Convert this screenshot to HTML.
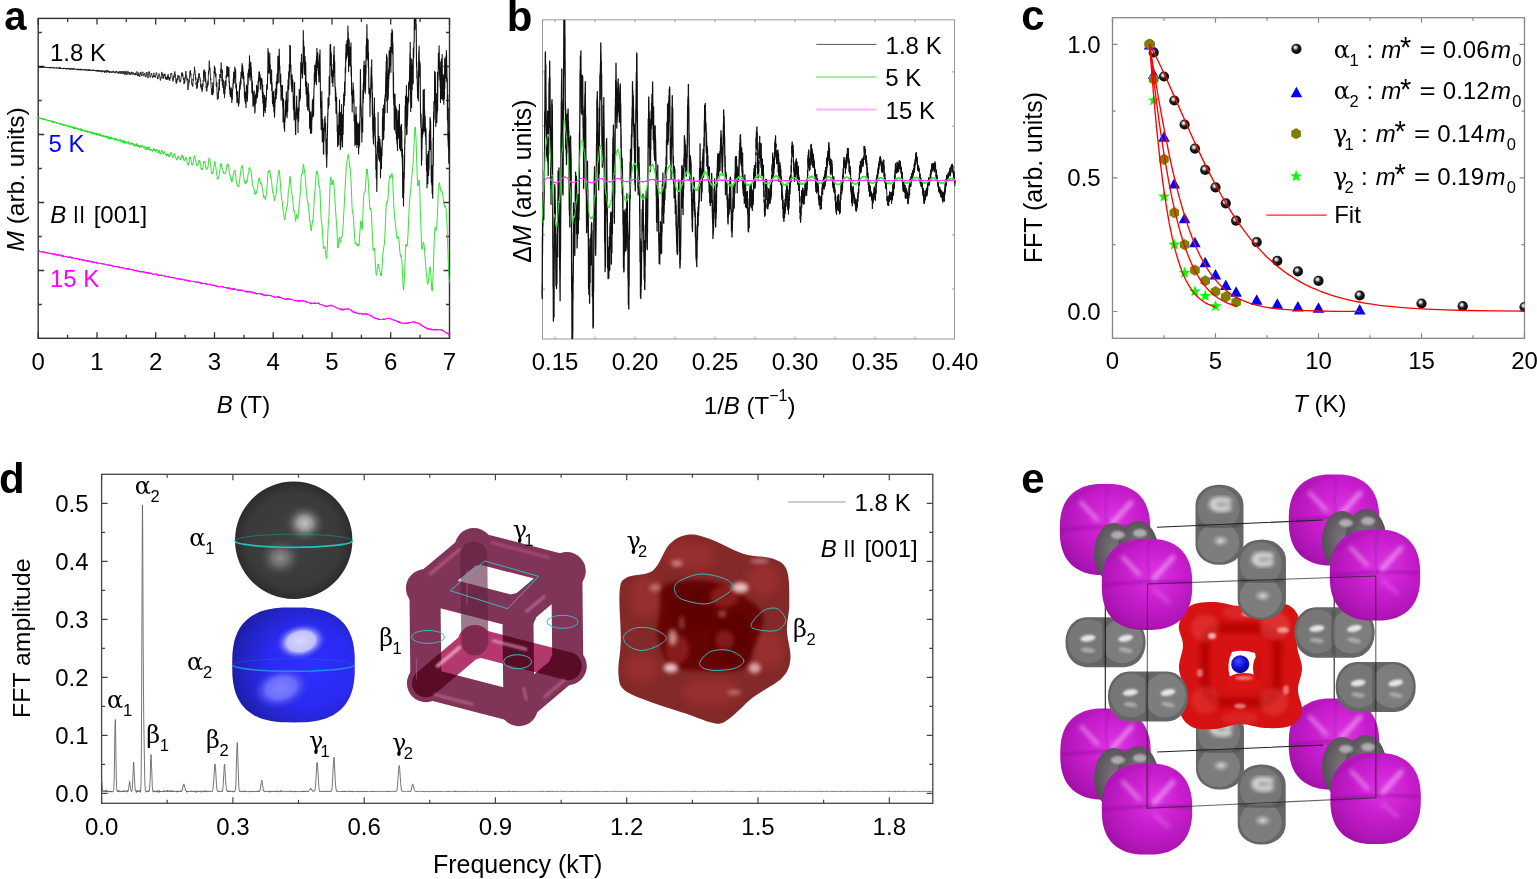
<!DOCTYPE html>
<html><head><meta charset="utf-8"><title>Quantum oscillations</title>
<style>html,body{margin:0;padding:0;background:#fff;} svg{display:block;} text{font-family:'Liberation Sans',Arial,Helvetica,sans-serif;}</style></head>
<body><svg width="1537" height="879" viewBox="0 0 1537 879" style="font-family:'Liberation Sans',Arial,Helvetica,sans-serif">
<rect width="1537" height="879" fill="#fff"/>
<rect x="38.2" y="18.4" width="411.3" height="319.9" fill="none" stroke="#333" stroke-width="1.4"/>
<path d="M38.2,338.3v-6M38.2,18.4v6M67.6,338.3v-3.5M67.6,18.4v3.5M97.0,338.3v-6M97.0,18.4v6M126.3,338.3v-3.5M126.3,18.4v3.5M155.7,338.3v-6M155.7,18.4v6M185.1,338.3v-3.5M185.1,18.4v3.5M214.5,338.3v-6M214.5,18.4v6M243.9,338.3v-3.5M243.9,18.4v3.5M273.2,338.3v-6M273.2,18.4v6M302.6,338.3v-3.5M302.6,18.4v3.5M332.0,338.3v-6M332.0,18.4v6M361.4,338.3v-3.5M361.4,18.4v3.5M390.7,338.3v-6M390.7,18.4v6M420.1,338.3v-3.5M420.1,18.4v3.5M449.5,338.3v-6M449.5,18.4v6M38.2,32.5h3.5M449.5,32.5h-3.5M38.2,66.5h6M449.5,66.5h-6M38.2,100.5h3.5M449.5,100.5h-3.5M38.2,134.5h6M449.5,134.5h-6M38.2,168.5h3.5M449.5,168.5h-3.5M38.2,202.5h6M449.5,202.5h-6M38.2,236.5h3.5M449.5,236.5h-3.5M38.2,270.5h6M449.5,270.5h-6M38.2,304.5h3.5M449.5,304.5h-3.5" stroke="#333" stroke-width="1.3" fill="none"/>
<text x="38.2" y="370.2" text-anchor="middle" fill="#000" style="font-size:24px" >0</text>
<text x="97.0" y="370.2" text-anchor="middle" fill="#000" style="font-size:24px" >1</text>
<text x="155.7" y="370.2" text-anchor="middle" fill="#000" style="font-size:24px" >2</text>
<text x="214.5" y="370.2" text-anchor="middle" fill="#000" style="font-size:24px" >3</text>
<text x="273.2" y="370.2" text-anchor="middle" fill="#000" style="font-size:24px" >4</text>
<text x="332.0" y="370.2" text-anchor="middle" fill="#000" style="font-size:24px" >5</text>
<text x="390.7" y="370.2" text-anchor="middle" fill="#000" style="font-size:24px" >6</text>
<text x="449.5" y="370.2" text-anchor="middle" fill="#000" style="font-size:24px" >7</text>
<text x="243.5" y="413" text-anchor="middle" style="font-size:24px"><tspan style="font-style:italic">B</tspan> (T)</text>
<text transform="translate(24.4,179.4) rotate(-90)" text-anchor="middle" style="font-size:24.5px"><tspan style="font-style:italic">M</tspan> (arb. units)</text>
<text x="49.9" y="60.8" text-anchor="start" fill="#000" style="font-size:24px" >1.8 K</text>
<text x="48.6" y="152.2" text-anchor="start" fill="#0000ff" style="font-size:24px" >5 K</text>
<text x="50.3" y="222.6" style="font-size:24px;font-style:italic">B</text><text transform="translate(72.8,218.9) scale(1,0.734)" style="font-size:24px">||</text><text x="93.7" y="222.6" style="font-size:24px">[001]</text>
<text x="49.9" y="286.6" text-anchor="start" fill="#ff00ff" style="font-size:24px" >15 K</text>
<path d="M38.2,67.0l.2-.7.2,.5.3,.4.1-.7.2,.8.2-.3.1,.1.2-.7.1,1.3.1-.8.1-.1.1,.5.4-.8.2,1 .3-.9.2,1.1.1-1.1.2,.5.1-.4.4,.5.1-.5.2,1.1.3-1.2.2,.9.1-.3.6,.1.1-.2.2,.3.3-.6.3,.5.3-.4.2,.2.1-.4.3,.7.2-.4.1,.1.3,.8.3-.8.1,0 .1,.6.1-.7.2,.5.2-.3.4,.8.1-.4.1,.3.1-.6.2,.1.1-.3.2,.5.1-.3.2,.3.1-.3.2,.5.1-.3.3,.1.2-.6.4,1.2.1-.6.3,.6.2-.8.1,.4.1-.1.2,.2.1-.6.1,.8.2-1.1.2,.6.1-.1.2,.5.3-.5.1,.5.2-.7.3,.9.1-.2.1,.2.1-.8.3,.1.2,.6.1-.4.3,.3.2-.4.4,.8.1-.6.1-.1.4,.3.1-.4.4,.5.2-.3.3,.6.2-.8.1,.3.2-.3.3,.9.3-1 .1,.4.1-.1.5,.2.3-.1.5,.5.2-.6.1,1 .2-1.3.3,1 .2-.8.1,.6.1-.4.3,.4.1-1.2.1,1.2.4-.2.1,.1.1-.4.3,.9.1-.5.1,.1.1-.2.2,.6.1-.1.1,.1.1-.4.1,.4.3-.5.1,.5.2,0 .2-.4.1,.9.1-.6.1,.4.3-.9.1,.5.1-.3.1,.4.2-.9.3,1.1.3-.6.1,.4.2-.2.1,.4.2-.8.1,.3.1-.2.1,.4.1-.2.2,.6.2-.8.4,.2.1,1.1.1-1 .1,.1.2-.2.2,.9.4-1.1.2,.8.1-.9.1,.8.2-.8.2,.8.3-.6.1,.7.1-.7.1,.7.1-.7.3,1.2.2-1.2.3-.1.2,.9.2-.3.2,.6.1-.6.1,.8.4-1.3.2,.6.1-.2.4,.7.1-.9.3,.7.2-.7.1,.4.1-.3.2,.8.3-.7.3,.7.1-.7.1,.9.1-1 .2,.4.1-.4.6,.8.1-.6.4-.3.1,.5.1,.1.1-.2.3,.5.1,0 .1-.5.1,.4.2,0 .1,.2.1-.3.1,.2.1-.3.2,.4.2-.4.1,.4.3-.2.1,.9.1-1.2.2,.8.2-.8.1,.8.2-.5.2,.2.1-.9.1,1.5.1-1 .3,.9.2-.6.4,0 .3,.9.1-1.1.2,.7.1-.6.1,.1.1,.7.2-1.3.4,1.1.3-.4.1,.7.1-.7.1,0 .2,.2.1-.1.1-.6.2,1.3.2-.4.1,.2.1-.8.3,.7.2-.6.1,.6.3-.2.3,.2.1-.4.2,.5.1-.6.1,.3.2-.3.4,.9.1-1.3.5,1.3.1-.7.2,.3.1-.2.1,.2.2-.4.2,.5.1-.3.1,.3.2-.6.2,.7.1-.3.1,.5.4-.7.2,.8.3-.7.3,.7.1-.7.3,.7.2-1.3.1,.9.3,.3.1-.4.1,.8.4-1.4.2,.7.2,.1.1-.2.2,.2.1,.5.2-.7.2,1 .2-.2.3-.9.1,.6.4-.7.1,1 .1-.6.1,.2.3-.1.1,.7.4-1.1.2,.8.2-.9.4,1.2.2-.7.3,.5.1-.5.3,.2.2-.3.1,.4.1-.4.4,1.1.2-1.2.2,.7.1-.7.1,1.1.4-1.1.2,1.1.1-.3.2,.3.1-1.3.3,1.5.3-.1.1-.9.4,.9.2-1.1.2,1 .2-.4.1,.5.2-.8.2,.4.1-.1.1,.8.2-.8.3,0 .1,.4.2-.4.2,.6.1-1 .3,1.3.2-.9.1,.4.1-.2.1,.1.1-.3.2,1.5.2-1.5.1,.3.3-.5.2,.9.5-.8.2,.8.3-.1.2,.2.1-.8.4,1.8.3-1.9.6,.9.3-1.3.4,2.6.5-2.2.3,1.3.3-.2.2-1.8.1,1.3.2,.2.1-.1.2,.7.4-1.5.1,.2.4,1.9.3-1.4.3-.1.1,1.2.1-.4.1,.7.3-1.4.3,.2.4,.9.1-.6.4-.3.5,1.4.3-1.6.2,.2.2-.1.4,1.2.4-1.8.2,.8.3,.6.1-.1.2,.3.3-.7.4,1.3.1-.8.1,1 .3-1.3.3-.5.3,1.1.1-.1.1,.1.5-1.6.4,.9.1,1.1.1-.7.3,.1.3-.5.3,.3.1,1.2.3,.6.5-2.6.2,.5.1-.1.1,1.6.8-2.2.5,2.3.1-.4.2,0 .1,.6.2-2 .2,.4.1-.3.5,2.2.6-1.8.1-1.2.3,1 .3,2.2.4-.7.2-1.8.2-.5.2,1.2.1-.5.3,3 .5-2.6.1,.9.2-1.6.1,1.4.4,1.2.1,0 .1,1.1.6-4.4.7,3.6.3-.9.1,.1.1-1.2.1,.7.3-1.5.7,3.3.2-.1.5-2.7.1,.4.2-.1.1,1.2.1-.3.2,1.2.3-.5.1,.5.1-1.1.2,.2.1-.3.2-1.5.1,.7.2-.2.1,.2.1,1.4.1-.4.1,.7.2-.6.1,.6.1-.2.1,.1.1-.5.2,0 .1-1.4.2,1.2.3,.6.1-.2.1,.9.1-.1.2,.3.1-.4.1,.5.2-1.2.4-.1.2,.4.2-1.3.3,2.4.2-.7.2,.4.1-.6.1,.5.2-1.5.4-1.9.2,1.5.1-.2.2,1.1.1,1.8.2-.5.2,1.1.3-1.5.1,.9.1-1.6.4-1.5.1,1.6.1-.3.1,.2.4,2.4.1-.3.1,.6.3-.3.1-1.9.1,.3.4-2 .1,.6.2-1.6.3,2.8.1-.2.5,1.7.5-3.5.3,.2.3-1 .6,4 .1,.3.1-.5.3,.5.3-2 .4-.5.1-.7.1,1.5.1-.2.2,.2.3,2.7.3-1 .2,.8.5-3.1.1,.2.1-1.9.2,.2.1-.3.2,1.8.3,.1.5,4.2.2-2.4.2-.4.2-1 .1,.2.3-3.2.2,1.5.1-.8.2,2 .1-.6.3,3.6.2,.3.2-.3.1,.4.7-2.4.2-1.8.2,.7.1-.3.2,.8.3,1.6.2,.7.1-.3.2,1.4.1-.7.1,.7.2-1.9.2,1 .1-.5.1-1.9.4-1.7.4,1.6.2,1.6.1-.7.1,1.3.1-.7.3,1.3.1-.5.4,.7.6-4.6.1,.1.2-.4.9,3.9.1,1.8.1-.3.1,1.2.2-.9.1-.1.1,.5.2-1 .2-1.8.3-.6.1-1.5.2,.3.1-.3 1.3,6.8.1-1 .2,.3.2-2.4.1,.8.1-1.9.2,.3.1-2 .5-2.7.3,3.1.2-1.3.3,2.6.1-.4.2,2.9.2-2.2.2,1.4.2-.9.1,1.1.2-4.1.3,2.1.3-2.2.3,.8.1-1.1.5,3.4.1-.5.1,2.2.1-1.9.2,2.1.2-1.5.1,.1.1,2.4.3-1.5.1,1.3.1-.2.2-1.6.1,1.5.1-2.9.1,2.3.4-3.1.2-1.1.1,.6.2-.9.1,4.1.1-2.1.5,2.9.2-1.2.3,2.3.1-2.9.1,0 .1,3 .3-3 .1,.8.2-1.4.2,0 .3-3 .1,.3.2-.9.1,.2.1-.5.2,.5.2-.4.1,2.1.5,2.8.1,.4.1-.1.1,1.2.2-1.4.2,3.4.5-2.7.1-2.7.2,2.1.2-2.6.1,1.4.2-3.5.3,1.4.2-3.4.3,3.8.1,.5.1-1.2.2,3.9.2,.8.1-.4.2,3.1.1-.8.2,2.4.3-4.1.2,3.1.4-4.6.3,1.8.3-4.5.3,.6.2-.5.1,.2.2,.8.1,0 .1,2 .3-2.5.1,4.2.2-.7.3,1.9.1-1.1.1,.1.2,1.8.2-1 .1,1 .1,0 1-7.8.2,.2.1-1.4.2,2.3.1-3.1.2,1.1.1,3.1.2-1.1.2-1.1.1,.1.4,4.6.1-.7.1,1.6.3-.7.2,4.9.3-1.5.1,.4.1-3.5.2,3.2.3-5.3.1,1.5.1,0 .6-7.8.3,1.1.2,4.9.3-1.4.4,4.7.2-2.3.2,5.2.1-.1.3,2.5.1,4.3.1-2.9.1-.5.1,.7.3-3.5.2,1.5.2-5.8.1,3.3.1-.3.5-8 .2,0 .3-3.3.1,2.6.1-1.2.1,1.1.1-3.5.2,5.2.1-1.8.2,4.7.3,.3.1,.7.4,5.2.1-.3.1,.1.1-1.5.1,1.8.2,.6.1-.7.2,2.1.3-2.6.1-5.2.1,1.9.4-5.7.1-.9.1,.4.1-.3.4-2.5.2-4.9.2,5.1.1-1.6.1,2.7.1-.6.1,.2.2,2.5.1-.9.1,5.4.1-3.2.2,2.7.1-.9.2,6.8.4-2.9.3,6.7.3-6.4.3,5.2.3-8.4.1,3.2.1-1.7.3,1.8.1-5.5.1,2.7.4-6.6.1,.5.1-.1.3,2.9.1-2.2.2,3.4.1,.3.2-.9.1,2.9.1-.3.1,.9.1-.5.2,.6.1-1 .1,6.9.3-2.6.2,4.3.1-3.1.1,3.5.3,1 .1-2 .1,.4.1,3.7.4-4.1.1,2.2.3-6.3.1,3.2.2-6.1.3,.8.3-9.5.2,6.6.1-8.6.1,6.2.2-6.4.4,4.9.1-2.4.3,9.3.1-9.8.4,10.5.1-3.6.5,9.7.1-2.1.1,4.6.1,0 .1-2.2.2,2.8.2-2.8.1-5.5.3,4.2.1-3.7.1,3.3.3-5.3.1,3.5.1-4.4.1,.9.3-10.4.1,3.8.1-4.3.1,2 .5-12 .2,9 .2-3 .1,3.7.1-1.8.1,2.3.3,1.2.3,8.1.2-1.8.1,5.1.1-.7.1,4.4.3,.8.1,6.2.2,.6.3-5.6.2,3.7.1-4.9.1,6.1.2-8.3.2,9.4.1-12.7.3,10.3.3-7.5.2,.3.4-14.2.2,1.4.1-7.1.1,5.1.1-2.8.1,5.6.3-5.9.1,6.6.1-2.5.3,5.3.1-1.4.2-.1.2-1.8.3,12.3.1-1.4.2,2.4.2-5.2.2,10.7.4,7 .3-3.3.1,.3.1-4.1.4,6.4.1-7.6.1,3 .4-6.8.1,3.4.2-11.8.1,10.5.3-9.5.1,2 .3-7.8.1,3.7.1-3.8.1,3.2.3-.8.3-7.9.1,4.3.2-10.3.3,8.7.1,.8.2-.8.1,1.9.1,7.8.3-11.3.1,15.3.1-8.4.2,5.2.2-2.4.1,8.4.2-7.7.1,5.4.3,1.2.1,3 .1-4.1.1,7.8.2-5.4.1,6 .1-6.3.2,10.3.2-7.4.1,3.1.1-3.1.1-9.1.2,7.6.2-8.4.1,4.8.1-5.1.3,5.8.3-10.8" fill="none" stroke="#1a1a1a" stroke-width="0.85" stroke-linejoin="round" />
<path d="M226.2,75.5l.2,2.2.2-2.4.1,1 .1-9.8.3,8.9.4-8.8.2,3.8.1-1.8.3,7.8.1-6.1.1,5 .2-7.2.3,3.7.1-4.6.2,15.3.2-1.1.2,8 .1-3.6.2,1.1.1,7.2.1-5.8.4,8.2.1-3.8.2-1.1.1,4.3.2-6.6.1,6.3.2-7.8.1,9.1.2,1.6.1-3.3.1,7.3.4-10.8.1,7.9.1-8.3.4-2.8.1,.6.1-5.3.1,3 .2-6.7.1-2.4.1,2.7.2-8.4.3,9.8.1-1.4.1,2.6.3-8.7.1,3.6.2-10.9.2,5.1.1-3.8.1,5.2.2,2.3.2-6 .2,16.2.1,1.7.3-2.1.1,3.2.1-4.8.1,10.3.2-2.4.3,10.8.1-6.5.3-1.7.1,7 .1-9.9.1,6.2.3,2.7.2-1.6.3,7.2.1-4 .2,2 .3-1.7.2-12.6.1,7.5.2-11.7.2,4.2.1-7.5.1,6.6.2-.4.2-7.9.1-.6.1,.4.2-3.4.1,7.2.1-11.9.1,5.7.3-6.1.2,4.2.5-12.5.1,4.6.1-.7.2,1 .1-3.2.1,12.6.1-10.4.3,11.4.2-7.2.1,3.2.1-1.7.2,5 .1-2.2.2,10.6.2-3.6.3,14.5.3-5.6.1,8.7.1-8.1.1-.5.1,.4.2,10.7.2-10.8.1,7 .1-2.2.2,10.4.1-13.9.1,2.5.1-8.8.2,8.9.1-11.2.1,4 .1-2 .3,11.4.1-10.2.1,13 .4-9 .2-18.9.2,11.5.2-12.9.1-.4.1,.4.1-2.4.2,7.9.1-5 .1,4.1.1-1 .1-11.6.2,5.8.1-13.8.2,14.3.3-7.3.2,17.3.2-11.9.2,6.7.1-2.1.1-10.7.2,6.4.2-1.4.1,5.6.1-.6.1,5.2.2-1.1.2,16.1.1-9.4.1-2.1.2,2.6.1-1.5.2,13.1.1-5.4.3,16.8.1-14 .1,7.9.1-2.8.2,4 .2-1.5.3-7.1.1,12.1.1-14 .1,10.6.1,1.2.2-5.7.2,15.7.1-14 .1,13.1.4-16.1.1,7.1.1-8.1.2,7.8.1-8.7.1,9.3.1-.9.2-10.7.1,6.9.1-1.2.1-12.2.3,11.2.1-8.6.1,10.1.1-10.9.3,9.7.3-7.5.1,1.9.2-9.9.1,10.3.1-9.1.4-5.5.1,5.1.1-9.9.4,5.8.2-6 .1,8.2.3-4.9.1,1.1.1-1.4.3,14.3.1-11.5.1,5 .1-3.3.2,5.5.1-6.2.1,1.2.1-.4.1,.2.2-.9.2,1.9.1-2.3.1,10.1.2-8.6.1,12.4.1-3 .2,8.1.2-12.2.2,17.8.1-1.6.2,.9.1-9.8.3,23.7.4-18.8.1,9.2.1-10.8.2,0 .1,5 .1-5.4.2,15 .2-12.9.3,14.9.1-14.3.2,6.5.2-7 .1,9.3.2-9 .1,3.2.3-7.6.2-8.6.1,4.3.1,.2.1-.8.1-3.5.2,4.2.6-22.7.1-18.1.4,11.7.1-8.5.2,20.4.3,1.3.1-6.1.1,5.2.1-14.6.1,13.6.2-10.9.1,7.3.1-14.9.1,14 .1,.7.2-3.1.1,1.2.1,14.5.1-2.7.2,6.1.1-7.2.3,3.2.2-1.1.1,2.9.2-11.6.1,20.5.2-8.1.1,3.8.1-2.2.4,19.6.1-6.7.1,5.2.1,1.5.2-3.6.2,6.3.1-13.8.3,4.1.1-5.2.2,18.7.1,2 .2-10.7.3,15.9.3-10.7.1,1.8.1-11.2.1,5.6.2-1.7.1-11.9.1,9.9.4-6.3.1,6.1.1-3.1.1,2.7.1-16.7.3,12.9.5-20.8.2,10.4.1-4.6.2,4.2.3-27.5.3,26.1.2-16 .1,6.1.4-17.2.1,0 .1,3.2.1-9.4.4,20.1.1,.5.1-3.6.2,16.6.2-9.1.4,13.2.1-12.6.4,26 .3-14.3.1,8 .2-5.8.1,9.7.3-10.8.2,12.1.2-13.8.1,18.3.2,3.8.1-6.2.2,20.7.1-17.7.3,10.1.1-15.3.2,21.2.2-2.6.1,9.6.1,.9.1-4.1.3,7.3.1-12.4.1,3.5.3-2.6.2-10.6.1,5.7.1-13.8.2,15.3.1-6 .1,4.4.4-23 .1,11.6.1-4.3.4,10.9.1-6 .1,13.7.1-10.7.3,4.5.1,.3.1-1.1.1-24.6.2,15.7.1-22.1.3,10.4.3-18.2.1,17.2.2-12.5.2,1.8.1-13.9.1,12.1.1-12.2.2,7.2.1-26.3.2,22.5.4-21.8.1,18.1.1,3.5.1,.1.2-2.6.1,14.4.1-5 .2,10.4.2-1.8.1,1.2.1,5 .1-14.1.1,16.5.2-16.8.3,12.2.4-7.2.1,5 .1-2.1.4,26.8.1-12.5.3,10.2.1-10.4.2,23.1.1-20.9.2,8.4.2-25.1.1,22.5.6,11.5.2,17.9.1-15.3.1,15.5.2-19.8.2-1.9.1,6.9.5-23.6.1,17.6.1-8.8.4,9.9.1-5.1.1,8.5.1-1.8.2,2.1.1-9.8.1,23.7.1-24.1.1,8.7.2-1.5.2,6 .4-21.2.1,10.8.1-21.8.1,7 .3,3.1.1-.5.1,2 .3-9 .2,6.7.5-36.3.3,10.8.2-3.9.1,1.1.1-16 .1,11.7.2-3.3.1,7.9.2-7.4.1,14.5.2-1.8.1,2.1.1-14.3.1,9.6.4-10.4.2-32.3.1,23.5.2-13.2.2,18.1.1-2.6.3,6.7.1-16.3.1,27.6.1-16.1.3,6.9.2-8.9.1,6.7.3,.9.1,22 .2-23.9.4,32.1.1-7.6.1,5.8.2-.5.1-10 .4,24.6.2-10.9.2,9.7.2-17.4.1,22.1.2-3.5.3-22.9.2,19.2.2-10.9.2,16.2.1-13.6.2,17 .2-1.1.1,1.7.1-3.1.1,19.3.1-15.4.2,10.9.1,2.8.1-6.8.4,13.5.3-21.4.4,20.8.2-7.3.2,7.8.2-15.2.1-.2.1,2.1.4-20.1.1,7.2.1,3.3.2-2.1.2,8.6.5-19.9.1,18.8.1-14.4.3-13.3.1,.1.1-2.6.1-12.4.3,11 .1-18.6.2,14 .2-9.4.1,11.7.1-15.1.2,11.9.4-14.9.3-2.9.2,24.1.1-28.3.1,14.3.3-22.6.2,11.5.1-1.1.2,.6.3,8 .1-14.3.4,18 .3,4.4.2-4.2.2,10.9.2-.3.1-21.2.1,12.2.2-18 .4,13.6.1-18.5.5,51.8.1,6.5.1-6.9.5,28.4.2-8.4.1,7.7.3-37.4.5,50.2.1-18.4.2,.3.1-4.1.3,18.3.3-4.6.1,20.4.1-4.9.2,5.6.1-26.3.2,1.3.1,11.7.2-12.7.1,.1.1-4.4.1,1 .1-6.7.2,7.3.1-9.1.5,15.1.1-8.6.5,30.9.1-15.2.1,18.5.1-10.7.3,20.8.2-11.8.3-1.8.1-19.9.1,1.9.4-22.4.1,2.5.2-18.1.4,10.6.2-10.7.3,7.9.2-29 .1,18.1.3-16 .1,16.3.4-50.2.2,9.2.3-9.4.1,7.2.1-.9.1,14.6.4-12 .2,22.5.1-5 .2,3.8.1-4.7.2,12.6.5-11.2.3,15.1.1-13.8.1,9.6.1-18 .3,12.1.1-19.3.1-2.1.1,6 .3-14.4.1,25.9.1-17.5.1,6.1.1,2.1.2-1.7.1,16.5.3,11 .2-2.1.1,14.1.2-11.7.2,7 .1-3.2.1,20 .4-12.5.1,6.4.1-9.7.1,11.2.3,8.4.1-.7.1,15 .1-7 .4,22.2.2-4.7.2-.4.1,2.9.1-6.9.1,3 .1-14.9.3,19.3.1-31.9.2,14.8.2-9.5.1,5.8.1-24 .2,34.8.2-16.1.1,10.3.1-16.8.3,37.3.1-19.3.1,3.6.1-.1.1,13.5.3-34.6.1,28.8.1-26.5.1,14.2.2-24.5.2,23.4.1-9.5.3,17.4.1-10.1.2,21.3.2-32.3.1,17.8.1,.2.1-11.3.1,13 .6-40.1.2,10.8.2-12.9.1,13.3.1-12.9.2,8.3.1-19.2.4,13.7.3-27.8.3,5 .1-18.3.1-1.2.1,8.9.1-17.6.2,10.9.2-3.8.1,7.3.3-3.2.1-14.6.1,.6.1,15.1.1-16.5.2,13.1.2-10.4.1,3.4.2-20.3.2,28.7.1-22.3.1,16.1.2-1.1.1,24.2.1-33.3.4,6.2.1-4.1.1,16.5.1-7.5.1,15.3.3-16.8.2,18.3.2-16.6.2,7.7.1-10.6.3,19.1.1-1 .1-22.1.1,32.9.1-9.8.2,2.4.2,26.5.4-4.1.2,21.4.1-19 .2-2 .2,12.2.4-20.3.1,17.2.1-13.3.2,12.3.2-9.3.2,12.4.1-3.2.1,21.9.2-7.9.2,6.5.1-3 .3,29.1.3-29.8.3,25.6.1-16.1.2,18.9.2-37.3.1,20.3.1-3.7.1,1.3.1-10.7.2,14.5.1-7.3.2,26.2.2-25.3.6,22.2.1-20.1.2,11.2.1,1.5.2-5.5.1,5.5.1-1.1.1,18 .3-30.4.1,24.2.4-19 .1-.3.1,16.7.1-24 .1,10.1.3-25.6.1,2.8.2-38.8.4,33.5.1-.6.1,5.9.2-1.1.1,9 .2,1.4.4,24.3.1-14.1.1,4.5.3-10.8.1,9.5.1-13.1.1,13.9.2-41.5.3,12.3.1-19.6.2,15.5.2-32.9.2,8.9.2-13.6.1,20 .1-10.7.3,15.1.1-9.4.1,15 .1-25.2.1,24.2.2-24.8.1,28.1.1-17.3.1,13.6.1-1.7.3-28.2.1,14.4.1-28.2.1,14.7.4-22.9.1,20.6.2-33.8.4,32.4.3-17.7.2,20.8.3-20.2.1,21.5.1,6 .1-15.4.5,41.7.1,.3.4-5.9.1,1 .3,5.4.2,22.2.1-15.8.1,2 .3-12.1.1,6.6.4-22.7.1,5.6.1-13 .3,15.4.2-22.9.1,29 .1-12.8.3,9.1.1,29 .1-21.5.3,34.2.1,4.4.1-4.4.2,11.2.2-14 .1,18.9.1,1.1.1-20 .3-9.7.1,18.5.1-24.1.1,3.7.2-14.6.1,29.6.1-14.2.2,22.9.3-18.7.2,29.1.1-10.1.3,10.5.1,22.4.2-10.9.3,19.9.2-23.5.3,36.7.5-45.2.2,6.7.1-10.9.1,8.8.2-9.9.1,4.7.1-33.1.2,35.5.2,2.3.1-4.3.1,13 .1-8 .2,.7.1-15.5.3,24.7.3-10.7.1,1.8.1-12.7.1,19 .2-15.7.2,13.3.1,21.9.4-30.4.1,12.7.1-4.6.2,11.1.2,1.8.1-18.6.3,6.4.1-1.6.2-15.1.1,7.3.2-30.1.1,10.9.1-1.7.1-17.3.3,10.7.1-7.4.4,27.8.1-34.6.1,32.4.1-25.1.3,18.2.4-32 .2,11.9.1-9.1.1,11.6.1-17.9.3,2.3.5-25.7.2,6.5.1-16.5.1,24.3.3-31.8.1,46.8.2-30.6.2,27.6.1-40.8.1,55.4.1-38.6.4,20.1.1-6.6.1,12.2.1-19.9.2,17.2.2-27.4.1,17.4.3-20 .1,11.7.1-28 .3,23.2.1-17.1.1,7.3.2-8.8.2,8.8.1-16.7.1,18.2.1-16.1.1,11.1.2-9 .1,15 .1-.4.1,6 .4-38.8.4,18.1.1-8.7.1,3 .1-16.5.3,23.2.2-21.2.2,22.9.2-11 .5,53.9.1-24.3.1,27.3.1-1.7.1,6.7.2-11.7.3,35.3.1-15.3.2,16.6.1-18.2.1-.6.1,4.1.1-21.1.2,16.6.1-1.2.2,9.4.3-12.7.1,27.2.1-23.7.1,6.3.2-3.1.2,26 .1,.7.1-30.7.3,35 .1-18.9.4,25.5.2-30.6.3,2.3.2-11.5.1,27.7.1-20.4.3,10.7.2-10.4.3,18.2.2-32.3.2,43.8.2-19.1.1-1 .1,3.1.1,18.1.2-22.3.2,23.9.4-21.8.2,6 .1-10.8.1,8.8.2-8.3.2,29.2.1-23.1.1,26.3.2-8.4.3,15.8.1-15.1.2,48.1.2-42.5.1,29.3.2,3.8.2-15 .1,32.9.1-14.1.2,1 .3-20.6.1,6.2.2-12.3.1,.9.3-28.1.2,4.2.1-37.2.2,21.7.2-31.7.1,16.8.1-15.3.1,4.5.1-3 .2,.8.1,9.7.2-23.9.1,49.1.3-24.3.2,23.6.1-37 .2,28.2.1-27.1.2,20.7.4-19.7.1,4.8.3-4.1.1-16.8.2,18.4.3-20.2.1,7.6.1-4.6.1,5.1.4-24.4.1,11.8.1-23.2.2,24.6.1-35.9.5,69.3.3-52.7.1,37 .2-36.9.1,23.7.1-11.7.1,36.6.1-30.4.2,4.3.1-11.4.2,19.6.2-24.8.2,2.5.2-7.8.3,24.3.1-2.3.1-33.4.4,9.6.2-14.7.3-1.7.1-21.9.4,10.3.1-10.3 1.1,0 .1,10.4.2-5.4.3,40.3.1,2 .1-4.6.2,16.1.2-7.4.5,27.1.2-13.6.1,8.4.1-6.5.3,14.5.5-49.3.1,13.6.2-19 .3,20.8.2-6 .1,16.1.3-14 .1,22.4.1-21.6.1,33 .4,25.7.1-6.3.1,11.5.2-13.3.4,50.9.2-13.4.1,8.6.1-21.1.1,10.3.2-21.1.1,8.7.1-4.4.1,4.2.4-18.3.1,15.4.2-44.1.2,28.6.3,12.9.1-30.5.2,13.3.1-1.8.2-23.3.2,41.5.1-20.3.5,22.1.1-16.2.2,19.6.1-8.9.4,17.5.1-15.7.4,36.5.1-4.5.1,10.1.2-12.1.1,.1.1,28.8.2-28.5.3,20.3.1-25 .2,29.2.5-32.4.3,24.1.3-21.8.1,15.7.3-35.2.1,6.8.1-10.2.3,18.8.2-32.2.3,20 .1-17.7.1,20.1.1-18.6.3,30.6.1-10.7.3,41.4.2-16.2.3,18.7.2-19.4.2,27.7.2-27 .3,32 .5-60.6.1,27.7.3-53.5.2,9.8.1-20.1.2,17.8.3-18.6.1,1.9.1-29.6.1-1.8.3,28.1.1-10.4.1,8.4.1-24.8.5,54.1.1-12.5.2,6.3.1-15.4.2,16.6.2-4 .1-24.1.1,29.2.2-12.4.2,2.7.1-6.7.2-34.1.1,38.4.2-25.7.4-11.7.2-20 .1,15.4.2-9.9.2-1.9.1,3 .1-14.1.5,29.2.2,4.8.1-12.4.3,19.6.2-14.6.1,30.1.2-40.6.1,21.4.1,2.3.1-13.6.3,21.2.1-34 .1,39.7.3-24.2.1,23.4.3-43.4.2,40.6.2-18.7.2,23.6.2-19.3.1,5.4.2-11.5.4,11.4.1,18.2.3-16 .1,6.6.1-6.1.1,10 .3-40.5.1,30.1.1-12.4.1,6.1.1-20.8.4,11.6.1-7.1.1,12.2.2-21.7.1,16.1.1-15.9.1,5.3.2-11.2.1,15.1.1-11.2.1,27 .1-16.4.2,14.3.1-1.6.1,5.9.1-5.7.1,41.2.2-24.4.1,28 .1-27.7.1,43.8.1-6.9.2,12.9.1-36.9.1,40.1.1-14.6.3,29.7.2-27.4.1,11.4.2-13.8.1,17.6.1-4.8" fill="none" stroke="#111" stroke-width="1.1" stroke-linejoin="round" />
<path d="M38.2,117.9l.1,.1.3-.4.1,.8.2-1 .4,.8.2-.3.3,.7.2-.7.1,.8.2-.8.2,.8.1-.3.4-.2.2,.9.1-.9.2,.4.2-.1.1-.4.2,1.1.1-.9.1,.8.2-.8.2,1.2.1-.7.1,.3.2-.1.2,.5.3-.7.3,1 .1-1.4.4,1.4.2-.5.1,.6.1-1 .4,1.1.2,0 .2-.4.2,.3.2-.1.2-.5.2,1 .2-.9.2,.9.1-.2.1,.1.1-.2.3,.5.2-.6.4,.1.2,.6.1-.5.2,.9.1-.4.1,.7.1-.5.3,.3.1-.6.1,.5.3-.1.1,.2.1-.8.4,1.2.1-.3.3,.1.3-.7.1,.7.2,.1.2-1.1.5,1.4.2-.3.4,.5.1-.5.1,.1.1,1 .3-1.2.1,.8.1-.4.1,.7.1-.8.3,.9.2-1.4.3,1.5.3-1.1.3,1.4.5-.9.1,1 .3-.8.4,.9.4-1.2.1,1.2.1-.6.1,.9.2-.3.2,0 .1,.5.3-.7.1,.6.1-.5.2,.3.2-.5.2,.6.4,0 .1,.3.2-.9.4,1.4.2-.7.3,.5.2-.4.1,.4.2-.5.2,1.2.1-1 .4,1.3.2-1.3.4,1.3.2-.7.2,.7.2-.6.4,.6.2-.9.1,1.2.3-1.4.1,.9.1-.7.1,1.8.2-1.6.2,1.6.2-1.2.3,.2.2,.8.4-.7.1,.3.2-.2.2,.5.2-1 .1,1.3.2-.3.2,.7.1-.6.4,.3.5-.5.1,.4.2-.3.1,.8.2-.4.1,.4.1-.8.3,1 .1-1.1.1,1.2.2-.6.3,1.1.2-1 .1,.7.2-.6.2,.7.1-.6.1,.8.2-.2.2,.7.3-1.1.2,.4.1-.7.3,.1.1,.5.1-.1.1,.5.1-.6.3,.7.1-.3.1,1 .1-1.5.3,1.3.2-.9.1,.4.3-.2.1,1.4.1-1.2.2,.2.1-.7.2,1.5.3-1.3.1,.3.1-.4.1,1.6.1-.5.2,.5.1-1.2.1,1.1.1-.9.4,1.3.2-1.3.2,1.5.1-.9.1,.8.1-1.3.1,.8.2-.4.2,.7.1-.2.1,.2.2-.5.2,.7.1-.7.1,.9.2-1 .1,1.1.1-1.1.5,1.2.1-.5.1,1.1.3-1.2.1,.8.1-.6.1,.9.4-1.1.1,.9.1-.3.2,.1.1,.5.1-.5.1,.9.2-1 .2,.3.1-1.4.3,2.1.1-1.2.1,1.7.1-.9.3,.5.1-1.5.2,1.7.1-.6.3,.1.1,.3.3-.4.1,.5.1-.5.4,.4.1,.7.2-.9.1,.2.3-.7.2,1.6.1-.8.2,.8.3-.6.2,.3.1-.2.2,.4.1,.5.2-.6.1,.2.1-.4.1,.6.1-.8.4,1 .1-1.4.3,1.8.1-1.1.3,.6.3-.8.1,1.6.1-1 .4,.5.2-.3.3,.7.2-.7.4,1.1.1-.9.2,.8.2,0 .1-1.2.1,1.3.3-1.2.1,1 .1-.6.2,.8.3-.3.1,1 .2-1 .2,0 .2,.5.2-.7.5,1.9.2-1.6.1,0 .1,1.5.4-2 .3,1.3.1-.9.2,.2.1,1.2.3-1.1.4,1.6.1-1.2.2,.8.2-.5.1,.7.1-.7.2,.3.1-.7.2,1.7.4-1.6.2,2.1.3-2.5.2,1.5.3,0 .1-.6.1,1 .4,.4.2-1.6.4,1.7.2-1.1.2,1.1.2-.7.1,.8.1-.7.3,0 .3,1.6.1-1.3.2,.4.2-1.2.1,1.2.1-.7.2,.6.1-.7.5,1.6.1-.5.1,.5.2-.7.3,1.3.2-1.2.3-.3.1,.6.1-.4.3,1 .1-1.3.2,.6.1,1.3.2-.7.1,.4.1-.4.1,.3.1-.7.5,1.3.2-1.1.2-.4.1,1 .3,.2.2-.7.2,.1.2,1 .3,.8.3-2.3.5,2.2.3-2.2.5,1.8.4-.9.3,.8.3,1.8.1-1.2.1,.5.1-2 .5,2.3.5-2.1.2,.6.3,1.9.5-2.4.6,2.3.2-.8.5,.2.1,.5.1-.5.2,.4.2-1.1.1,.6.1-.9.5,1.6.1-.2.2,.3.2-.7.6,2 .4-1.7.1,.3.1-1.4.4,2.3.1-.8.1,.7.1-.8.2,.3.1-.8.1,.2.1-.3.5,2.3.1,0 .2-.8.1,.7.1-1.3.7,1.8.6-1.4.3,0 .2,.8.1-.3.2,.5.3-2 .1,1.5.2-.5.2,1.2.1-.5.4,1.1.1-.9.3-.3.1,.1.7,2.3.1-1.6.5-1.1.4,1.8.1,.3.1-.2.1,.5.5-2.3.7,3.4.3-.6.1-1.3.1-.1.1,.5.2-.8.6,2.2.3-.6.3-1.2.3-.1.2,.2.2,1.4.5-1 .1,.5.1-.6.3,.2.1-.9.2,2.4.2-.4.1,.7.1-.4.2,.5.8-1.4.1,.9.1-.1.2,.8.2-.3.1,.7.7-2.2.1,.7.2-.5.3,1.2.1-.2.2,.2.1-.4.2,.6.4-1.2.8,3.3.3-1.3.2,1 .1-1.1.2,.5.1-1.6.2,1.2.1-.6.2,.8.1-.3.2,.9.2-.6.1,.8.1-1.1.4,.5.1-1.5.1-.2.1,.8.1-1.1.5,1.8.1-.3.3,1.9.1-1.4.3,1.1.4-1.6.2,0 .2,.9.1-.3.1,.8.2-.5.1,1.5.1-.3.2,.7.2-.9.2,.2.3-1.4.1,.6.1-1.1.2,.9.2-.3.1,.1.2,1 .1-.5.2,.2.1,.9.3-.9.2,.1.1-1.1.2,.1.1-.4.2,1 .3,.9.3,.1.1,.5.1-.4.1,.8.2-.3.1,.5.3-1.8.3,.1.1-.4.5,2.5.1-.2.5,1.5.1-1.3.1,.8.3-1.4.1,.3.2-1.7.3,.5.1,0 .1,.8.1-.9.3,1.6.1,.4.3-.4.1,1.1.1-.4.1,.2.4-2.6.1,.4.4-.8.1,1.1.1-.5.4,2 .1-.3.1,.1.1,1.1.3-.6.1,.9.1-.3.1,.2.3-1 .2-.2.1,.2.3,0 .1-.4.6,2.2.1,.1.2-.4.2,.5.4-1.4.1,.5.1-1 .1-.1.1,.3.2-.9.2,.9.1-1.1.1,1.4.3,.2.1-.1.2,.8.2-.4.1,.4.2-1 .3,1.8.3-1.9.2-.2.1,.2.2-.4.3,1.2.1-1 .5,2.6.2-.1.5,1.1.1-.9.4,.4.3-2.3.3,.6.1-.1.1-.9.3,2.3.1,0 .2,1.5.3-1 .3,1.3.3-.9.1,.7.1-.2.1-1.8.2,.2.3-1.7.1,.6.3-.7.2,1.2.2-.3.2,1.6.2-.5.3,1.4.1-.8.1,.1.3,1.2.1-1.5.2-.1.1,.7.3-1.5.2-.1.2,.3.1-.2.6,1.7.1-.2.2,1.3.2-.8.1,1.4.1-.5.2-.1.2,1.5.1-1.2.2-.3.2,1.4.4-2.1.2,.6.1-.9.2,.9.5-.3.1,.7.1-.1.3,2.1.2-1.1.3,.9.2-1.1.1,.7.2,.2.1-.1.1-1.4.1,.4.4-1.8.1,.4.1-1.1.4-.7.1,.7.1-.1.1,.4.2-.1.3,2.2.8,1.5.1,.9.1-1.2.1,.8.3-.3.6-2.8.2-.2.1,.5.3-1.1.5,2.1.1-.1.1,.4.1,1.5.1-.3.4,1.4.4,.7.1,1 .1-.8.3,.7.1-.8.1,.6.2-1.8.2,.5.3-1.6.1,.5.2-1 .1,0 .1-.2.1,.3.1-.4.2,.5.2,0 .6,2 .3-.4.4,1.4.3-.8.2,1 .4-2.4.1,.4.4-1.3.2-.2.1-.6.2,.1.1-.9.1,.9.1-.3.3,1.1.1-.9.1,1.8.1-1.1.1,1.5.3-.6.1,2.1.1,.1.1-.7.5,2.1.3-.9.1,.7.4-1.5.1,.6.6-2.3.2,.1.4-.6.7,3.4.1-.1.4,3.4.1-.2.1,.8.2-.5.1,1.1.3-.6.2,1 .1-1.4.1,.3.6-2.2.6-5.1.3,.7.1-.8.1,1.1.5,1.2 1,5.1.2,.8.1-.4.3,.7.1-.2.6-2.2 1-6.5.1,.2.1-.5.1,.3.3-.9.9,5.5.2-.6.1,1.5.8,3.7.1-.2.3,.6.3-.2.2-.7.2-.2.1,.2.1-1.1.2,.2.1-1.1.5-1.6.1-1.3.1,.7.3-.4.2,.3.2,1.5.2-1.4.6,4.6.3,1 .5,2.9.1-1 .2,1.1.2-.8.1,1 .1-.3.2,.4.1-.4.2-.1.1-1.2.3-.3.7-5.6.1,.6.2-.9.1,.6.3-1.6.6,1.3.5,2 .2,1.8.3,1.6.1-.2.3,1.1.1,.2.1-.1.1,.9.2,.2.3-.9.1,.1.2-.4.1,.1.2-1.3.2,.4.9-8.9.5-1.1.4,.4.1,1.5.2,.5 1.7,13.9.1-.5.2,.3.2-.1.2,.3.3-1.2.1,.2.1-.4.2,.2 1.2-9.3.1,.2.3-2.4.2,1.5.1,.3.1-.3.6,3.9.1-.1.9,8.1.5,1.9.2,2.3.1-.9.2-.1.2,.9.2-.9.2,.7.4-1.3.2-1.2.2-1.2.1,0 .1-2.3.2,.3 1.3-9.1.1,.9.1-1 .2,.2.1-.2.1,.1.7,4.1.9,2.8.1,1.7.1-.8.4,1.6.1-.3.1,.1.3,.8.3-.5.3,.7.5-.6.1-.7.1,.4.1-.1.4-1.3.1,.1.1-1.7.6-2.7.1-1.6.2,.4.2-1.8.1,.6.4-1.1.2,1.3.2-.5.2,1.7.1-.5.1,.7.2-.5.4,4.9.7,3.8.1,.3.1-.3.7,4 .1-.7.3,.9.1,1.3.1-.6.1,.1.2,1.9.1-.9.4,1.1.3-2.8.4-1.7.1,.3.1-1.3.1,.2.4-3.4.1,.7.5-2.7.1-.2.2,.2.1-.4.1,.6.4-1 .4,2 .9,8.3.5,2.7.1,.5.1-.4.3,1.5.2-.5.1,.2.5,2.1.1-.2.1,.5.2-.5.1,.3.2-1.1.1,.2 1.6-12.8.7-5 .7-2.5.1-.1.1,.6.1-.4.3,.9 2,16 .1-.7.2,.6.4,.9.2-.3.1,.1.1-.9.2,1.2.2-.2.5-1.6.1-1.5.2,1.2.1,.2.2-.3.4-1.8.3-3 .3-2.6.5-1.9.2-1.5.2-.5.2-1.9.2,.9.2-1.8.1,1.3.1-.3.2,.9.1-.1.1,1.3.5-.4.2,.1 1.2,10.8.2-.2.1,1.7.2,.8.1,2.5.2-.2.1,1.4.5,.4.1,.6.1-.1.4,1.4.1-.4.8,5.2.2-.8.1,1.3.1-1.3.2,.4.2-.6.1,.2.1-.8.1,1 .2-1.1.1,0 .1,.3.2-1.9.5-.7.4-1.4.3-4 1.1-6.7.3,1.4.1-1.1.4,1 .3,2.8.1-.4.2,.8.1-.2.4,1.6.1-.2.1,.2.2-.5.3,1.4.1-.7 1,6.8.3,1.4.6,5.2.2-.6.2,.7.2-1.1.2,0 .1,.8.2,.1.1-.4.2,1.5.2,.9.2-.5.2,.8.8-6 .9-9.5.6-9.9.2-2.2.4-1.1.3,1.5.5-.9.1-1.1.3-.3.2,1.1.9,6.6.1-1.2.5,4.8.1-.2.1,.1 1.1,11.3.1,0 .2-.7.1,1.4.6,1.5.6,6 .5-1.3.3-2.6.2,.1.1-.3.2-1.2.1,.3.3-1.2 1.7-16.5.6-4.5.2-1.2.1,.5.2-1.8.2-.9.4,1.4.1-.1 1.7,23.6.6,4.8.3,1 .8,8.3.1-.1.5,4.5.3,1.4.6,4.8.3-.5.2,.4 1.1-7.4.3-3.1.1,.1.5-2.5.1,.1.1-.4.1,.4.3-1.4.9-15.1.8-4.5.7-9 .2-.5 1.5,15.4.5,3 .2,.5.6,5.7.7,9 .3,1.2.1-.4.2,0 .3,.5.1-.4.9,10 .1,.4.1-.6.1,.1.7-6.7.3,.1.4,1.7.3,3 .1-.6.2,.2.2-2.6.2-.4.6-6.5.2,.1.1-2.9.7-6.8 1.5-23 .3-2.3.2,.1.1-.3.2,.5.3-.7.6-6.6.4-2.8.3,.7.4,4.3.1-.4.7,5.1.6,5.8.6,8.8 1.2,11.2.5,3.2.1-.4.1,1 .2-.2.1,.6.3,2.7 1.1,14.4.2,1 .1-.4.6,4.6.1-.5.1,2.6.1,.9.2-.1.1,.4.1,1.4 1.2-10.3.1,.7.2-.2.4-3 1.3-23.1.9-9.4.6-9.6.9-5.2.2,.7.1-.5.8,4.3.8,10.6.1-.2.3,.9.2-.6.5,3.5 1.1,27.1.5,6.1.1-.1.2,1.2.2,1.4.1-.1 1.2,21 .5,2.7.3-1.3.5-1 .3,1.4.1-.2.1,.4 1.1,10.1.2,.6.4-.7.2-2.6 1.1-28.2.9-11.2 1.2-33.9.4-4.7.2-.7.1,.5.5,5.4.1,0 .3,2 .1-.9.1,.4.1-.3.1-1.3.2,1 .2-2.5.3-.1.1-1.1.2,1.3.3-.1.1,.2.1,2.2.1-.1.7,7.7.8,15 1.4,20 1.1,21.3.3,.6.1,0 .8-9.4.3-1 .1,1 .1-1.3.1,1.9.3,.5.3,3.1.5-1.3.6-4.6.1,.6.2-1.2.1,.2.1-.7.1,.7.6-2 .6-8.6 3.2-59.5.2-2.4.4-1 .2-2.3.4-1.1.4-3.7.2-.9.1,.3.1-1 .2,1.6.2,0 1,11.2.1-.9.7,4.6.5,8.5 1,26.7.5,7 .7,2 .3,2.9 1.3,22 .4,3.9.5-.9.3,1.1.1-.8.1,.7.2-.9.7,2.5.1-.7.1,.5.1-.8.1,1.2.2-.8.1,.7.1-.7.1,.8.1-.6.3,.7.6-1.6.1,.6 1.5-23.5.2-.6.4,.8.6,6.9.1,.1.1-.3.1,1.3.2-.8 1.4-33.1.5-3.5.1-.3.1,.3.2-.3.1,.3.2-.1.1-.7.2,0 1.5-22.3.2,1.1.2-1.3.1,.5.7,6.4 1.4,23.9.6,7.9.1-.3.1,2 .1-.9.2,1.2.1-.5.2,.1.1-.5.4,1.9.1-.1 1.8,39.4.2,1.1.1-.3.2,.3.2-1.1.1-.1.1,.2.4-2.2.3,2.7 1.1,20 .2,3 .4,2 .3-.5.8-8.6.2-1.2.2-.3.1,.1.1-1 .5,2.7.2,0 .2,1.4.1-.4.1,0 .2,2.2.9,2.6.1,1.3.1-.6.4,2.4.1-.7.1,1 .2-1.1.2,.1 1.6-22.9.5-4.1.6-2.5.6-7.6 1.4-32.6.1,.2.4-3.5.1,.2.4,0 .1-.4.2,.7.4-2.5 1.1-18.2.6-5.2.4,0 .1-1 .1,1.6.2-.6.3,1.4.5-1.8.1,0 .2-1.9.2,.8.2-1.5.5,2 .3,4.6 1.1,26.1.8,11.2.9,6.8 1.1,11 .6,3 .1-.7.2,.9.1-.8.1,.2.3-1.5.2,.3.1,1 .1-.5.4,1.4 1.2,14.4.7,3.7.2-.8.1,.4.1-.6.2,.2.8,8.1.9,20.8.6,5.4.8-11.9 1.1-29.4.4-4.3.2-.3.1,.8.1-.7.1,.7.1-.2.4,1.7.4-1.1.1-1 .7-11.5 1.2-28.3 3.5-38.4.5-6.5 1.6-31.7.1,.2.1-1.1.2,.2.1-.2.6,10.6 1.4,44.1.4,4.2.1-1.3.1,.6.2-.1.2-.9.6-4.3.4,2 .2,3.9 1.5,47.6.6,14.4.3,1.6.4-.5 1-7 .1,.7.2-.3.6,4.5 1.7,22.9 1.1,10.5.5,3.2.1-.1.1,.9.5-1.8 1.1-11.7.6-4 .3,1.4.1-.1.3,4.4 1.1,17.6.3,.9.2,.1.6-11.1 1.6-47.2.6-5.4.2,.9.2-.8.2,2.1.4,1 .1,.1.4-1 .7-12.1 1.1-26.1.5-6.7.6-2.1.2,2.5.1-.4.1,.5.8,5.3.1-.3.4,1.5.1-.1.2,.4.3-.1.1-.6.2-.1.5,1.6 1.2,10.5.1-.3.5,3.5.3-.2.1-.8.1,1.6.1-1.1.1,.6.3-.7.2,.4.5,2.3.9,14.8 1.3,40.9.6,11.8.6,6.4" fill="none" stroke="#22dd22" stroke-width="0.9" stroke-linejoin="round" />
<path d="M38.2,251.0l.2,.6.2-.4.2,.7.1-.6.1,.1.3-.6.1,.6.1-.7.2,.9.1-.5.1,.8.1-.5.3,.2.1-.3.1,.9.1-.7.1,.4.3-.4.3,.6.2-.6.1,.5.1-.4.1,.7.2-.9.1,.8.1-.7.1,.6.1-.4.2,.3.1-.3.1,.3.1-.4.3,.2.1-.3.1,.9.1-.7.3,1 .3-1 .2,.8.2-.2.1,.8.1-.9.2,.6.2-.9.2,1.2.2-.6.2-.2.2,.8.2-.4.1,.3.1-.9.1,.9.3-.2.1,.4.2-.3.3,.1.1-.5.2,.9.3-.7.1,.6.4-.4.3,.6.1-.4.2,.5.1-1 .2,.8.2-.4.1,.4.2,0 .3,.4.2-.7.1,.6.3,0 .2-.8.1,1.1.1-.5.3,.3.1-.2.1,.6.2-.7.2,.7.1-.9.1,.3.2-.1.1,.9.5-.9.1,1.2.1-.6.1,0 .1-.3.3,.8.1-.3.1,.3.3-.4.1,.3.1-.3.1,.7.2-1.4.4,1.7.4-1.5.2,1.1.2-.6.2,.5.1-.4.4,.9.2-.8.3,1 .1-.7.1,1.2.1-1.6.2,.8.2-.7.1,1.1.3-1.2.1,.9.5-.5.2,.7.4-.5.1,.4.1-.6.1,1 .3-.9.3,1 .4-.3.2,.6.4-.7.1,.8.2-.3.1,.5.2-1.9.1,1.3.5,.8.4-1.1.1,1.1.2-1 .2,1.2.1-.9.1,.8.3-1 .3,.8.3-.5.1,.4.3-.3.2,.9.1-.6.1,.3.2-.5.2,.3.1-.4.1,.9.1-.2.2,.2.1-.3.3,.4.2-.3.1,.2.1-.4.1,.4.1-.6.3,1.2.1-.6.1,.5.3-1 .5,1.4.1-.6.1,0 .1,.5.1-.6.3-.1.1-.4.2,.8.3-.4.1,.7.1-.9.4,.8.1-1.5.1,1.1.3-.3.2,.6.1-.2.2,.6.1-.5.1,.8.2-.7.2,.8.1-1.2.1,1 .1-.7.1,.5.2-.1.1,.3.1-1.1.1,.5.1-.2.4,.7.4,0 .2,.6.3-.7.1,.5.1-.3.4,.5.3-.1.1-.5.3,1.1.1-.9.3,.4.1-1 .2,.7.3,.2.1-.2.1,.6.2,0 .2-.8.2,.9.1-.6.1,.5.2-.5.1,.7.1-.6.1,.5.4,0 .2,.6.2-1.1.2,1.3.2,.4.3-1.5.1,1.2.1-.5.1,.5.2-1 .2,.4.3-.5.2,.9.4,.5.1-1.3.1,.8.2-.2.2-.5.1,.8.1-.6.4,1.3.1-.9.1,.5.4-.3.1-.3.1,.7.1-.3.3,.2.1-.3.1,.3.1-.4.3,.9.2-.8.1,.6.7-.2.1,.8.1-1.2.2,1 .2-.8.1,.3.1-.3.1,1 .1-1.1.3,1.5.1-1 .5,1 .1-.9.2,.4.2-.7.2,.9.1,.1.3-.6.2,.8.1-.8.3,.5.1-.8.1,1.1.1-.4.2,.8.3-.9.1,.9.2-.8.2,.4.1-.9.3,1.1.1-.4.1,.9.1-1.1.3,.6.1-.2.1,0 .1-.5.4,1.5.1-.6.1,.4.3-.6.2,.6.2-.8.1,.5.2-.3.1,.7.3-1.3.2,1.4.1-.4.3,.6.5-.6.1,.9.2-1 .2,.4.1-.5.2,1.1.1-.7.2,.5.3-.9.1,.7.2-.3.2,.1.1,1.3.3-1.2.2,.6.3-.6.3,.6.4-.6.2,.8.1,.1.2-.6.1,.2.2-.1.1,.1.3,.7.4-.6.2,.5.1-.6.1,.6.2-.3.3,.7.1-.3.2,.1.1-.6.1,.7.2-.5.2,.3.2-.3.1,.9.1-.4.2,.3.1-.8.1,.5.3-.7.1,.7.2-.1.1,.3.2-.6.2,.1.6,1.2.1-.8.1-.1.3,.6.4-.3.1-.6.1,1 .2-.4.4,.6.4-.7.1,.9.3-.7.2,.2.2,0 .1,.8.2-.4.1,.6.2-.5.1,.3.3-.7.1,.5.6-.2.2,.6.3-.5.1,.4.1-.7.2,.6.1-.5.1,1 .2-.6.3,.1.1-.8.1,.8.3,.4.1-.7.3,1.1.2-.7.1,.3.2-.3.2,.7.2-.6.6,.8.1-.7.3,.8.1-.4.2,1.1.1-1.6.3,1.1.2-.5.3,.4.5-.3.2,.5.1-.2.1,.6.2-1.2.1,1.1.1-.6.1-.1.3,.2.1-.3.1,.8.2-.4.3,.2.1-.7.1,.8.5-.1.1,.2.5-.6.1,.8.2-.8.1,.8.1-.3.4,1 .1-1.4.1,.8.3-.6.1,.5.1-.6.4,.7.1-.2.1,.6.1-.5.3,.3.1-.1.1,.7.2-.9.2,.9.2-1 .4,.9.2-.8.1,1 .2-.3.1,.3.2-.4.3,.2.1-1 .1,.9.1,0 .1-.3.3,.6.1-.4.1,.7.3-.8.3,.3.2,.7.1-.4.2-.2.4,.7.3-.9.3,.7.4,.2.1,.7.3-1 .2,.2.2-.5.1,.8.1-.7.3,.8.1-.7.1,1 .4-.6.2,.8.4-1.5.4,1.5.1-.4.1,.5.1-.4.3,.2.1-.2.2,.2.1-.7.4,.9.5-.6.2,.9.2-1.1.2,.3.1-.1.1,1 .2-.4.1,.2.1-.6.1,.9.3-.8.2,.7.1-.8.1,1.1.2-.7.1,.3.1-.3.3,.6.1-.2.1,.6.1-.6.1,.3.2-.4.2,.6.2-.7.2,1.1.2-.9.1,.7.3-.6.1,.6.2-.8.4,1.4.1-.4.1,.1.2-1.1.2,1 .1-1.1.3,.8.1-.3.1,.2.2,.9.3-.5.2,.3.2-.6.1,.7.1-.7.4,.7.1-.4.2,.8.1-.6.2,.1.1-.2.5,1.3.3-1.5.3,.4.2-.1.1,.9.3-.9.8,1.2.1-.7.2,.2.1-.1.1-.7.2,.9.2-.4.1,.8.1-.8.3,.5.2-.5.2,1 .2-1.1.1,.7.1-.5.1,.7.1-.4.2,.4.1-.4.2,.5.1-.7.3,1.4.1-.6.3,.5.3-.4.3,.7.2-1.1.1,.7.1-.7.3,.4.1-.2.4,.7.2-.7.1,.8.2-.6.1,1.2.2-.4.1-1 .2,.7.1-.5.1,.9.2-.9.3,1.2.1-.9.2-.2.3,1.2.2-.8.2,.6.1-.4.1,.4.2-.5.2,.5.1-1.3.1,1 .1-.1.1,.4.2-.3.3,.7.1-.5.2,.2.1,.9.5-1 .1,.7.1-.6.3,.3.2-.6.1,.2.1-.2.2,.6.1-.1.1,.3.1-.2.3,.1.1-.3.3,.3.2-.3.1,.4.1-.3.3,.1.3,.7.1-1.2.2,.6.3,.2.1-1.1.2,1.5.1-.3.1,0 .2,.6.3-.1.1,.1.1-.4.2,.7.2-.9.4,1.5.1-1.3.2,.4.1-.7.4,.9.1-.4.3,.4.1-.5.2,1.1.2-.7.2,.6.6-.5.1,.4.1-1 .2,1 .1-.1.2-1.1.4,1.3.1-.8.3,.9.2-.7.1,.3.1-.5.4,.9.2-.4.4,.4.2-.4.3,.9.1-1.1.6,1.4.1-.5.2,.5.3-.8.1,.5.2-.1.3,.7.1-.8.3,.6.1-.3.3,.4.2-.7.2,.9.3-1.1.1,.9.1-.7.1,.6.2-.3.2,.9.2-1.2.2,.8.1-.2.1,.3.4-.1.1-.6.1,.8.5,.6.1-.8.1,.8.2-1.1.3,.8.4-.8.1,.7.2-.2.5,.8.5-1.2.3,.8.1-.5.2,.9.1-1 .2,1.2.3-.9.1,.7.2-.5.2,.6.1-.5.3,.6.2-.1.1-.6.5,.8.1-.3.3,.8.5-.7.1,1 .2-.7.2,.5.1-.4.2,.5.1-.8.2,.8.1-.8.2,.7.4-.1.1-.3.1,.7.1-1 .2,.1.1-.1.2,1.4.4-.8.1,.3.3-.2.1,.6.1-1.1.1,1 .3-.7.1,.7.2-.8.1,.7.2-.5.1,.3.2-.2.2,.3.2-.4.1,.2.1-.1.2,.6.2-.8.5,.8.2-.6.1,.5.2-.4.1,.6.1-.4.1,.8.1-.4.2,.5.1-.6.1,.1.1,.6.3-.1.1,.3.2-.2.3-.8.1,.7.2-.3.2,.2.1,0 .1-.4.4,.5.1-.7.1,.8.1-.2.2,.5.2-.3.1,.2.1-.2.4,1.1.1-1.1.1,.6.2-.6.2,.8.1-.4.4,.6.2-.8.2,.6.1-.9.1,.8.1-.3.3,.7.1-1.4.2,.3.1,1 .3-.7.2,.1.1,.5.2-.2.1,.4.2-.4.2,.4.2,0 .2-.3.3,.2.1,.7.2-.7.2,.6.1-.1.1,.2.1-.9.3,.8.2-.7.9,.4.1-.3.1,.1.2-.2.3,.8.1-.2.2,.5.2-.6.2,.6.3-.6.1,.4.1-.4.2,.6.3-.2.2,.6.1-.2.2,.3.3-.8.5,.4.1-.9.1,.5.2-.4.1,.7.2-.2.4,.7.1-.7.1,.3.2-.2.2,1 .2-1 .2,.9.3-.2.1,.6.2-1.2.3,1.4.3-1.2.3,1.1.2-.3.1,.6.1-1.2.2,1.5.3-.9.2,.3.3-.8.2,1.3.1-.6.2,.4.2-.6.2,.4.2-.3.1,.2.1-.4.1,.3.1-.2.2,.2.1-.3.3,.6.2-.2.1,.7.1-1.5.1,1.2.2-.2.2,.3.1-.3.4,.8.1-.1.1,.1.1-1 .2,1.1.3-.9.1,1.1.4-.7.3,.7.2-.9.1,.3.1-.3.2,.2.2-.3.1,.3.1-.1.2,.4.2-.5.2,.5.2-.5.3,.6.3-1 .2,1.6.1-.2.4,.3.1-.6.3-.1.2,.8.1-.5.1,.6.2-.1.1,.4.1-.9.2,.7.5-.5.2,.3.1-.1.1,.6.1-.4.1,.5.2-1.3.2,.4.2-.5.3,1.3.1-.5.1,.7.1-.5.2,.2.2-.6.1,.5.3-.3.2,.3.1,.8.3-1 .2,1 .3-.5.1,.5.1-.6.1,.6.3-.1.1-.8.1,.9.1,.1.2-.4.1,.4.1-.2.1,.9.1-.9.3,.6.1-.9.1,.6.4,.4.1-.3.1,.3.3-.9.2,.9.4-.7.2,.2.4-.7.1,.8.1-.5.3,.7.1-.8.6,1 .1-1 .3,.7.2-.3.1,.6.1-.3.2,.4.1-.3.1,.3.1-.9.1,1 .2-.2.2,.3.1-.4.1,.4.2,.1.1-.1.1,.3.1-.7.1,.3.2-.1.1,.8.1-.5.1,.3.3-.7.2,.6.4-.7.1,1.3.1-.8.3,.4.1-.3.2,.8.4-1.4.4,1.4.1-.6.2-.1.4,.9.1-.8.2,1.1.2-1.3.3,.4.1,.5.2-.7.1,.8.1-1 .3,1.4.2-1.2.1,.8.1-.4.4,1.4.1-1.3.4,.9.2-.7.4,.9.2-.7.4,.8.1-1 .1,.8.3-.8.2,1.1.4-1.2.2,.7.3-.5.1,.7.1-.7.3,.3.1,1 .2-1.2.1,.6.2-.9.2,1.2.1-.5.1,.2.2-.2.1,.4.1-.4.4,1 .2-.4.1,.3.8-.3.3,1 .1-.4.3,.5.1-1.2.1,1.3.1-.8.2,0 .1,.3.1-1 .1,.9.1,.3.2-.9.2,1.1.5-.6.1,.7.3-1.4.1,1.1.3-.8.2,.7.2,.1.1-.7.1,0 .2,1.1.2-.3.1,.1.4-1.1.2,.7.2-.4.2,1 .2-.7.2,.9.1-.8.2,.6.1-.2.2,.2.2-.3.1,.6.2-.6.2,.2.1,1 .3-.9.1,.5.3,.4.2-.4.2,.2.1-.4.1,.6.2-.8.1,1.2.1-1.6.1,1.4.3-.8.1,.3.1-.2.3,.9.2-1 .2,1 .5-1 .3,.2.1,.9.1-1.5.1,.8.2-.3.1,.4.2-.1.1-.5.3,.3.1-.4.1,.8.1-.3.2,.4.1-.6.1,.5.2-.6.2,1.4.1-1.5.3,1.6.2-.5.1,.7.4-1.3.1,.8.3-.7.4,1.4.4-.4.1,.4.2-.6.4,.7.2-.9.3,.7.1-.6.4,1.2.2-1.2.1,1 .1-1.2.2,1.1.1,.1.1-.6.1,.6.1-.2.3,.7.2-.5.3,.8.1-.9.4,.4.1,.6.1-1.3.1,.7.3-.7.3,.5.3-.3.2,.5.1-.3.3-.1.1,.2.1-.4.1,.5.2-.3.3,.7.4-.7.1,.5.2,.2.2-.6.2,.7.1-.4.2,.8.1-.5.3,.6.3-1 .1,1.1.4-1.2.2,1.3.2-1 .2,.7.2-.5.3,1.4.1-1 .2,.9.1-.7.4,.6.1-.1.1,.2.2-.3.1,.1.1-.7.2,1.2.3-1 .1,.4.1-.2.1,.4.2-.3.1,.6.1-.6.1,.8.2-1 .2,1.3.1-1 .1,.3.3-.3.2,.5.5-1.1.1,1 .3-.4.2,.6.3-.8.1,.5.1-.3.1,.5.1-.5.3,.5.3-.7.2,1.1.2-1.1.4,.9.2-.2.4,0 .1,.6.4,.2.3-1.2.3,.9.1-.4.1,.8.2-.5.5,.9.2-.4.1,.2.1-.4.1,.3.1-.2.2,.8.1-.9.2,1 .4-.9.2,.9.1-.4.5,.8.2-.4.1,.7.1-.7.4,0 .1-.7.1,.6.4-.5.3,.7.5-.3.1-.5.2,.5.1-.7.2,.8.1-.5.2,1.4.1-1.5.3,1.1.2-1.5.1,1 .2-.4.3,.8.1-.5.1,.6.1-.6.1,.3.2-.4.1,.9.1-.8.1,.4.2-.6.1,1 .1-.8.4,1 .2-.4.2,.8.3-.9.1,.5.1-.2.5,.7.1-.6.4,1.1.1-.6.3,.3.1-.5.1,.8.4-.7.1,.6.2-.2.3,.9.2-.9.3,.7.4-.4.2-.8.1,1.1.1-.3.1,.3.3,0 .3-.4.3,.5.1-1.1.1,1.1.3-1.2.1,1.1.2-.8.3,1.1.1-1.1.2,.6.1-.6.2,.7.1-.7.1,.6.1-.4.1,.6.2-.2.2,.1.1-.3.2,.1.2-.5.2,1.2.4-1 .2,.1.2,.4.1-.2.1,.7.1-.9.6,.9.1-.4.2,.7.1-.8.1,.2.1-.4.2,.7.4,.2.2,.4.3-.1.3,.3.2-.6.1,.4.3-.3.5,1.1.2-.8.1,.6.1-.9.3,.7.1-.4.1,.8.4-.4.2,.3.1-.9.2,.6.2-.1.5,.9.1-1.1.3,1.1.1-.3.1,.3.1-1.3.1,.6.3-.4.3,.8.4-.3.1,.3.2-.7.3,1 .1-.9.2-.1.2,.8.2-.9.2,1.1.1-.9.1,.8.2-1.3.2,.6.1-.1.1,.2.3-.9.3,.9.3-.9.1,.7.1-.3.2,.9.2-.9.2,.8.4,0 .1,.3.1-.9.1,.3.2-.2.1,.5.3-.4.5,1 .4-.1.1,.3.1-1 .3,1.4.1-.3.1,.1.2-.8.2,.8.1-.5.1,.3.3-.4.6,1.1.1-.5.2,.3.3,0 .1,.4.2-.7.1,.5.2-.5.2,1 .3-.6.1,.5.1-.4.2-.1.4,1.1.4-1 .1,1 .2-.1.1-.6.2,1.2.2-1.6.3,1.3.2-.8.4,.6.1-.5.1,.3.1-.3.3,.4.1-.7.1,.7.1-.3.1,.3.2-.1.2,.1.4-.9.2,.6.1-.5.2,.3.1-.5.1,1.1.1-1 .1,.7.2-.6.1,.5.1-.5.2,1 .4-.7.1,.8.5-.9.3,.7.1-.7.1,.3.1-.4.1,.5.2-.4.1,.6.1-.4.2,0 .2,.5.1-.2.1,.3.4-1.3.1,1.1.1-.2.1,.3.2-.3.3,.4.1-.7.3,1.6.1-.7.2,1 .2-.4.2,0 .1-.2.1,.7.2-.8.6,.7.1-.5.1,.2.1-.4.2,.8.1-.5.1,.7.1-.1.1,.4.2-.5.1,.2.2-.4.1,.6.3-.3.2,.6.2-.3.3,0 .1,.6.3-.6.1,.6.1-.3.1,.4.3-.8.2,1 .4-.6.1,.8.3-.4.1,.5.1-.9.1,1.1.1-.4.2,.2.2-.8.4,.1.1,.9.1-.8.1,.7.1-.5.3,0 .1-.4.1,.4.2-.9.1,.4.1-.2.2,0 .2,.3.1-.7.1,1 .1-.5.3,.1.1-.2.1,.4.1-.6.3,.2.1-.2.2,.9.4-1.6.1,1 .4-.8.1,.7.1-.2.4,.7.2-.8.5,.8.5-.3.1,.9.3-.9.1,.8.3-.5.3,.6.2-.4.1,.3.2-.4.2,1.1.5-.3.1,.2.1-.5.2,.4.1-.1.1,.8.2-.4.5,.7.1-.7.3,1.2.3-.6.3,.8.1-.7.1,.4.2-.4.1,.3.1-.2.2,.1.2,.6.1-.5.2,.8.5-.5.1,.7.1-.6.3,.6.1-.6.3,.8.2-.7.1,.5.1-.5.3,.6.1-.9.4,1.6.1-1.1.1,.5.1-.4.1,.8.2-1 .2-.3.1,1.7.2-1.2.2,1.2.4-1.5.1,.7.1-.3.2-.1.2,.2.2-.5.1,.8.1-.8.2,.6.2-.7.1,.4.4-.3.2,.5.2-.5.3,.2.1-.3.3,.7.1-.6.2-.2.2,.6.2-.4.1,.3.3-.5.1,.2.1-.5.1,.6.4-.7.1,.9.1,0 .2-.4.1,.6.3-.2.2,.7.1-.5.1,.2.2-.1.2,.2.1-.4.2,.6.3-.3.1,.2.1-.1.1,.5.3-.6.1,.8.1-.5.4,1.2.1-.6.4,1.1.1-1 .1,.5.6,.2.3,1.2.1-1.1.2,.4.1-.5.3,1.7.1-1.5.2,1.2.3-.6.1,.7.3-1.1.4,1.3.2-.4.3,.7.1-1.1.3,1.1.3-.8.2,.8.2-.5.3,.8.2-.3.2,.5.3-.7.2,.4.1-.7.2,1 .1-.3.1,.5.1-.7.3,.9.2-1.2.3,.6.1-.2.1,.9.8-.9.2-.5.1,1.1.2-.4.1,.5.3-.4.1,.5.2-.8.3,1.3.1-.9.1,.4.2-.4.1,.2.2-.5.5,1.2.4-.9.3,.6.3,0 .1-.8.1,.9.1-.9.2,.5.1-.5.1,.1.2-.3.3,.8.1-.2.1,.1.1-.5.2,.3.2-.1.1,.3.1-.6.2,1.1.1-.7.1-.1.3,.5.1-.5.2,1 .3-1 .1,.7.1-.7.1,0 .4,.9.1-.1.1,.2.1-.4.2,.7.3-.5.2,1 .3-.5.3,0 .1-.6.3,1.1.2-.4.3,.6.3-.5.2,1.5.1-1 .4,.6.1-1 .3,1.5.2-.4.1,.4.3-.2.1,.3.1-.1.1,.1.1,.5.2-.4.1,.5.1-.7.4,1.2.1-.4.1,.3.1-.9.4,1.3.2-.5.2,.5.1-.8.1,.6.2-.2.2,.2.1-.3.1,.6.2-.6.4,.7.3-.3.2,.9.1-.6.1,.1.2-.1.1,.1.1-.4.1,.9.3-.5.1,.6.1-.4.1,.1.1,.7.3-1.1.2,1.1.2-.8.1,.7.2-.5.3,.8.1-.5.3,.3.2-.6.2,.5.1,0 .1-.2.3,.1.1,.5.5-.9.5,.5.1-.2.4,.4.2-.3.1-.6.3,.7.1-.4.1,.4.4-1.2.1,1.4.5-.7.1,.5.1-.1.3-.6.2,.8.1-.9.3,0 .1,.6.4-.5.2,.1.1-.4.1,.5.4-.1.1-.2.3,.2.1-.7.2,.6.1-.6.2,.6.1-.2.2,.2.3-.3.1,.5.2-.5.3,0 .1-.7.2,.8.4-.2.1,.3.1-.6.2,.9.1-.6.2,.7.1-.6.3,.5.1-1 .3,1 .2,.2.1-.3.1,.1.2,.5.3-.2.3,.1.2-.4.2,1.1.3-.8.1,.3.3,0 .2,1 .1-1 .1,.4.2-.2.2,.3.1-.5.1,.9.2-.3.1,.4.1-.4.2,0 .3,.7.5-.9.2,1.1.4-.5.1,.8.1-.7.3,.7.1-.4.1,.5.1-.2.1,.1.2-.1.1,.5.1-.5.1,.9.4-1.1.2,.8.2,.1.1-.2.1,.2.1-.9.1,1.7.2-.9.1,.9.1-1.1.1,.6.1-.7.2,.7.1-.5.1,.4.1-.3.3,1.4.3-1.2.6,.7.2-.8.3,1.2.3-.4.2,.2.1-.1.1,.4.2-.4.1,.6.4-.8.3,.8.4-.8.1,.9.2-.5.3,.1.1-.2.1,.7.1-1 .2,.9.3-.7.3,.1.1-.2.1,.5.3-.6.2,1 .2-1 .3,.6.3-.6.2,1 .3-.8.3,.2.1-.3.1,1 .1-1.9.4,1.1.2-1 .4,1 .4-.8.1,.7.2-.6.2,.2.1-.5.1,.7.4-.7.2,.4.1-.5.3,.4.3-.5.3,.4.5-.4.1,.4.3-.7.2,.3.1-.6.1,.6.1-.2.3,.6.2-.5.5,.5.4-.6.1,1.5.1-1.3.2-.2.4,.7.2-.3.2,.6.2-.4.1,.6.1-.4.2,.5.1-.5.1,.1.2,.5.2-.1.1,.6.4-1 .1,.7.3-.6.2,.8.2-.4.4,.9.2-1 .1,.9.3-.5.1,1.1.2-.8.4,.7.1-.1.1,.5.2-1 .2,1.6.2-.9.2,.7.1-.1.1,.4.1-.2.4,.7.2-1 .2,.8.2-.7.2,1.3.2-.5.1,.7.2-.7.1,.9.3-.8.1,1 .2-.4.3,.5.1-.7.1,.8.2-.3.3,.8.1-.7.2,.5.1-.5.1,.8.2-.4.3,.5.1-.1.1,.4.1-.4.2,1 .2-1.3.4,.8.1-.3.1,.4.3,0 .1,1.1.1-1.4.1,.2.1-.1.2,.7.1-.5.1,.1.1,.9.3-.7.3,.4.1-.7.2,1.2.2-.2.1,.1.3-.4.1,.5.2-.8.2,.1.1-.3.2,.8.1-.6.2,.4.1-.4.2,1.4.4-.8.1,.2.1-.4.2,.8.2-.7.2,.3.2-.4.2,.8.1-.4.1,.7.3-.7.1,.7.2-1.2.2,.5.2-.3.1,.5.2-.4.2,.9.4-.9.1,.3.1-.3.2,.8.3-1.4.1,.8.1,.2.1-.5.2,.8.1-.3.1,.4.1-.7.5,.7.3-.9.1,.5.1-.6.1,.7.1-.2.3,0 .1-.3.1,.9.1-.9.5,.3.2-.3.2,.6.2-.6.6,.5.2,.5.2-.9.2,.7.2-.6.1,.3.4-.1.2,.5.1-.8.3,.9.2-.5.1,.9.1-.9.2,.6.1-.7.2,.8.1-.4.2,.1.1,.6.1-.2.1,.3.1-.4.2,.9.1-.4.1,.7.1-.8.2,1 .2-.7.4,.7.1-.1.1,.5.1-.6.3,0 .1,.3.1-.3.5,.7.2,1.1.2-1 .1,.3.1-.6.1,1.4.1-.8.2,.7.1-.3.1,.4.1-.3.1,.2.2-.2.1,.3.2-.2.3,.7.1-.4.1,.5.1,0 .3,.5.1,.8.1-1.1.1,.7.3-.8.1,1.1" fill="none" stroke="#ff00ff" stroke-width="0.9" stroke-linejoin="round" />
<text x="4.3" y="30.4" style="font-size:40px;font-weight:bold">a</text>
<rect x="542.5" y="19.8" width="412.0" height="319.2" fill="none" stroke="#999" stroke-width="1"/>
<path d="M555.0,339.0v-2.5M555.0,19.8v2.5M595.0,339.0v-2.5M595.0,19.8v2.5M635.0,339.0v-2.5M635.0,19.8v2.5M675.0,339.0v-2.5M675.0,19.8v2.5M715.0,339.0v-2.5M715.0,19.8v2.5M755.0,339.0v-2.5M755.0,19.8v2.5M795.0,339.0v-2.5M795.0,19.8v2.5M835.0,339.0v-2.5M835.0,19.8v2.5M875.0,339.0v-2.5M875.0,19.8v2.5M915.0,339.0v-2.5M915.0,19.8v2.5M542.5,71.9h2.5M954.5,71.9h-2.5M542.5,126.2h2.5M954.5,126.2h-2.5M542.5,180.5h2.5M954.5,180.5h-2.5M542.5,234.8h2.5M954.5,234.8h-2.5M542.5,289.1h2.5M954.5,289.1h-2.5" stroke="#999" stroke-width="1" fill="none"/>
<text x="555.0" y="370.2" text-anchor="middle" fill="#000" style="font-size:24px" >0.15</text>
<text x="635.0" y="370.2" text-anchor="middle" fill="#000" style="font-size:24px" >0.20</text>
<text x="715.0" y="370.2" text-anchor="middle" fill="#000" style="font-size:24px" >0.25</text>
<text x="795.0" y="370.2" text-anchor="middle" fill="#000" style="font-size:24px" >0.30</text>
<text x="875.0" y="370.2" text-anchor="middle" fill="#000" style="font-size:24px" >0.35</text>
<text x="955.0" y="370.2" text-anchor="middle" fill="#000" style="font-size:24px" >0.40</text>
<text x="749.6" y="413.7" text-anchor="middle" style="font-size:24px">1/<tspan style="font-style:italic">B</tspan> (T<tspan dy="-12.5" style="font-size:16px">−1</tspan><tspan dy="12.5">)</tspan></text>
<text transform="translate(530.8,181.1) rotate(-90)" text-anchor="middle" style="font-size:24.9px">Δ<tspan style="font-style:italic">M</tspan> (arb. units)</text>
<path d="M542.0,290.3l.1,5.7 0-11.6.1,14.1.2-62.2.1,18.7.1-36.5 0,22.9.2-27.6.1,11.9.1-33.1.2,18.8 0-14.1.1,18.9 0-8.1.1,10.1.1-6.8.1,7.5.1-6.6.1,7.3.2-25.8 0,9.2.1-4.2.1-28.3.1,24.1.2-42.9.1,9.4.1-49.1.1,15.3.1-12.4 0,5.8.2-49.9.1,10.7.1-28.5.1,17 0-18 .3,47.7.1-35 .2,57 0-27.5.3,36.6 0-11.9.1,18.3 0-12 .1,12 0-7.4.1,4 .1,22.2 0-33.8.1,25 0-22.2.1,26.4.1-23.4.2,30.3.2-19 0,21.5.3-49.6.3,52.3 0-34.3.2,46.2.1-41.1.1,10.6.1-22.7.1,17 .1-18.2.1,8.6 0-9.5.1-2.1 0,4.3.1-39.4 0,30 .1-24.3.1,32.3.1-42.7.1,16.5 0-15.6.1,17.1.2-35 .1,39.9.2-23.5.1,50 .1-23 .2,49.1 0-28.3.4,63.8.2-20 0,35.1.1-33.4.1-11.5.1,25.3.1-40.2 0,12.8.2-19.6.1,10.3.1-46.1.2,19.8 0-22.1.1,30.8.2-25.5.4,92.6.1,49.4 0-43.3.3,83.4.1-9.5.2,43.6.2-27.3.1,20.5.2-15.4.1,18.1.2-70.6 0,23.2.5-84.8 0,26.9.1-27.1.1,23.9.1-20.3.1,25.2.1-12.9.1,17.8 0-11.5.1,4.8.1,39.2.1-24.1.3,52.3 0-25.3.1,32.1.1-14.5 0,13.8.2-14.1.1,10.7.1-12.6 0,19.4.3-37.3.1,32.7.3-49.7.1,13.7.2-20.4.1,8.3 0-5.1.1,26 .2-59.4.1,29.4.1-55.5 0,40.4.4-35.3 0,17 .2-20.5.2,17.6.1-22.5 0,37.2.1-23.6.1,19.9 0-15.2.1,36.6.1-16.8.1,26.1.1-5.5.1,42.7 0-24.8.3,47.8.1-42.5 0,50.9.1-40 0,15.9.2-28.4.1,4.5.3-59.5 0,18.4.2-78.4.1,12.2.1-11.7.1-31.7.1,3.8.2-25 .1,9.7.1-21.7 0,51.9.1-22 .1,8.1 0-6.7.1,5.2 0-2.2.1,40.1 0-10.1.1,15.2 0-8.8.2,38.4 0-7 .2,22.6.2-25.7.1,27.3.9-174.8.8,0 .1,22.5 0-22.5.1,40.7.1-24.1 0,37.5.1-15.6.2,48 0,2.7.1-6 .1,8 .1,36.6.2-37.9.2,39.3 0-18.7.1,9 .1-6.9.1,23.3.1-30.9.1,39.3.1-44.6 0,29.7.2-35.1.1,38.3.1-4.6.1,4.5.1-17.1.1,16.4.1-22.7.1,13 .3-29.3.2,21.1.1-25.2.3,25.5 0-13.6.1,17.8.1-11.6 0,7.9.1-4.6 0,15.8.1-15.5.5,79.5.2-20.9 0,26.2.1-48 .2,59.5.1-42.4.2-20.3.1,27.2 0-54.1.1,28.3.1-27.5.1,15.7.1-18 .1,20.3 0-10.8.3,22.1 0-14.2.1,8.2 0-3.6.2,51.1 0-9.1.1,15.3 0-16.2.1,6.9.1,71.9.1,15 .1-16.7.2,62.4.1-7.7 0,7.7.2,0 .1-5.4.2,5.4.2-11.1 0-27.3.1-5.2 0,6.4.1-2.7.1-27.8.1,11.1 0-18.8.1,10 .1-39.5 0,15.3.1-17 0,4.9.1-2.9 0-31 .2,22.9.1-10.1.3,26.8 0-33.2.2,40.3 0-8.4.1,2.6 0-1.5.1,10.7.1-23 .1,25.5.3-43 .1,8.1.1-34.9.1,17.2.1-23.3.1,21.6 0-29 .2,23.1.2-16.3.1,23 .1-13.6 0,14.2.1-25.5 0,40.8.1-41.7 0,37.4.1-19.4.1,39.4.3-24.1.2,38.4 0-23.4.1,20.4.1-31.8.2,25.7.2-26.1.1,10.4.1-28.8.1,27.5 0-23.3.3,10.4 0,24.7.2-37.8.1,15 .1-15.2 0,17.7.1-11.9.1,18.6.1-21.1.1,12.6.1-6.4.1-46 0,11.7.1-16.7 0,28.7.1-49.7.1,19.1.5-80.3.1-1.9.1,2.2.1-16.3.1,5.3 0-2.7.1,3.7.1,22.7.1-27.1.1,22.4 0-29.2.1,37.5 0-20.9.1,12.3.1-5.4.2,38 .1-27.3.1,20.2.1-18.5.1,27.4 0-15.3.2,15 .1-26.6.1,11.1.1-14.5 0,9.7.1-18.2.2,27.8.1-26.3.2,36.7.1-7.7.1,22.1.1-17.9.1,23.9 0,3.4.1-8.2.3,59.2.1-26.6.1,13.9.1-15.8.1,19 .2-49.7.2,25 .1-46.2.1,18.9.1-25.3 0,23.6.1-31.1.1,15.6.3-28.1.3,68.3.1-33 .1,38.4.1,5.6 0-7 .2,37.3 0-19.2.1,21.7.1-10.7.3,49.4.1-47.8.2,41.1.1-50.8.1,17.9.1-13.5.1,19.2.2-37.5.2,39.9 0-12.6.1,4.8.1-3 0,36.3.1-21.7.1,27.8 0-29.8.1,34.3 0-31 .4,82.7.1-24.2.2,29.8 0-21.2.3,8.5 0-13.2.1,23.2.2-41 .1,52.5.2-57.2.1,23.9.1-30.9.1,43.6 0-36.1.1,13.3.1-14.1.2,15.3 0-17.2.1,11.4.3-20.8 0,21.4.1-21.4.2,30.5 0-32.2.1,22 .1-30.4 0,12.5.1-11 0,4.9.1-8 .1,10.1.1-9.5.1,35.4 0-23.2.1,18.7.1-23.7.3,65.9.1-25.4.1,22 .1-16.6.3,51.6.1-43.5.3,42.1 0-58.5.2,24 .3-76.9.2-7.9 0,4.7.2-36.4.1,22.6.1-31.5.3,27 .1-10 .1,11.8 0-5.5.1,25.8.1-17.4.1,31.5.1,10.4 0-9.7.1,20 .1-18.7.1,23.4.1-18.2 0,10.5.2-14.9.1-36.8 0,34.9.4-83.5 0-3.2.1,7 .1-20.3.1,6 .1-37.2.1,24 .1-20.2 0,4.8.1-10.6 0,15.4.1-21.3 0,14.1.1-7.7.1,34.8.1-30.2.2,40.1.1-7 .1,5.2.1,31.6 0-19.4.1,28.4.2-16.8.1,20.2 0-16 .2,21 .4-58.9.1,23.2 0-31.7.1,51.2.1-66 .1,27.8.1-25.4.1,16.6.2-51.9.1,26.2.2-27.8.1,26.3 0-28.5.1,7.1.1-14.8.1,5.5.2-26 .1,18.1.1-8.6.2,24.3.1-15.3.1,16.7.2-4.2.4,78.4.2-5.1 0,11.1.1-7.5 0,16.4.1-13.3.2,8.4.1-15.4.2,19.3 0-32.3.1,25.1.1-31.8.1,20.8 0-15.6.1,11.1.1-38.2 0,12.9.2-6.2.1,18.5.1-32.8 0,32.3.1-17.5 0,23.9.1-16.4.1,26.9 0-16.8.1,38 .3,37.1.1-11.4 0,43.3.2,6 0-10.4.2,20.8 0-20.1.1,38.3.1-14.3.2,9.6.3-71.1.1,18.7.3-34.7 0,14.2.1-36 .1,23 .1-39.1.1,13.9.1-17.4.6,83.9 0-29.5.4,74.7.1-19.1.1,19.7.1-21.6.2,32.1.2-18.2.1,9.9.2-14.9.2,22.5 0-29.7.2,19 .2-16.4.1,14.9 0-28.9.1,25 .1-23.5 0,32.2.1-26.8 0,5.7.1-3 .1,23.3.1-43.5 0,22.5.3-26.5.2,15.7.3-25.1.1,19.2 0-19.7.3,36 0-11.6.1,12.8.1-8.2.1,22.6.1-36.1.2,18.9 0-11.3.1,15.9.1-15.7 0,17.4.2-41.8 0,20.3.2-14.1.1,16.1.2-79.5.1,27.1.2-40.8 0,22.2.1-25.1.2,24.3 0-21.6.1,22.9.1-37.9.1,22.7.1-16.9.3,49.8 0-5.5.1,7.1 0-12.7.1,5.7.1,42.4.2-32.5 0,38 .1-34.1.1,8.4.1-24.2.1,20.3.1-37.5.1,7.2.3-56.9.1,15.7.1-24.4.1,10.7.1-28.5 0,15.5.1-4.3.1,1.5.1-29.5.3,42.4 0-24.1.2,28.8 0-5.8.1,10 .1-3 0-10.6.1,27.1.2-25.2.1,19.1.2-18.5 0,14 .1-12 0,6.3.1-5 .1,1.5.1-19.6 0,14.5.1-13.8.1,10.3 0-17.3.1,28.6.2-32 .1,21.6.3-14.6.3,27.1.1-14.4.1,17.7.1-15.1.2,21 .1-16.2 0,14.6.1-27.7 0,24.7.1-20.3.1,13.4.1-15.5.1,7.4.3-18.6.3,42 .1-22.5.3,44.4 0-19.1.1,11.3.1-3.5.2,43.5.1-25.8.4,29.3.1-15.6.1,18.2.1-27.8 0,35.2.2-27.5.2,31.3 0-5.6.1,1.4.1,14.5 0-20.8.2,37.9.1-8.2.1,10 0-6.3.1,15.2.1-24.8.1,57 .1-33.6.2,37.8.1-41.5.1,29 0-24.7.1,36.4 0-26.7.1,12.6.1-5.2 0,3.2.1-25.9.1,3.6.1-7.2 0,25.4.1-39.6.1,30 .2-18.9.1,25.5.1-38.8 0,27 .1-23.1.1,5.7 0-4.6.2,30 0-30.4.1,37.3.1-22.1.1,12.8.1-15.8.1,24 .2-12.1 0,9.6.1-17.9 0,13.6.4-46.4.1,15.9 0-18.9.2,21.4.2-16.2.3,28.3.1-4.7.1,26.7.1-14.1.1,43.2.1-25.3.3,51.2.1-42 0,42.9.2-26.7.1,30.5.1-28.4.1-4.2.1,10.2.2-55.1.1,7.1.1-11.7 0,13.3.3-57.8 0,28.1.3-47.9.1,36.3.1-35.9.1,21.4.1-34.9.1,35.1.2-25.2.1,11 .1-19.3.1,26 .3-42.2.1,25.8 0-19.3.1,12.5 0-13.5.1,5.3.1-23.2 0,8.7.1-12.7.1,18.6.2-29.7.1,14.2 0-14.1.1,12.1.1-37.8.1,26.6 0-21.1.1,8.5.1-5.4.2,24.6 0-13.9.1,17.6.2-23.1.1,27.1 0-21.6.1,25 .1-16.2.1,17 .1,4.2.1-6.3 0,9.8.1-6 .1,9.7 0-11.7.1,21.6.1-24.2.3,37.2.1-10.2.1,32.2 0-23.4.3,25.9.1-19.6.1,24.9.6-82.3 0,12.6.3-35.1.2-13.3.2,17.6.1-37.4.1,8.9.1-7.7.1,28.5 0-10.7.1,16.3.1-7.1.1,42.1.1-11.6.3,58.6 0-31.2.1,26.1.1-13.4 0,35.4.1-16.1.1,17.5.1-17.6 0,23.8.1-12.7 0-2.3.1,5.8.1-1.6 0-12 .2,14 .2-29.9 0,32.6.1-41.6.1,38.4.1-22.4.3,22.6 0-9 .2,36.9 0-21.9.1,34.2.1-16.7.1,42.4 0,2.6.1-5.4 0,13.2.2-23 .2,57.7.1-20.6.2,22.4.1-22.8.1,16.5.1-18.3.1,12.3 0-13.3.1,10.8.4-42.4.2,10.1.2-38.9 0,12.1.1-15.3.2,21.5.2-26.8.1,5.3 0-8.9.1,18.8.2-25.1.2,19.8 0-16.6.2,32.9.1-5.7 0,2.3.1-1.5 0,8.6.1-7.5.1,26.6 0-5.4.2,11.9.1-13.9.1,33.6.1-38.9 0,36.1.1-7.7 0,9.9.1-14.3.1,14.9 0-13.3.1,22.6 0-12.3.1,13.2 0-14.8.1,5.3 0-10.3.1,12.4 0-16.2.1-2.4 0,2.7.1-1.3.7-70.9.1,15.9.1-18.9.1,13.5 0-7.5.3,12.9 0-10.9.1,21 .1-15.3.2,38.1.1-31.2 0,36.7.2-21.2.1,22.7.2-32.8 0,16.9.1-25.3.1,9 .6-98.4.2,28.1.2-48 .1,27.1 0-29.3.3,29.9.1-15 .3,26.9.1-11 .3,38.1 0-15.8.1,5.8.1-6.9 0,11.7.3-14.6.1,25.2.2-51.9.1,30.2.1-30.2 0,16.6.3-24.8.1,17.5 0-14.6.1,8.9 0-12.3.1,8.7.1-16.5.1,20.9.3-29.5 0,28.9.3-15.2 0,10.4.1-17.2 0,18.6.2-37.8 0,43 .1-38 .2,36.4.1-14.8.1,19.8.1-18.6 0,29.6.1-29.9.3,22.3 0-24.8.2,35.7.1-6.9.1,14.2.1-5 .2,10.7 0-17.7.3,22.2.1-28.9.2,20 .1-24.9.1,19.7.1-20.3 0,11.8.1-3.1.1,7.8.1-3.9 0,9.7.1-7.9.2,23.5 0-12.2.2,11.6.1,23.7.1-11.8 0,21 .1-25.3.3,51.5.1-7.4.1,3.7.1-24.5 0,28.4.2-23.9 0,32.5.1-34.2.1,15.5.1-21.5.2,11.8.1-18.5.1,13.7 0-32.6.1,39.8.1-15.4 0,13.3.1-6.5.1,15.4.1-14.1.1,16.5 0-15.3.1,23.7.1-12.8.2,33 .1-9 .1,16.5 0-13.9.2,27.2.1-27.5.1,27.1.2-29.8.1,30.5 0-24.9.1,21.1.2-25.5.2,11.7.2-11.9 0,16.1.1-28.8.3,25.6.1-10.9 0,14 .2-19.6.1,22.9 0-17.9.1,7.7 0-13 .1,14.1.2-17.3 0,25.5.1-25 .1,8 .2-28.6.1,24.9.2-47.1.1,28.9.1-25.7 0,12.9.1-16.6.1,6.8.2-18.1.1,42 .2-27.8.1,20.9.1-15.5.1,11.7.1-14.5.1,33.2 0-30.6.1,20.9.2-17.1 0,16.9.1-15.6 0,14.9.1-14.3.1,5.1 0-6.5.1,7.9 0-14.8.1,10.9.2-7.7 0,5.2.1-15.2.1,16.2.4-29.8.1,16.3.1-10.9.1,12.3 0-19.9.2,20.6.3-30.9.1,20.6.1-17.9.1,3.7.1-23.4 0,22 .2-13.6 0,16 .2-41.6.1,15.7.1-17 .2,15.7.1-12.3.1,17.3.1-38.3.2,40.4 0-23.5.1,17.6.1-15.7.1,16.4.1-13.4.1,15.9.1-28.9.2,10.2.1-22 .1,16.6.2-21.8.1,20.6.2-27.1.1,14.1.1-8.4.1,12.9.1-21 .4,46.5.1-7.6.2,33.6.2-19.2.1,21.7.1-4.6.1,13.1.1-11.6.1,20.2 0-28.3.1,11.4.3-23.7.1,9.6.4-41.8 0,14.1.2-11.6 0,14.3.1-27.3.1,31.2.3-18.9.4,55.1.2-7 .1,14.1 0-13.2.1,23.6.1,2.9 0-4.3.1,4.3.2-8.7.2,23.1.3-31.3 0,24.5.1-6.4.1,5.6 0-17.6.2,23 .1-26.5 0,24.4.2-7.4 0,16.3.1-14.2.1,25.4.2-19 .1,17.2 0-12.2.2,7.6.1-6.3.1,25.1.2-20.6.1,25.3.1-8.4.1,14.2.1-10 .1,16.6.1-14 .1,18.7 0-18.1.1,22.4.1-20.3.2,22.6.1-18.7.1,9.6.2-16.4 0,24.1.1-23.9 0,9 .2-22 .1,11.3.3-34.3.1,14.8 0-28.2.1,23.1.3-21.6.2,22 .1-12.4.5,60.7.1-19.5 0,31.6.1-17 .1,21.4.1-9.3.1,6.5 0-17 .3,11.1.1-22.3.1,9.3.6-60.2.1,16.2 0-16.4.1-6.2.1,7 0-8.6.1,8.1.1-20.5.1,33.3.3-33.5.2,42.1.1-19.5.1,20 .2-16.3.1,15.1.1-25.8.1,33.4 0-29.6.3,12.8.1-29.7.2,20.6.2-29.9 0,12.6.1-11.4 0,2.2.1-3.6 0,3.4.1-7.8.1,12.5.1-31 0,22.7.1-15.1.1,11.7 0-17.5.1,11.6 0-9.8.2,13.5.1-12.5.1,19.1 0-2.5.1,4.5.1-9.5.1,10.7.1-18 .3,31.2.1-22.5.2,19.7.1-12.8.1,15.9 0-12.3.1,10.2 0-12.2.1,7.3.1-12 .1,10 0-12.7.1,16.2.3-25.4.1,12.5.5-52.4.1,11.6.1-15.7.1-3.6.1,11.4.1-13 .1,18.2.1-29.8.1,22.7.1-8.6.1,17.9.1-10.1.3,38.9.1-10.7.2,37.5.1-17.7.1,22.2.2-3.9 0,6.3.1-7.4.1,7 .1-22.3 0,15.2.1-2.5.1,1.2.1-14.2.1,15.4 0-10.2.1,18.2.1-19.8.1,13.2.2-10.7.1,10.9 0-9.3.1,27.6.1-13.6.7,42.2.1-13.3.1,21.5.2-20.3.1,23.9.2-28.5 0,14.9.1-16.8.1,3.2 0-4.7.1,2.6 0-9 .1,8.8.1-11 0,10.4.1-12.1 0,8.5.2-19.3 0,21.3.2-22.6.2,20.2 0-10.5.1,9.8.1-14.6.1,18.1 0-17.2.1,27.2.1-28.6.2,30.5.2-10 0,12.3.1-4.9 0,6.9.1-7.2.1,5.9 0-6.1.1,7.5.1-4.1.1,24.4.2-11.1.4,31.4 0-18.4.1,19.2 0-4.6.1,5.9 0-12.2.1,10 .1-11.2 0,15.6.1-11.8.3,17 0-18 .1-2 .1,11.8.3-34.1 0,14 .1-4 .1,5.4.1-25.5 0,16.5.1-18.5.2,8.1.3-13.5 0,18.8.1-18.7 0,8.3.3-8.6 0,9 .1-14.8.1,8.3.1-4 0,2.5.3-23.1.1,16.8 0-12 .1,9.2.2-30.2.1,10.6.2-8.6.1,8.6.1-35 .1,23.6 0-6.8.1,11.3.1-10.5 0,17.4.3-10.9.2,17.2.1-4.6 0,6.8.1-6.7.1,8.9.1-11.2.1,22.3.2-16.9.1,9 .1-8.8.1,6.9.1-21.1.1,22.1.2-31.1 0,21.9.2-21.1.1,3.2.1-7.4.1,19.3.1-23.6 0,18.2.3-22 .1,19.7.2-19.6 0,27.8.2-20.9 0,18.8.2-30.7 0,18.6.1-25.5.1,9.5.1-5.4.1,4.6 0-21.7.1,9.5 0-13.6.1,9 .2-24.3.2,10.1.2-8.4 0,9.6.1-5.9.1,4.2 0-11.3.1,16.1.1-8.1.1,19.3.1-8.7.2,10.2.1-9.2.1,13.2 0-8.2.1,22.6.1-14.8.1,16.8.1-20.5 0,20.9.2-11.2.1,4.1 0,19.9.1-13.4.1-4.2 0,8.3.1-10.4.1,17.7.1-17.3.1,14.7.1-12.3.1,19.6.1-10 .1,8.3.1-11.1.2,22.2 0-11.1.1,10.2.2-10.9 0,13.3.1-5.5.1,3.4 0-2.8.1,7.6.2-11.9.3,22.2.2-25.3 0,19.7.1-8.4.1,6.5 0-5.9.2,23.6.2-21.9.2,15.3 0-11.4.1,20.9.1-14.1.1,5 .2-9.4 0,5.5.1-7.9 0,8.1.1-10.9 0,20.5.1-15 .1,9.6.1-14.3.1,10.9.1-8.8.1,6.8.2-18.1 0,14.2.1-11.2.1,14.2 0-7.3.1,8.3.1-6.8.2,27.6.1-11.8.1,18.1.1-9.9.1,14.8 0-10.7.3,25.5.1-10.1.1,4.4.1-12.9 0,14.7.1-9 .1,5.4.1-15 .1,8.6.4-36.1.1,22.5 0-21.8.1,8.8 0-8.9.1,7.6.2-10.1.1,7.7 0-15.4.2,21.5.1-10.1 0,17.3.2-8.8.2,20.2.1-13.8.2,21.7.2-20.7.1,10.5.1-7.5 0,9.1.1-23.4.1,18.6 0-4.7.1,2.4 0-18.6.1,11.4.1-20.2.1,1.7 0-3.4.1,4 .1-12.7.2,13.3.1-16.3 0,10.4.1-12.6.1,6.4.1-13.8 0,2.3.2-8.1.1,17.3.3-19 .3,13.4.1-8 .2,19.6.2-22.5.1,15.5.1-17 .1,17.2.1-15.3.1,9.1.1-5.4 0,5.7.1-.2.1,.6.2-14.5.1,19.1.4-22.4 0,3.2.1-5 0-1.4.1,1.6 0-.8.1-7.9.1,10.5.1-15 .1,12 0-14.7.2,10.6 0-6.7.1,2.3.1,16.5 0-15.4.1,15.6.1-8.8.3,18.2.1-8.6.1,14.8 0-5.4.1,7.6.2-12.1.1,15.5.1-21.6.1,13.6.1-14.5 0,6.4.1-11.9.1,9.5.3-26.1.1,11.2 0-15.2.1-1.7.1,6.9 0-8.7.1,3.7 0-16.5.1,10 .1-4.5.1,2.5 0-1.3.1,8.7 0-8.8.1,10.2 0-5.2.1,5.1 0-2.4.1,19.7.2-7.5.4,30.3.1-3.7.1,9.9 0-16.6.3,38.4.1-14.7 0,7.3.1-6.5.1,6.9.1-15.5 0,11.6.2-9.9.2,15 .1-13.6.1,13.5.3-7.7.2,18.1.1-14.9 0,15.4.1-5.6.1,4.1 0-2.4.1,11.2.1-10.6.2,20.8.1-10.7.1,16.6.1-17.6.1,18.6.2-17.8.1,10.1.2-9.3.2,6 .1-14.2.1,15.3.1-6.7.1,5.2 0-18.9.3,13.2.2-20.6.2,22.2 0-26.7.1,6.3.1-10.1.1,13.6.1-14.4.1,18.4 0-18.2.2,14.5 0-13.3.2,19.9 0-8.1.3,21.1.2-2.5.2,22 0-5.4.1,2.5.1-3.7.3,12.4.1-18.2.1,14.6.1-7.7.1,2.9.1-18.1.1,10.2 0-7.3.1,5.9.2-21 .2,13.4.1-25.7 0,25.7.2-16.2.1,3.9.1-3.4.1,2.2.1-4.8.1,8.8.1-5 .1,3.1.1,8 0-20.8.1,19 0-17.6.2,5.2.1-1.5.2-11.7 0,12.5.2-19.7 0,11.4.2-10.6 0,11.7.2-29 .1,10.1 0-4.8.1,5.4.1-6.4.1,6.7.1-11.8.2,3.6.1-2.5 0,7.6.2-8.4.1,21.3 0-19.5.3,18.8.1-10.4.1,15.2.2-4.1 0,14.9.1-25.9.1,11.5.1-5.6 0,7.9.1-8.9.1,7 .1-6.4.1,5.2.1-6.3 0,9.6.1-10.9.1,10.7.2-11.2.2,11.8.3-15.6.1,10.2.1-17 .1,10.4.2-18.3.1,7.1 0-5.2.1,5.5.1-6.1 0,3.3.1-12.7 0,8.2.1-2.7 0,4.8.2-5.3 0,7.9.1-20.3.1,18.9 0-19.5.2,17 0-17.3.1,18.3.1-13.2.1,23.3.1-11.9.2,12 0-16.1.1,18.1.2-12.9 0,11.5.1-13.5.1,15.7 0-5 .1,2.8 0-15.7.1,16 .1-10.8.1,19.1.1-17.5.1,12.5.1-9.3.1,22.6 0-20.4.2,8.7 0-16 .2,35.6.1-18.2.1,20 .1-14.1.2,17.8 0-16.3.1,13.4 0-8.7.1,10 .1-10.8 0,14.1.1-12 .1,12 .1-11.6.2,11.7 0-15 .1,4.7.1-4.7 0,22.4.1-21.1.1,4.1.1-5.4.1,7.6.2-13.6.2,17.4.1-12 .2,8.9.2,18 0-23.1.2,22.1.1-12.9.1,10.5.2-6.5.1,8.1.1-12.6.3,15.2 0-9.3.1-2.2.1,8 .1-12.7" fill="none" stroke="#111" stroke-width="1.3" stroke-linejoin="round" />
<path d="M747.0,191.7l.1,12.6.1-12.5.1,14 .1-14.8.1,2 0,18.9.1-9.5.1,12 .1-16 0,13.6.1-4.5.1,3.5.2,20.5.1-16.8.3,17.6.1-16.3.1,11.7.1-14.3.1,14.9.1-19.5.1,7.9.1-2.8 0,2.4.2-15.2.1,7.9 0-10.5.1,3.7.1-1.6.1-11.1 0,11.3.2-15.8.1,21.5.2-18.4.1,6.4.1-8.8.1,12.5 0-10.4.3,10.3.1-5.6.1,6.4 0-14.9.2,24.1.1-19.6.1,12.6.2-11.8.2,16.4.2-9.9.1,15 .2-16.2.1,6 .1-2.4.1,5.4.2-12.6 0,14.4.1-15.1 0,11.6.1-10.9.1,8.6.2-20.8.1,12.5.2-19 .2,14.4.1-18.3.1,20.2.2-23.6.1,6.8.1-2.5 0,5.9.1-3.6.1,13.3.1-12.2.1,10.4.1-11.2.1,16.4.1-14.1.1,4.9.1-15.1.1,17.6.1-19.4.1,5.8.1-15.6 0,2.6.1-4.3.2-13.4 0,11.5.2-17.9.1,14.6 0-9.3.3,9.4.1-19 .1,15.9.1-9.7 0,17.8.1-7.2.2,12.5.1-2.8.2,20.8.1-21.1 0,15.4.2-2.4.1,12.6.4-16.9.1,14.9.1-16.3 0,12 .1-10.6.1,2.7.2-14.5.1,5.5 0-12.8.1,16.2.2-14.1 0,11.9.1-13.1 0,11.9.1-19.3 0,17.4.1-10.2.2,10.7.2-7.9.1,13 .2-10.2.1,8.3.1-8 .1,12.5 0-18.7.1,10.3.1-9.1.1,23.8.1-11.3.1,9 .2-10.8.2,16.5.2-6.1 0,10.7.1-10.9.1,9.4.1-12.8 0,11.7.1-6.7.1,9.6.1-17.3 0,10.7.1-5.6 0,5.6.1-4.6 0,9.5.4-8.2 0,5.3.1-6.3 0,9.1.2-9.4 0,20.5.1-17.4 0,19.4.1-14.4.1,16.4.1-7.2.1,14.9.1-7.1.1,12.4.1-2.9.1,1.4.1,11.9.1-4.5.1,6.1.1-4.7 0,7 .2-16.6.1,15.5.1-11.7.1,2.4 0-4.6.1,8.5.1-11 .1,2.8.2-21.4.2,8.1 0-9.8.1,11.9.1-7.5.1,6.8 0-11 .1,7.4 0-5.5.1,5.5.1-.7 0,10.9.2-16.7.1,20 .2-13 .1,20.5.1-2.9 0,4 .1-5.3.1,3 .1-3.1.1,6 .1-9.3.1,9 .3-12.3.1,8.3.1-14.4.1,15.2.1-10 .1,7.8.1-4 0-11.5.2,12.5.1-10.3.1,4.6.1-3.4.1,5.9.1-7.4.2,12.7.2-10.5.1,11.9.1-9.7 0,8.1.2-2.8.1-14.7.1,14 .1-2.2.1,3.1 0-9.6.2,9.4 0-12.8.2,9.9.2-12.3 0,12.1.2-18.1.1,16 .3-17.2.1,3.2 0-5.4.1,7.1.1-17.7.1,7.1 0-3.1.1,3 .1-4.2 0,14.2.3-28.7.1,8 .1-4.4.1,11.4.1-5.7.1,11.3 0-11.6.1,10.9.1-11.5 0,15.6.1-13.8.1,6.4.1-11 .1,15.9.2-11.8.1,4.6.1-5.2.1,6.5.1-6.2.1,3.4 0-13.7.1,8 .1-7.9 0,7.4.2-16.9 0,10.2.1-1.2.1,1.4.2-14.5.1,15.9 0-12.8.2,5.6 0-11.6.1,10.7.1-2.6.1,3.6.1-2.6.1,12.2.1-6.5 0,6.9.1-5.8.2,6.1 0-3.6.1,8.9.1-5.7.1,4.5 0-4 .1,6.8.1-13.9.1,11.4 0-8.3.2,9.9.2-5.7.1,6 0-11 .1,9.8.2-12.8.1,11.9 0-9 .2,11.2 0-5.8.1,14.4 0-13.4.1,13.5.2-18.6.1,17.4 0-12.4.2,14 0-10 .1,19 .1-9 .1,7 .1-14 .1,12 .2-12.5.1,14.2.2-17.3.1,18.2.2-15.3.1,8.4.2-6.4 0,11 .1-8.3.1,8.5 0-9.7.3,16.2.2-8.4 0,7.8.1-7.5.1,7.7.1-4.9 0,6.6.1-2.6.2,14.3.2-12.9.2,15.3.1-4.7 0,3.6.1-7.4 0,8.8.1-7.1.1,13.1.1-11.5.1,14 .2-9 .1,8 .1-1.6 0,11.5.2-10.5.1,9.6 0-2.9.1,4.5.1-4.3.2,7.3.2-10 .1,6.2 0-9.1.3,7.3 0-9 .1,10.2.1-13.7.1,4.3.1-.8.1,.6 0,6.3.1-14.9.2,12 0-8.9.1,8.5.2-14.1.2,7.7.2-8.7 0,11.1.1-13.6 0,6.5.1-9.6.1,9.7.1-9.9.1,5.9.1-9 .1,6.8.1-10 .1,9.2.2-5.7.1,8.9.2-9.3 0,12.7.2-9.7.1,19.1.1-12.8.1,14.4.1-7.3.2,4.4.1-2.9.1,4.2.1-5.3 0,11 .1-14.7.1,8.2.1-11.1.1,11.9.1-19.2.1,7.1.2-6.2.1,10.4 0-15.5.2,5.8.2-14.4.1,17.7.2-14.2.1,8.2.1-11.9.2,9 .3-11.4.2,8.2.2-17.3.1,7.8.1-13.2 0,3.8.1-5.5.1,5.3.1-2.1.1-15.4.1,8.4.3-12.4.2,9.3.2-6.1 0,3.6.1-3.2.1,1.1.1,10.4 0-12.1.1,9.3 0-3.6.2,7 0-7.9.3,15.6 0-5.8.1,5.1.1-2.7.2,8.3 0-6.9.1,9.1 0-5.2.3,11.5.1-8.2.2,11.6.1-11.1.2,8.9.2-10.5.1,8.1.2-8.1.1,3.6.1-5.9.1,5.2 0-10.5.1,8 .2-8 0,5.5.1-6.7 0,10.9.2-12.9.3,16.4 0-11.5.1,4.4 0-6.6.1,10.4.2-2.7 0,3.8.1-10.5.1,17.5.1-8.6.2,12.9.2-10.3.1,7.6.2-7.5 0,11.2.1-17.4.1,14.1.2-15.7.2,24.7.1-15.9.1,6.5 0-4.3.1,.7.1,10.9 0-11.1.3,13.2.1-2.4 0,8.5.1-4.9.1,8.1 0-3.3.1,5.4.1-6.1.2,17.2.1-6.6.1,10.8.1,1.7.1-4.3 0,5 .1-7.1 0,10.2.1-7 .1,5.7.1-3.6.1-10.4.1,8 .3-17.3.2,4.3.1-8.8.1,14 0-16.9.1,11.8.1-12 0,3.2.1-3.8.1,8.7.1-7.4.1,12 .2-15.5.2,7.2.1-6.1 0,8.6.1-9.3.2,13.7.1-8.2.1,10.1 0-7 .1,1.8.2-6.3.1,12.3.2-13.6.2,12.9.2-13.5.2,9.7.1-8.6.1,.6.1-1.3 0,4.9.1-4.6.1,5.5.1-12.2.1,8.1.1-9 .1,8 .1-11.2.2,10.5 0-6 .3,7.4 0-9.7.1,8 .1-1.5.1,4.5 0-7.4.1,5.8 0-4.4.1,6.9.1-3.6.1,4.9 0-8.7.1,3.7.1-6.3.1,5.1.2-10.4 0,5 .1-5.6.1,6.3.1-14.5 0,5.6.1-5.5.1,5.8.2-17.9.2,6.5.1-9.8.1,4.9.1-8.1.1,7.2.1-.6.1,2.6 0-2.5.1,9.7 0-18.6.4,19.5.1-5.8 0,7.8.1-6.1 0,3 .1-.7.1-4.9.1,7.1.1-9.2 0,9.6.2-11 .2,3.9 0-4.9.1,3.1.2-6.2.2,10.5.2-13.8 0,13.5.1-20.2.1,14.8.2-15.7 0,12.1.1-3.5.1,3 .1-7.1 0,8.2.1-6.1.1,2.1 0,8.5.3-12.3 0,13.7.2-10.7.3,14.6.1-9 .1,3.1.1-2.3.1,7.2.1-5.8 0,8.1.1-12.8.1,5.7 0-6.9.1,13.5.2-10 0,7.2.2-5.2.1,7.3.1-4.8.1,5.9 0-5.8.1,6.1.1-7.1.1,8.2 0-6.1.2,7.6.1-2.9.2,8.4.2-5 .1,7.6.2-9.1.2,14.2 0-5.3.1,6.5.1-5.1 0,8.6.1-8.1.2,11.6.1-6.3.1,6.2.1-.9.1,1.8.1-1.1.1-17.4.1,19.3 0-9 .1,6.4.3-6.9 0,1.9.1-5 .2,7.9.1-10.5.2,13.4.2-8.8.1,8.3.1,.6.1-5.4.1,12 .2-8.8.1,9.5 0-.9.1,1.6.1-3.2 0,4 .1-5.2.2,10 .1-9.4.1,9.2.1-9.8 0,6.8.1-5.2.2,4.5 0-2.8.1,5.7 0-5.7.1,5 .1-6.9.1,12.8.1-10.3.2,5.4.1-8.3.1,9.6 0-7.3.1,2.9.1-1.4 0-.2.1,.3 0,4.1.2-7.3 0,8.1.2-6.5.1,10.5 0-15 .2,7.6.3-11.3.1,4.3 0-6.5.1,1.7.1-3.1 0,3.1.1-6.7.1,5.3 0-8.8.2,14.8.1-12.6.3,4.6.1-4.7.2,7.2 0-9.3.2,7.2.1-5.5 0,5 .3-9.6.1,8.5 0-8.3.2,12.3.1-14.1 0,8.9.1-3.9.1,4.1.1-7.7.1,4.1.1-5.6.1,6.4.1-8 0,13 .1-16.3.1,10.4 0-9.5.3,9 0-12.9.1,12.1.1-11 .1,13.5.3-13.5 0,5.9.1-7.2.2,5.7.1-8.2.1,6.2.1-12.8.1,9.9 0-8.5.2,5.5.1-8 0,6.6.1-5.1.1,4.3.1-4.4 0,7.2.1-11.1.1,9.4.2-12.6 0,7.9.2-4.7.1,3.5.1-7 .1,6.3.1-10.4.1,13.8.1-13.7 0-2.1.1,5.2.1-7.8.1,12.9.1-7.4.1,12.3 0-7.4.1,4.4.1-4.3.1,7.8.1-12 .2,14.8.1-4.8 0,6.9.1-7.3.2,6.5 0-3.3.2,12.5.1-6.9 0,5.5.2-5.2.1,2.2.1-7 .1,12.8.1-12.8.2,6.9 0-7.1.1,7.5 0-8.5.2,11.3 0-13 .1,11.9.1-10.5 0,8 .1-4.9.1,6.1.1-3.2.1,5.8.1-3.5.2,3.8.2,11.6.2-6.9.1,9.8.1-6.2.1,7 .2-5.2.1,5.5.1-7.7.1,9.6.1-14.1.2,15.2.1-9.2.1,10.2.2-9.5.2,10.6.2-6.3.1,5.9.1-3.4.2,11.1.2-6.9 0,5.4.1-4.6.1,12.9 0-4.2.2,3.8.1-6 .2,8 0-7.4.1,10.8.1-7.1.1,6.5.1-4.4.1,6.9 0-11.7.1,3.5.1-2.9.1,7.1 0-6.9.2,6.1.2-13.7 0,9.9.2-7 .3,10.6 0-8.7.1,4.4.2-10.6.2,9.8.1-7.6 0,6.7.1-5.5.1,4.1.1-8.2.2,16.7.2-10.3.1,10.7.1-4.7 0,5.8.2-3.5 0,2.9.1-3.3 0,5.9.1-11.3.1,10.2.1-3 .1,2.8 0-8.4.1,6.8.2-9 0,5.3.1-12 .1,6 .2-9.9.1,8.1.4-14.5 0,8.7.1-13.6.1,9.8.1-2.7 0-.3.1,.4.1-5.9.1,11.9.1-6.4.1,3.5.1-3.8.1,2.8.1-6.7.2,2.7 0-6.5.1,10.2.1-13.4.1,7.2.2-8.7.1,6.6.1-12.8.1,8.5.3-13.4 0,3.6.1-4.4.1,4.2.1-6.8.1,7.2 0-10.2.1,6.2.2-3.7 0,7.6.3-8.2 0,4.6.1-2.3.3,6.7.1-7.3.1,7.6.1-3.2.1,8.8 0-12 .2,6.6.2-6.1.1,3.9.1-5.2.1,7.4.1-11.3 0,9 .2-5.9.1,3.2 0-7.5.1,7.1.2-8.4 0,9.6.1-9.6.1,7 .3-8.7 0,5.6.1-10.6.1,6.7.1-4.7.1,2.3.1-2.1.1,8.1.1-9.7.1,9.3.1-9.6.2,12.7.1-2.7 0,3.8.1-3 0,3.9.1-5.4.1,5.3.1-3.6.3,12.8.1-10.8.1,10.4.1-2.7 0,3.1.3-5.1.2,7.3.1-8.3.1,7.3.1,1.1.1-2 .1,4 .1-5.8.3,17.2 0-9.7.1,12 0-5.1.1,6.7.1-4.9.1,7.5.1-4.2.1,5.3 0-2.4.1,10.1.1-11.6.2,9.7.1-8 0,8.3.2-1 .1,5.7.3-18.8.1,11.4.3-9 0,7.5.2-11.3.4,11.2.1-5.3.2,4.2.1-1.8.1,9.2 0-8.7.2,4.7.1-4.2 0,5.4.1-4.6.1,6.4.1-5.5.1,7.1.2-5.7.4,8.2.1-6.8.2,6.3 0-1.4.1,1.7.1-1.2 0,4.9.1-9 .1,10.2 0-7.5.1,5.9 0-5.7.2,7.4.1-5.3.2,3.8.1-.9.1-7.1.1,4.4.1-7.1.1,6.9.1-7 0,8.4.1-8.9.1,2.2.1-4.6.1,5.1.1-5.4 0,6 .1-8.3.1,3.6.1-4.6.1-.7.1,2.7.1-.7.1-5.7 0,5.3.2-5 0,5.4.2-14.2.1,6.4.2-8 .1,3 .1-8.4 0,11.8.1-12.2.1,.7.1-.4 0-2.9.2,1 .1-4.8.1,5.3.1-6.1 0,6.6.1-7 0,6.3.1-10.1.2,12.5.1-9 .1,4.9 0-7.1.2,7.1.1-8.3.1,11.2.1-11.2.2,9.1.1-6.1 0,4.6.1-3 .1,1.1 0-6.7.1,5.4.1-6.1.2,5.8 0-6.4.2,5.3.1-5.9.1,7.3.2-4.2 0,3.4.2-3.6 0,5.7.1-7.2.1,4.8 0-4.4.3-3.4 0,6.4.2-6.4 0,3.5.2-3.7.1,3.5.1-13.9.2,5.9.2-4.8.1,9.1.1-10 .2,4.9.1-1.2 0,1.9.1-3.1 0,5.3.1-4.8.3,11.2 0-3.6.1-.7.1,1.5 0-2.4.1,7.9.2-6.6.2,8.5 0-9.6.1,7.5.1-2.6.1,4.5 0-3.5.1,6.5.1-7.5.1,5.8.1-2.8.2,13.2.2-9.4.1,10.6.1-9.3.1,7.8 0-3.8.2,3.2.1-2.7.2,8.6.1-4.9.1,8.5.1-4.4 0,1.9.1-1.4 0,7.6.2-7.9 0,6.5.2-5.4.1,9.6.1-7.3.2,7.6.2-6.1.1,11.1.1-6.4.1,3.2.1-4.6.1,6.1 0-5.4.1,3.4.2-7.4.1,9 .1-7.7.3,9.5.1-5.6.2,4.9.1-3.3.1,2.8.1-3.2.2,7 .1-5.5.2,7.1 0-2.7.2,1.2.1-3.2.2,12.9.1-9.7.1,5.4.2-6.3.1,5.1.1-4.5 0,3.5.1-8.9 0,7 .1-7 0,5.7.2-.5.1-6.8.2,8.5.1-7.7 0,6.5.3-10.6.1-.9.1,4.2.1-5.4 0,7.3.1-2.5 0,1 .1-1.5.1,1.6 0-1.6.2,6.9 0-6 .1,4.1.2-1.9 0,6.1.1-7.7.2,8.5.3-12.8 0,5.9.1-4.7 0,4.3.2-3.6 0-6.2.1,4 .1-8.9 0,7.7.3-9.1 0,6.7.1-4.4.1,3.1.1-3 0,1.5.1-6.3.2,4.3.2-5.8.2,4.5 0-4.1.1,3.8.1-6.1.1,3 .1-5.2.2,3.3 0-4.8.1,2.9.1-3.8.1,1.9 0-4.6.1,9.2.2-9.8.1,5.7.3-8.2.1,5.2.2-6.7.3,4.2.2-5.8.1,3.2 0-4.5.1,5.6.1-6.2.2,7.3.1-6.6.1,7.4.1-5.6.2,4.7 0-2.4.1,2.1 0-1.5.1,4.8.2-3.1 0,7.7.3-3.8 0,1.9.1-3.9 0,5.2.1,1.5.2-2.7.1,3.8.3-10.7.2,9.6.2-8.9.1,5.9.2-8.6 0,9.1.2-5.8 0,7 .1-6.4.2,6 .1-10.5.1,12.8.1-6.9.2,10.8.1-3.9 0,4.4.1-4.6.1,2.9.1-1.9 0,2.5.1-2.3.1,8.6 0-8.3.1,7.1.1-2.5.1,5 .2-4.4.2,3.3 0-3.6.1,9.9.1-8.6 0,4.2.2-3.7 0,6.9.2-4.4.2,5.1 0-5.7.1,6.9 0-2.1.2,.9.5,12.1.1-1.5 0,1.9.1-3.1 0,3.7.1-5.2.1,6.8.1-4.5.2,6.5.1-5 .1,3.4.1-3.2.1,5.9.2-8.5 0,5.2.1-4.5 0,4.7.1-2.1.1,5.2 0-6.6.1-1.9.1,4.5.1-6 0,3.6.1-4.5.2,6.8.3-10.3.1,5.9.1-1.6.2,.8 0-1.4.1,2.9.1-5 0,4.5.1-3.6.1,6.1.1-7.2.1,5.2.1-2.2.1,1.7 0-5.2.1,6.8.2-7 .1,7.8.2-3.9 0,4.3.1-4.2.1,7.5.1-11.9.1,7.9 0-3.3.1,2.8.1-2.4.1,3.5.1-4.5.1,4.3 0-6.9.1,5.8 0-6.7.2,4.2 0-2.4.1,1.8.1-11.5.1,11.4.2-9.1.2,9 .1-8.1.2,6.7.2-8.3.1,2.2.1-5.5.1,6 .1-6.7.2,6.4.2-12 0,4.1.2-4.7 0,3.6.1-5.5.1,3.6.2-7.9.1,4.2.1-9.6.1,7.4.1-2.9.1,3.6.1-9.3 0,8.2.2,1 0-4.4.1,4.6.1-4.9.1,6 .2-6.8.1,4.6.1-4.8.2,5.3.1-4.3 0,5.5.1-11.2.1,9.2.1-2.1.1,2.9 0-3 .1,3.4.1-8.5.1,5.3 0-5.7.2,6.3.1-5.6 0,4.5.2-5.1.1,4.7.2-5.3.1,9.2 0-6.5.1,2.9.1-3.4 0,3.9.2-5.1.1,3.3.2-6.5 0,6.5.1-6.8.2,6.7.1-4.7.1,5.6.1-4.7 0,5.4.1-5.8.2,6.4.1-8.2 0,9.2.3-6.3.1,5.1.1-2.8.1,1.5.1,5 .1-1.3.1,1.9.2-5.7 0,6.2.1-1.2.1,1.8.1-3.1.1,8.3.1-6.4 0,5.5.1-2.7.2,2.9 0-6.7.1,9.4.1-3.5.1,3.7.2-3.4.1,6.3.1-2.9.1,4.1 0-4 .1,6.1.1-4.4 0,7 .1-5.9 0,6.6.1-5.5 0,4.8.1-2.9.1,4.2.3-10.8 0,6.6.1-3.1.2,5.1.1-4.9.1,7.9.1-4.7 0,4 .3-7 .2,5.8 0-5.8.3,13.1.2-10.3 0,6.5.1-4.4.3,6.8 0-6.5.1,8.8.2-11.1.1,9.8 0-7.1.2,4.3.2-3.6.1,3.8 0-5.3.1,7.3.1-4.9 0,4.2.1-2 .1,.5 0,3.2.1-5.1.1,4.2.1-4.7.1,7 0-4.1.2,6.1 0-2.7.1,4.4 0-3.7.2,4.7.1-9.2.1,5.6.1-1.4.1,2.9.3-9.6.1,5.4.3-12.5.1,6.6 0-3.7.1,3.3.2-5.7 0,9.3.1-11 0-1 .2,2.4.1-1.9 0,2.6.2-7.6.1,7.4.2-5.6.1,6.3.2-7.3.1,6.9.2-9.8.1,5.7.1-6.2.2,6.4.3-9.4.1,7.5.2-5 .2,3.8.1-6.6 0,3.8.2-6.1.2,6.7.2-6.7.1,2.6.1-1.8.1,2.1.1-2.2.1,4 0-5.3.1,1.4 0-1.9.1,3.7.1-4.9.1,4.3 0-4.5.2,4.4.2-8.1.1,6 0-6.5.1,5.4.2-3.6 0,3.7.2-7 0,3.7.3-6.5 0,5.5.3-7.2 0,5.4.1-6 .1,2.6.1-3.8.1,2.7 0-5.8.1,5.2.1-2.4 0,1.2.1-1.8.1,.5 0-1.6.1,.6 0-2.6.1,6.5.1-3 .1,5.7.1-3.9.2,2.2 0-2.8.1,5.6.1-4.5.1,6.7.1-4.8 0,4.7.1-2.9.1,5.7.1-2.8.2,6.3.1-5.1 0,4.8.1-5.3 0,3.4.1,1.1.1-2 0,2.2.2-4.1.1,5.9 0-5.4.1,4.4 0-1.3.2,1.6.1-3.1 0,4 .2-3 .3,5.7.1,5.1.1-5.8.3,4.6.1-4.8.1,8.5.1-2.5 0,4.1.1-5.7.1,2.7.1-2.3 0,4.5.1-5.6.1,6.5 0-5.4.3,7.9.1-6.8.1,7.2.2-6.3.1,4 .2-2 0,4.1.1-4 .1,2 .1-1.6.1,6 0-5.1.2,1.4.1-.7.3,8.2.1-4.7.1,7.8 0-7.9.1,4.8 0,.3.1-.4.1,1 .1-3.9.2,8.6.2-3.6 0,2.7.1-2.4.1,5.2.1-3.5 0,6 .1-6.8 0,8.1.1-4.4.1,3.8.1-4.3.1,3 .1-6.5.2,2.8.1-7.6.1,4.5.1-1.3 0,6.4.1-6.6.1,6 0-7.1.2,3.1.1-5.9.1,6.2.1-4.7 0,4 .1-2.5 0,2.8.1-3 .1,3.8.1-5.7.2,3.3 0-6.4.1,6.1.2-3.3 0,5.8.1-7.3 0,5.2.1,1.1.1-7.1.1,5.6.2-5.5 0,2.1.1-1.5 0-6.2.2,7.7.2-7.9.2,3.7.1-2.7.1,1.4.1-2 .1-2.8.1,3.6 0-6.2.1,3.3.1-2.5 0,7.1.2-6.3.1,5.3.1-4.6.1,5.6.2-5.9.2,2.9 0-3.4.1,.5.1-.9.1,2.6 0-3.6.1,2.7.2-6.3.1,4.7.1-.7.1,1 0-5.6.2,4.7.1-8.4.1,4.8.1-3.8.1,2.7.1-4.2.1,.7.1-.8.1,.8.1-5.2.2,4.9.2-6.2.2,6.8.1-4.4.1,3 .3-5.7.1,8.6.1-6.7 0,2.3.1-2.9.1,3.6.1-4.5.3,4.5 0-2.8.1,5 .1-5 .1,1.4.1-3.2.1,4.3.1-4.1.1,3.3.1-3.9.1,3.4.2-3.7.2,9.7.1-10.9.2,8 .1-6.4.2,7.6.1-5.6.1,5.8.1-2 0,2.1.1-.8.1,.6.1,6.5.1-3.2.1,2.2 0-6.2.1,4.7.1,1.2.1-3.6 0,7.5.1-5.2 0,2.5.1-2 .1,5.3.1-5.4.2,5.2.1-3.2.1,5.2.1-2.1.1,3 .1-2.9.1,3.7.1-2.5.2,5.5.1-4 .1,3.6 0-3.2.2,5.2 0-3.3.1,3.5.2,2.1 0-2.1.1,3.1 0-4 .2,3.5.1-4.8.1,6 .2-3.9.1,4.4 0-4.5.1,4.6.1-6.1.1,5.1 0-2.1.1,2.9.1-4.2.2,5.5.1-4.6 0,1.9.2-1.2 0,4 .2-3.7.1,6.5.2-6.8.1,5.2 0-2.2.2,3.2.2-3.5.1,1 0-3.5.3,7.5.1-6.3.1,2.7 0-1.9.1,2 .1-1.5 0,7.3.1-6.5.1,4 0-3.8.2,6.9 0-6.9.1,8.4.1-8.1.1,4.3.1-2.2.1,3.7.1-5.9.1,5.5.1-7.5 0,6.3.1,.8.2-3.9.1,5.3.2-9.2.1,10 .2-8.6.1,3.6.1-6.5.1,4.8.1-4.3.1,2.4 0-5.3.1,4 .2-8.1 0,7 .1-8.1 0,6.4.5-9.7 0,5 .1-3.7.2,3.3 0-3.4.1,5.8.2-10.8.1,5.5 0-2.5.2,1.3.1-4.7 0,3 .2,.5.1-2.7.1,2.7 0-1.9.1,3.7.1-2.9.1,3.1.1-3.2.1-1 .1,1.6 0-2.2.1,5.7.1-7.7.1,5.1.1-6 .1,4.5.2-3.2.1,.6.3-1.7.1,0 .1,1 0-2.8.2,3.9.3-4.1.1,4.5.2-7.7.1,8.6.4-7.3.1,5.9.1-4.7.1,1.8.2-5.2.1,5.4.1-5.5 0,2.2.2-4 .1,2.3.2-2.7.1,1.9.2,.7 0-.9.1,.7 0-3 .1,4.9.2-5 .3,7.8.2-6.1.1,6.4.1-.9.2,2.7 0-2.7.2,4.6 0-1.9.2,2.4.1-1.7.1,3 .1-3.5 0,5.4.2-7.6.2,9.7.1-4.7.2,4.5.1-1.6.1,3.5 0-1.9.1,4.9" fill="none" stroke="#111" stroke-width="0.95" stroke-linejoin="round" />
<path d="M542.0,223.3l.9-18.6 1.2-18.9 1.2-35.2.6-5.6.2-.9.1,.3 0-.9.1,.5.1-.7 1-7.8.1-.7.1,.9.1-1 .1,.4.1-.6.1,1.1.1-.8 0,.8.1-.8.1,.9 0-1.1.1,1.1.1,.1.1-.3.2,1.1.1-.6.2,.6.2-.3.2,2.3 0-1 1.6,31.3.5,3.6.2,3.5.2-1 .1,2.6 1.5,36.4.3,2.6.1-1.5 0,1.2.1-.5 0,.4.1-.6.1,.1.2-1.2.1,1.6.1-.8.1,1 0-.8.6,5.8.1-.3.1,1 0,2.3.1-1.7.1,2.1.5,2 .2-1.1.1,.5.1-.2 0,.1.1-2 .1,.3 0-.4.1,.2.1-1.6.1,.3.2-2.9.3-1.8 1.2-16.4.1,1.2 0-1.7.1,.7.3-2.6 0,.5.1-2.2.1,1.4.1-.9.4-4.2 1.6-38.9.3-2.8.4-1.4.5-5.3 1-22.2.2-2.8.1,.3 0-.6.1,.5.1-1.4.3,1.6.1-.2.1,.2.3,4.9.1-.4.2,3.7 0-1 1,9.8 0-.5.1,.5 1.3,15.1 1.7,31.6 1.1,11.1 1.3,25 .4,3.2.2-.7 0,.2.1-.3 0,.5.2-.8.5-4.9.1,.8.2-2.3.1,1.7 0-1.3.1,.3.1-.5 0,.5.2-.4 0,.6.1-.9.2-.3 0,.6.1-.4.1-1.7.1,.6 1.4-13.5 0,.8.4-2.9.1,.6 1.9-23.2 1.7-29 .3-2.4.1,.2 0-2 .1,1.2.1-1.8.1,.4.2-.7.1-1.4.1,.8.1-.9 0,.7.2-1.5.1,.8.4-1.5.1,.2 0-.4.2,.5 0-.6.5,3.6.1-1.4 0,2.1.4,3.6.3,1.6.1-.7.1,3 .1-.2.2,.6.3,3 .1-.6.4,4.3 1.3,22.7 1.3,14.3 1.1,16 .8,5 .1-.5.2,1.1.1-.2.5,1.2 0-.7.1,1.1.1-1 .1,1.2.1-.8 0,.7.1-.4.1,.4 0-.9.1,.3.1-.2 0,.5.2-.9 0,1 .1-1 .1,1 .1-1.2.1,.7.2-1.1.1,1.4.3-1.1.1,1.2.1-1.6.1,1.4.1-2.1.1,.7.2-1 1.2-15.9.6-4.5 0,1.2.2-1.3.7-7.2 1.3-21.6.2,.4.1-2.5.3-2.7.1,.9.4-4.1.1,1.1.2-2.6.1,.3 0-.6.1,.2.1-2.4 0,.4.1-.5.2-2.2.2-1.6.1,.4.2-2.5 0,1.1.1-1.7.1,1 0-2.2.1,.6.1-.6 0,.7.1-1.1 0,.4.3-1.5.1,.6.2-.4.1,.6 0-.4.1,1.4 0-.8.3,1.6.1-.3 0,1.2.1-.4.1,2.3.1-.7.5,6.8.1-.4.4,4.4.6,3.8.4,4.5 0-.8 1.5,20.9.1,.2 0-.5.3,2.8.1-.5.5,3.1.1-.5 0,1.4.1,.1.1-.5 0,.4.1-.6.2,3.4.7,6.3.1-.6 0,1.3.1-.7.1,1.3.1-.3 0,1.5.1-.6.1,1.6.2-.7.1,.6.1-.8 0,1 .2-.5.1,.3 0-.3.1,.5.1-.7.1,.5.1-.6 0,.4.1-1.4.1,1.1.1-.8.1,.5.1-.8 0,.8.3-2.5.1,.5.1-.9 0,.9.3-2 0-.2.2,.2.2-2.8.1,1 .1-.9 0,.6.9-6.9 1.2-14.4.1-.3.1,.2.6-5.6.1,1 .2-3.4.1-.6.1,.2 1.3-15.3.1,.6.1-1.3.1,.6.5-3.4.2,.1.1-.4 0,.4.2-1.2 0,.7.1-1.2.1,.5.2-1.1.1,.6.1-.7.1,.6.1-.5.1,.6 0-1.1.1,1.6.1-.6.1,.7.1-.6.4,2.5.1-.7.1,2.3.1-1.2.1,1.7.1-.3.2,1.2.2,2.1.1,.7.1-.6 0,.9.1-.9 1.8,18.7 2.1,19 .2,1.2.1-.5.1,.9 0-.4.2,.6.1-.3 0,1 .1-.4.2,2 .2-.5.1,1.1.1-1.5.3,1.8 0-.3.1,.5.1-.9 0,.9.1-.3.1,.5.1-.6 0,.6.2-.9.1,1.2.4-2.1.1,1.1 0-1.4.1,.9.1-.6 0,.4.2-.5 0,.7.1-1.6 0,.4.2-.8.1,.5.2-.6.2,.6.2-1.4.1,.2 0-.6.1,.5.1-1.7.1,.7.8-5.6.6-6.2.1,.6.3-3.9.1,.3.1-.2.2-2.3 0,.7.7-6 .1-.5.1,.3.3-2.9 0,.7.2-.9.2-2.4 0,.5.1-1.1 0,1.1.1-1.5.2,.4 0-1.7.1,1 0-.9.1,.1.1-.1 0,.3.2-1.3 0,1 .1-1.2.2,.5.2-.7.1,.3 0-1.2.1,1.3 0-1.2.2,.8.1-.3.1,.7 0-1.3.1,.5.1-.4.1,.5 0-.3.1,.6 0-.9.1,1.2.3-1.1 0,1.3.2-.9.1,1.1.2-1.6.1,1.5 0-.5.2,.7 0-.4.1,.9 0-1.1.2,1.9.1-.9.3,1.6.2,2.1.1-.6.3,3.5.1-.5.2,1.5 0-.5.1,2.2.1-.3.5,3.6.1,1.9.1,.1.1-.1.4,3.2.1,1.6.1-.6.1,.5.1,2 .1-.7.7,6.7.1-.2.1,.7 0-.5.1,1.7.4,1.5.1-.9.1,2.2.1-.7.1,.6.1-1.1.1,1.9.1-.6.1,.7.1-.6.2,1 0-.9.1,1.5.2-1.4.1,.9.1-1 0,1.5.1-.9.1,1.2.1-1 .2,.7 0-.9.2,1.2.1-.8.1,.9 0-.9.1-.2 0,.2.1-.4.1,.8.3-.2 0-.9.1,.8.1-.9 0,1 .2-1 .1,.6.1-1.5.2,.3.5-3 0,.7.1-1 .1,.6.4-3.6.1,.5.2-.6.3-2.7.1,.1.2-.5 0-1.5.1,.8.3-2.8.1,.7.6-4.5.4-4 .1-.2.1-1.1.1,.9.1-.9.1,.3.4-3.7.1,.5.2-1.2.1,.5.7-3.2.1,.6 0-1.7.1,.4 0-.4.1,.3.1-.7.1,.1.2-1.6 0,1 .1-.6.1,.7.3-1.8 0,.2.1-.2.1,1.1.3-1.6.1,1 .1-.8.2,.9.1-.7.1,.8.1-.7.3,1.5.1-1 .1,1.9 0-.3.1,.4.1-.4.5,2.5.2-.6 0,1.8.1-.6.1,.5.1-.6.1,2 0-.6.2,1 0-.7.1,1.5 0-.8.7,4.4.1-.4.1,.5.2,2.4.1,.9.1-.5.1,1.8 0-.6.7,4.2.1-1.1.5,3.6.1-.3.1,.8 0-.5.2,1.3.1-1.2.2,2.6 0-.9.1,1.2.1-.7.1,1.2 0,.2.1-.2 0,.3.1-.1.2,1.4.1-.7 0,1.7.1-1 .1,.9.1-.7.1,.5.1-.4.2,1.3.1-.6.1,.4.2-.9.1,.6.1-1 .1,1.5.1-1.1.1,.5.1-.8.1,.6.1-.9.1,.9 0-.9.1,.5.1-.7 0,.6.2-.9.1,.8.2-1.4.1,.5.1-1.5.1,.6.1-.7.1,.5.5-3.1.1,.8 0-.8.2,.9 0-1.4.1,.6.2-1.6.1,.8 0-1.7.1,.8.1-.3.1,.1.3-2.9.1,.5.1-.6.1,.1.1-1.2.1-.3.1,.7.1-1.2.1,.5.2-1.8 0,1.3.1-2 0,.7.4-1.6.3-2.9.2,.3.3-1.7.1,.6.1-1.4.2-1 .1-.2.1,.5.2-2.6.2,1.3.1-1.8.1,.2.1-.7.1,.8.1-2.1.1,1.3.3-2 .1,1 .2-1.3.2,.1 0-.4.1,.7.2-.5 0,.8.3-1.6.1,1.1 0-.8.1,.6.1-.6.1,.9.1-1.3.3,1.7.1-.8.1,1 0-.8.1,1.1.1-.6.2,1.1.2-.2.2,1.6 0-.8.3,1.2.1-.9.2,1 .1-.5.2,2 .1-.8.6,3.8.1-.9.1,1.3 0-1 .4,3.3 0-.5.2,1.8.1-.6.4,2.8.1-1 .2,2.8.1-1.3.6,3.6 0-.9.1,1.2.1,.4.1-.3.1,1 .1-.3.2,2.4 0-1.7.1,1.4.1-.1.1,.5.1-.8.2,2.1.2-.7 0,.9.2-.6.1,2 .1-.9.1,.2.1-.2.1,1 .1-.2 0,.3.2-.8.1,1 0-.3.2,.6 0-1 .1,.8.1-.4.2,.1 0-.5.1,.4 0-.9.1,1.8.4-1.9 0,.9.1-.7.1,.5.1-.6 0,1.2.1-1.1.1,.9.2-1 .1,1.5.2-1.8.2,.8.1-1.3.1,.2.2-.2.1,.5 0-1 .1-.2.1,.2 0-.6.1,.6.3-2 .1,.5.1-.7.1,.4.1-.6.3-2 0,1 .2-.9.1,.5.4-2.6.1,.7 0-.4.2,0 .2-1.6.1,.7 0-1.3.1,.6.2-1 0,.7.4-2.3.1,.5.2-1.5.1,.8.2-2.2.1,.1.2-.2 0-.6.1,.9 0-1.1.2,.6 0-.9.1,.5.3-.7.1-1.2.1,.8.3-1.7.1,1.3.1-1.1.1,.5.1-.9.1,.5.3-1.1.2,.5 0-1.3.1,1.1.1-.7 0,.6.1-.8.1,.8.3-1 .1,.6.1-1 .1,1.1 0-1 .1,1.4.1-1.3.1,.8.1-.3.1,.6 0-.2.1,.3 0-.3.1,.7.2-.4.1,1 .1-.8.1,1.8.1-1.2.2,2.3.2-1 .1,1.6.1-.7.2,1.4.1-.8.3,2.2.1-.5 0,.7.1-.4.2,.5.3,2.1.1-.5.1,1.5.2-.6.2,2 .1-.9.1,1.1.1-.4.1,.8.1-.2 0,1.1.1-.1 0,.2.1-.1.2,.7 0-.4.3,1.4.1-.5.1,1.3.1-1 .2,1.5 0-.9.2,1.1.1-.5.3,1.2 0-.7.1,1.2.1-.9 0,1.3.1-.7.1,.9.1-.6.4,1.4.1-.8.1,.7 0-.8.2,.7.1-.1 0,.3.1-.2 0,.3.1-.2 0,1 .1-1.1.2,1.1 0-.9.1,.6.1-.7.1,.5.1-.5 0,1.2.1-1.9.2,1.4 0-1.1.1,1.2.2-1 0,1.4.1-1.6.1,.7.2-.9.1,.5 0-.4.1,.3 0-1.6.1,1.6.1-2.3.1,.9.2-1.2.1,1.4.2-1.7.1,.4.1-.8.1,.6 0-1.1.1,.8.4-1.9 0,.8.1-.8.1,1 .1-1.8.1,.2 0-.2.1,.2.1-.1.3-1.8.1,.4.1-1 0,.8.3-2 .1,.4 0-.6.1,.6.1-.4.1-1.3.2,1.5.1-1.5.1,.3 0-.6.1,.3.5-2 0,.5.2-.8 0,.5.2-1.6.1,1 .3-1.7.2,1.1.1-2 .2,.9.1-1.3 0,.3.1-.2.1-.7.1,1 0-1.2.2,.4 0-.7.1,.5.1-.7.2,1 .1-2 0,1.7.3-1.6 0,.8.2-.9.2,1.1.2-1.1.1,.7.1-.4.2,1.4.1-.5.2,.7.1-.8.1,.8.2-.5.1,1 0-.6.2,1 .1-.7.1,.8.1-.6 0,1.3.2-.4 0,.9.1-.7 0,.9.1-.9.3,1.4 0-.6.1,.6.1-.4 0,1.2.2-1.1 0,1.8.1-1.4.2,2.2.1-1.1.1,1.5 0-.9.5,1.9.1-.7.2,1.6.1-.7.4,1.8 0-.9.2,1.5.1-.9.1,1.7.2-.9.3,1.7 0-1 .2,1.2 0-1.2.1,1.5.2-.9.1,.9.1-.5.1,.8.2,.3.1-.5.2,1.2.3-1 0,1.2.1-.8.1,.7 0-.8.1,1 .1-.7.1,.6.1-.7 0,.7.1-.7.1,1 0-.8.1,.4.1-.3.1,.4.2-1.1.2,.9 0-1.2.1,.6.1-.5.1,.8.1-.9.1,.6.1-.8 0,.9.1-1.1.1,.8.1-.6.2,.2.2-1.1.2,.5.1-.5 0,.5.1-.7.1,.5.1-.8.1,.7.1-1.2.1,1.2.1-1.2.1,.7.1-.7 0,.5.3-1.8 0,.9.1-1.2.2,.8 0-.9.1,1.1.3-2.8.2,1.4.2-1.4 0,.5.1-.8.1,.7.1-1.2 0,.5.5-1.2 0,.5.1-1 0,1.5.3-2.7.2,1 .2-.7.1,.4 0-.8.1,.2 0-.3.1,.4.1-1.4.1,.6.1-.6.1,.7.2-1.1.1,.7.1-.6.1,.8.2-1.6 0,.5.1-.4.1,.4 0-.7.2,.7.2-.8.1,.6 0-.4.4,.5.1-.7.2,.5.1-.5.1,1.7.1-1.6.1,2.2.1-2.3.1,.9.1-.9 0,.9.2-.6 0,.4.1-.2.2,.1.2,1.2.1-1.3 0,.8.1-.6 0,.8.1-.4.2,.6.1-1.1.2,2 0-1.1.2,1.5.2,.2.1,.5.1-.4 0,.2.1-.2 0,1 .1-.8.4,2.1.1-.4.1,.3.1-.4.2,1.3.1-.9.4,2.3.1-.9 0,1.1.1-1 .2,1.9.1-1.2.1,1.4.2-.7.1,1.1 0-1.2.1,1.4.1-.7.1,1.3.1-.5 0,.4.2-.1.1,.6 0-.7.1,.6 0-.2.1,.3.1-.2 0,.5.1-.5.2,1.6.2-1.2.1,.9.1-1.3 0,1.4.1-.5.1,.3.1-.2 0-.7.1,1.3.2-1.1.3,1.3.1-.6.1,1 .1-1.7.1,1.6.1-1 0,1 .1-.5.1,.5.1-.5 0,.6.1-.6.1,.6 0-.7.1,.8.1-.6.1,.6.1-.8.2,1.3.1-1.4.2,1 0-.9.1,.1.1-.5.1,.5 0-.7.2,1.2 0-.7.1,.1.1-.7 0,.8.4-1.6.1,.7.2-1 .1,.7 0-1.2.1,1.3 0-1.1.2,1 .3-2 .1,1.4.1-1.2.2,.4.1-.4 0,.5.1-1 0,1.3.1-1.4.1,.1.2-.7 0,.4.1-.4.1,.2 0-.7.1,.8 0-.5.1,.5.1-1.3.1,.7.1-.9.1,1 .2-1.7 0,1 .1-1.2 0,.7.2-1.1.1,.7.1-.5.1,.8.2-1.4.2,.9.1-.5.1,.3 0-1 .2,.9.1-1.3.1,.6.2-.5.1,.7 0-.7.1,.1.1-.2 0,.5.1-.9.1,1 .1-1.5 0,1.1.2-1.5 0,.9.2,.3.3-1.1.1,1 .1-1 .1,.9.2-1.5.1,.9 0-.4.2,.6.2-1.1.1,.7.1-.8.2,1.4.2-1.4.1,1 .2,0 0-.4.1,.8.1-.7.3,1 .1-.4 0,.7.1-.5.1,1 .2-1.3.1,1.4.1-1.2.2,1.5.2-.8.1,1 .1-.4.1,.3 0,.9.1-.9.1,1.3.1-.7.3,.9 0-.6.5,1.5.3-.4.4,1.6 0-.9.3,1.7.1-1.2.1,.6 0-.4.1,1.3.1-1 .4,1.3.1-.6.1,1.1.3-1 0,1.6.1-1.2 0,1.1.1-.2.1,.2.1-1.1 0,1.4.1-.9.3,.9.2-.4 0,.6.1-.7.2,1.1.1-1.1.1,.6 0-.4.1,.7.1-.5.1,.6.2-1.3.1,1.2.1-.3 0,.6.2-1.1.2,1.1 0-1.5.1,1.4.1-1.1.2,.9.1-.7.1,.4.2-1.1.1,1.2.1-.8.1,.8.1-.7.2,.4 0-.7.2,.5.1-.9.1,.5.1-1.1.2,.6.1-1 .1,.7.1-.4.1,.5.1-.9.2,.9.3-1.3.1,.7.2-1.2.1,1.1 0-1.2.2,1.2 0-1.4.1,.7 0-.5.1,.4 0-1 .1,1.1.2-1.3 0,.3.1-.3.2,.6.1-1.2.1,.5.1-.3 0,.2.1-.7.1,.5 0-1.1.1,1.1.2-1.1.2,.6.2-1.4.1,1 .1-1.6 0,.7.2-.4.1,1.1 0-1.3.1,.3 0-.5.1,.4.1-.9.2,.6.1-1.4.1,1 .1-.8.1,.5 0-.8.1,.7 0-1.2.1,.7.2-.8.2,.8.2-1.1 0,.8.2-1.1 0,1.2.1-1.1.1,1 0-.9.1,1.1.2-1.6.1,.9.1-1 0,1.3.2-1.2.1,.7.1-.5.1,.6 0-.4.1,.4.1-1.2 0,.8.1-.8.1,1.1.1-.3.1,.5.1-1.4.2,1.4.3-1.2.2,1.4.1-1 .1,1.2.1-.9.1,.8.1-.5.3,1.1 0-.8.1,.6.1-.6.1,1.2.1-.6.1,1.1.1-1 .1,.7.1-.4.3,1 .1-.6.3,1.6.2-1.5.1,1.7.2-.3 0,.6.2-.4 0,.7.2-.6.1,.5.1,.1.1-.2.1,.5 0-.2.1,.7 0-.6.1,.9 0-.9.3,1.7.1-.9.1,.9.1-1.1.1,1.5.2-1.1 0,1.4.1-1.2.1,1 .1-.3.1,.5.2-.1.1,.5 0-.5.2,1.1 0-.7.3,.9.1-1.1.2,1.3 0-1.4.3,1 .1-.1 0,.1.1-.4 0,.7.1-.6 0,.6.2-1 0,1.3.1-1.1.2,.9.1-1.2.1,1 .1-.4.1,.4 0-.7.2,1.3.2-1.3.1,1.2.1-.9.1,1 .1-1 .1,.5 0-.5.2,.5.2-.7.1,.7.1-1 .1,.9.2-1.1.1,.4.2-.9.1,.9.1-.9.1,.7.1-.5 0,.6.1-.4.2,.3 0-.7.2,0 0-.2.1,.3.2-.7.1,.5.2-1.4.1,1.1 0-.9.1,.4.3-1 .1,1 .1-1.8.1,1.2 0-1 .1,1 .1-1.3.3,1.3.1-1.5.2-.3 0,.3.1-.5.2,.7 0-1.1.1,.9.2-1.6.2,1 .3-1.5 0,1.1.1-1.1.1,.7.1-.9.2,.5.2-.5 0,.9.2-1.7.1,.5.1-.5 0,1.1.1-1.3.1,1.1.1-1 .1,0 .1-.3 0,.3.1-.4.1,1.1 0-1.8.1,.9 0-.8.1,.8.1-.4.2,.6.1-.8.1,1.4.1-1.3.1,1.1.2-.8.2,1.2 0-.8.1,.4.2-.4 0,.5.2-.9 0,1.1.2-.5.2,1 .1-1.2.2,1.6.1-.9.1,1 0-1.2.1,1.2 0-.2.1,.4.2-.3.1,.1 0-.4.2,1.1.1-.7.2,1.3.1-.3.1,.4 0-.6.3,1.1 0-1.2.1,1.3 0-.7.1,.2.1,.9.1-1.2.1,1.5 0-.9.1,.9.1-.4.2,.5 0-.4.1,.8.1-.5.3,1.5.3-.7.3,1.5.1-.7 0,1.1.1-1.1.4,2.1 0-1.5.2,1.6.2-1.1.2,1.4 0-.7.1,.2.1-.5.4,1.5.1-.8.1,.2.1-.3.2,1.1 0-1 .1,1.5.2-1.3.1,.5.1-.5 0,.8.2-.8.1,.3.2-.2 0,.7.1-.4.1,.1.1-.2.1,.6.1-1 .1,1.1.2-1.4.1,.9.1-.5 0,.8.1-.7 0,.8.1-.6 0,.5.3-1.6.2,.9 0-.4.2,.3 0-.8.1,.6 0-.4.1,.2 0-.5.1,.9.1-1.7.1,.7.1-.5.2,1 .1-1 .1,.6.1-.8.1,.6.2-.8.2,.7.1-1.3.1,1.1.1-1 .2,.4.2-.9.1,.8.1-1.2.1,.8.2-1.1.1,1.2.1-1.6.1,.7.1-.6 0,.5.2-1.2.1,.8.1-.9.1,.7 0-.9.1,.9.4-2 .1,.6.1-.6.1,.4 0-.6.2,.7.1-.6.1,.6.1-1.1.3,1.1.1-1.9.1,1.2 0-.5.1,.6.2-1.6.1,1.9 0-1 .3,.6.3-1.3.1,.8 0-.8.2,.9.2-.8 0,1.1.1-.8.2,.6.1-.5.1,.5 0-.7.1,.6.1-.6.2,.7 0-.6.1,.6 0-.5.2,.9.1-1 0,1.1.3-.7 0,1 .1-.6.2,.7.2-.7.1,1.5.2-1.3.1,1.2.1-1 0,1 .1-1.2.1,1.8.1-.9 0,.9.1-.6.1,.4.1-.2.2,.8.1-.9.1,1.3.1-.8.1,.8.1-1.1.1,1.3.1-.7.1,.7 0-.3.2,.5 0-.2.1,1.4 0-1.1.1,.5.1-.5.2,1.1.1-1.2 0,1.1.1-.5.2,1.1.2-.9.3,1 .2-.7.1,1.3.1-.9.1,.9.2-.8.2,1.4.1-1.5.1,1.7 0-1.5.1,1.2.1-.8.2,.1 0-.4.1,.7.1-1.1.1,1.7 0-1.2.1,1 .1-1.1.2,1.4 0-.8.1,1 .1-1.5.1,1.3.1-1 .2,.8 0-1.1.1,1.3.1-.6 0,.4.3-.9 0,1.1.2-1.5.1,1.1.1-1 .1,.6.1-.7.2,1 0-.4.1,.4.1-1.2.1,.6 0-.6.1,.9.2-1.2.1,.9 0-.8.2,.8 0-.6.1-.2.1,.4.1-1.1 0,.6.1-.6.1,.7 0-.8.1,.5.1-.4.2,.8 0-1.2.1,1.1 0-.8.1,.4.3-1.2.1,.7.2-1.2.1,.5.1-.4.1,.5.1-1.1.2,.5.1-1 0,1.1.1-1.1.1,.6.2-1 .1,.4.3-.7 0,.5.1-.1.1-1.1 0,.7.1-.6.1,.4.1-.6.1,.8.2-1.1.1,1 0-.8.1,.7.2-1.6.1,1.2.1-.3 0,.5.3-1.2.2,.4.1-1.8.1,1.4.1-.5.1,1.1.1-1.3.1,1.1.1-1.5.2,.9.1-.4 0,.5.2-.9.2,1.1.2-1.4.2,1.5.1-1.7 0,.7.1-.4 0,.3.1-.1.1,1 .1-1 0,.8.1-.7.1,.8.1-.6.1,1.3.2-.9.1,.9.2-2 .1,1.5 0,.2.1-.3.1,.7.1-1 .1,1.2 0-1.1.1,1.3.2-1.1 0,.7.1-.6.1,1.1.1-.6.1,.7.2-.8.3,1.5.1,.2.1-.6 0,.9.1-.4.1,.4 0-.6.2,.8.3-.5 0,1.1.2-1 0,1.3.1-.9.1,1.3.1-1.3.1,1.2.1-.3.1,.3 0-.5.2,.8.1-.6.1,1 .2-.4 0,.2.1-.9.1,1.5.1-1.3.1,1.3.1-.7.1,1 .1-1 .3,1.3.2-.7.2,1.3.1-1.6.2,1.4.2-1.1.2,1.3.1-.8.1,.9.1-.9.1,.7 0-.5.1,.5 0-.5.3,.8.3-.8.1,.9.3-1 0,.7.2-.1 0-.8.1,1.4.1-.9.1,.6.1-1.2.1,1.1 0-.4.2,.3.1-.6 0,.7.2-1 0,1.2.2-2.1 0,1.2.1-1.1.2,1.4.2-1.5.1,.8.1-.7.2,.1 0-.4.1,.8.2-1.2.1,.5.1-.5.1,.8.1-.3 0,.2.1-.6 0,.5.1-.6.1-.2.1,.3 0-.5.1,.4.1-.7.1,.6.1-1.2.2,.9 0-.7.1,.5 0-.6.1,.6.3-1.1.1,.5.1-.3.1,.5.1-.5 0,.5.1-1.6 0,.8.1-.7.2,1 .1-1 0,.3.1-.3.1,.6.1-.3 0,.3.3-1.5.1,.8.1-1.1.1,1 .1-1.4.2,.8.1-.8.1,1.3.1-1.2.1,1.1.1-1.5.2,1.3 0-1.3.2,.8.1-.8.1,.9.1-.6.1,.4.1-.6 0,.7.1-.9.1,1 .1-1 .1,.9.2-1 .2,1.4.1-.7.2,.4.2-.9.1,.9 0-.4.1,.6.1-.4.1,.4.1-.6.1,1 0-1.1.1,1.2 0-.4.1,.4.1-.8.1,.7 0-.7.1,.8 0-.6.1,.4 0-.3.3,1.7 0-1.9.2,1.4.2-.5.2,.9 0-.6.2,.8 0-.5.1,.9 0-1.1.1,.9.1,.5.1-.3 0,.6.1-.9.1,1.3.1-.9.2,.5 0,1 .3-1.1.1,.9 0-.4.1,.4 0-.2.1,.6.1-.7.2,1.4.1-.7.1,.4.1-.7.2,1.8 0-1.6.3,1.6 0-1 .1,.7.2-.6.2,1.8 0-1.6.1,1 .1-1 .1,1 .1-.2 0,.5.1-.5.1,.6.1-.5.2,1.1 0-.9.1,.6 0-.3.1,.3.1-.2.1,.9.2-1 .2,.7.1-.6.2,.7.2-.7.1,.7.1-.7.2,1.2 0-1.3.1,.8.2-.2 0,.4.1-.8.1,.8 0-.9.1,.4.2-.6.1,.8.1-.4 0,1.1.3-1.3.1,.8.1-1.5.1,1.3.1-.8.1,.5.1-.4 0,.8.1-1.3.1,.2.1-.4 0,1 .4-1.7.1,1.4 0-.8.2-.2.1,.2 0-.4.1,.6.2-1.3.1,.9.2-1.4.1,.7.1-.3 0,.2.2-1.2.1,.8.1-.4 0,.8.3-1.3.1,.7 0-1 .1,.4.1-.7.1,.6.1-.2.1-1.6.1,1.2.1-.2.1,.3.1-.8.1,.3.1-.4.1,.5 0-1 .1,1.2.2-2.4.1,1.4 0-1 .1,.9 0-.8.2,.6.1-1.1.2,.7.2-.8.1,.9.1-1.2.1,.5.1-.4.1,.6 0-1 .2,1 .1-1.2.1,1 .1-.9.1,.7.1-.5.1,.7.2-1.4.1,1 .1-.4.1,.6.1-.9.2,1 .2-.8.1,.8.2-.6.1,.8.1-.8.1,.7.2-.9.2,1.5.3-1.1.1,1.1.2-.5.1,1 0-1.2.1,.6.2-.7 0,2.1.1-1.5.2,1.2.1-1.2 0,1.6.2-.9.1,1.1.1-1 0,1.3.2-1 .3,1.4 0-1.4.3,2.2.1-1.2.1,1.2.1-1.4.3,2.2.1-1.1 0,1.4.1-1.3.1,.8.1-.9.1,1.3.1-.9.1,.7.2-.6 0,1.3.2-1.1 0,1.1.1-1.1.1,1.4.1-.4 0,.1.2-.3 0,.1.1,1.2 0-1.4.2,.8.2-.6 0,1 .1-1.1.1,1.2 0-.8.1,.9.3-.9.1,1.4.2-1 .1,1.1 0-.8.2,.6 0-.7.2,.8 0-1.2.3,1 0-1 .1,.8.1-1 0,1.5.1-.9.1,.9.1-1.1.1,.9.1-.8.1,.6 0-.8.1,1 .1-1.4.1,.9.3-.9.1,.8.1-1 .1,1.3.2-1.3.1,.7.1-.7.1,.6.2-.9.1,.5.1-.5 0,1.2.1-1.5.1,.3.1-.6.2,.7 0-.8.1,.8.1-1.7 0,.7.3-.5.1,.5.2-1.3.1,.9.1-1.2 0,.8.2-.1.1-1.1.1,.9.1-1.3.1,1.2.2-1.4.1,1 0-1.2.1,1.6.2-2.3.1,1.6.1-1.3.3,.6.1-1.2.1,.9 0-1.1.2,.6.2-.7.2,.6 0-.7.1,.5.1-1.3.1,1.1.3-1.4 0,1.8.1-1.6.1,1.3 0-1.1.3,.9.2-1.4.2,.9.2-.8.2,.7.3-1.1.1,.8.1-.7.1,.6.1-.5.2,.8.2-.6.1,.5.3-.1 0,.4.1-.6.1,1.4 0-1.1.1,.6.2-.5.1,.7.1-1 .3,2.1.1-1.3.1,.8.1-.6.1,.9.1-.9.1,.9 0-.9.2,1.5.1-.8 0,.9.1-.8.1,.9.1-.4.1,1.5.1-1.4.2,.9.1-1.2.1,1.5.1-.4.1,.4 0-.5.2,.8.2-.5.2,1.7.2-1.2 0,1.4.1-1 0,.3.1-.4.3,1.1 0-.5.1,.3 0-.2.1,.9 0-1 .2,.6 0-.5.1,.2.1,.6.1-.5.1,.6.1-.6.2,.9.1-.6.1,1.1.2-.7.1,.6.1-.5.1,.4 0-.3.1,.3.1-.4.2,.7.2-.8.1,1 .1-.6.1,.8.1-.8.2,.5.2-1.1.2,.9 0-.5.3,.6 0-.4.1,.4.1-.5.1,.7 0-1.3.1,.8.1-.2.2,.5.1-1.1.1,.4.1-.5 0,.5.1-.6.1,.7 0-.2.1,.2.2-.9 0,.7.1-1 .1,.9.1-1 .2,1.2 0-.9.1,.9.1-1.3.1,.5.1-.6.1,.9.2-1.2.2,1 .1-1.3.1,1.2.2-1.6.1,1.1.1-1.2.1,.9 0-.8.1-.2.1,.3.2-.6.2,.4.1-.7.1,.7.1-.7 0,.5.1-1.2.1,1.5 0-1 .2,.1 0-.3.1,.3.1-1.1.2,1 .2-1 .1,.7.1-1.2.1,1.1.1-.7.1,1 0-.8.1,.3 0-.4.1,.3.1-.1.1-.7.1,.8.2-1.2.1,.9 0-.5.1,.6.1-.4.1,.5 0-.9.3,1 .2-1.5.1,1.5.2-1.5.1,1 .1-.7.1,.7.2-.5.2,1 .2-.7.1,.5.1-.4.1,.3 0-.6.2,.8 0-.9.2,.9.2-.3 0,.1.1,.9.2-1 .1,1.7.1-1.3.1,.9.2-.4 0,.8.1-1 .1,.8.1-.4.1,.5 0-.2.1,.7.1-.9.1,.9.1-1 .1,.2.2,1.2.1-1.2 0,1.3.1-.9.1,.9 0-.9.1,1.6.1-.9.2,.7 0-1.2.1,1.7.1-.5 0,.5.1-.8 0,.7.1-.2.1,.4 0-.5.1,.8.1-.8.1,1.1.1-1.4.1,1.7 0-1.1.1,.3.1-.4.2,1 0-.8.1,.4 0-.2.1,1.1.2-.5 0,.5.2,.3 0-.6.1,.5 0-.8.1,1.3.2-1.1 0,.8.2-.4.1,1.3 0-1.5.2,1 0-.4.1,.4.1-.5 0,.6.2-1.2.3,1.6.3-1.7 0,.8.1-.9.1,.7 0-.4.1,1.2.1-1.1.3,.8.1-.5 0,.5.1-.9.1,1.5 0-1 .1,.7.1-.9.2,.5.2-.6.1,.9.1-.8 0,.3.1-.3 0,.2.2-1.1.1,1.1 0-.5.1,.4.1-.5 0,.5.1-1.3 0,1 .1-.4.1,.4.1-.8.1,.7.1-.6.1,.6 0-.6.1,.9.2-1.6 0,1.2.1-.7.2,.5.1-.7.1,.5 0-.6.1,1.1.1-1.1.2,.6.2-1.4.2,.4.2-.7.1,.7.1-1.3.2,.6.1-1.1.2,.8.1-.5 0,.5.1-.6.1,.3.3-.5.1,.5.1-.5.1,.4 0-1 .1,1 .1-1.1.1,.9.1-.6.1,.7 0-1.1.2,.7.1-1.2.1,.6.1-.6 0,1.1.1-1.1.1,.7.1-1 .4,1.3.1-1.7.2,1.2.3-.9.2,.7 0-1 .2,1 0-1.1.1,.9.2-.8.1,1 0-1 .3,1.6.1-1.5.2,1.6.2-1.2.1,.9.1-1.1.1,1 0-.4.1,.4.1-.3.1,.3 0-.8.1,.9.1-.8.1,.9.2-.4 0,.5.1-.9.1,1.3 0-.7.2,.4 0-.9.1,1.7.1-1.1.1,.3.1-.4 0,1.1.1-.6.2,1 .1-.7 0,1.6.2-2.1.2,1.5 0-.3.1,.4.1-.5.3,.8.2-.6 0,.9.2-.8.1,1 .1-.6.1,.5.1-.9.1,.8.1-.7.1,1.4.3-1.1.2,1.7.1-.5.2,.2 0-.5.1,.8.1-.3 0,.2.1-.6 0,1.1.1-.8.1,.5.1-.3 0,.7.2-.7.2,1.1.2-1.3 0,1.7.1-1.8.1,1.2.1-.8.1,.2.1-.2.3,.5.1-.4.1,.3.1-.7.1,1 .1-.9.1,1.2 0-1.3.1,.8.1,.3.1-.5.1,.6 0-.7.1,.3 0-.2.1,.3.1-.4 0,.4.1-.6 0,.4.1-.7 0,.6.1-.5.1,.8.2-.8 0,.8.5-1.4.2,.8.2-.9.1,1 0-.8.1,1 0-.9.1,.5.1-1 0,.7.1-1 .1,.7.2-.9.2,1 0-.9.3-.6.1,1.1.1-1.1.1,.6.1-.9.2,1.1.1-1.7.2,1 0-1 .3,.8 0-1.1.1,.6.2-.9.1,.6.1-.8.1,1 .1-1 .2,1.1 0-.5.1,.3.1-1.2.2,.4.1-.9.2,1.4.1-1.4.1,1.1 0-1.1.1,.5.1-.1.1,.3.1-1 .1,.9.2-.7 0,.1.1-.1.1,.5.2-1.7.3,1.6.2-.8.3,.5.1-.9 0,1.4.1-1.2.1,.4.1-.7 0,.8.1-.3 0,.3.2-.2.1,.2.1-.8.2,.9.1-.6.1,1 .1-1.3.1,1.5.1-1.4.3,1.8.1-.9.2,.8.2-1 .3,1.7 0-1.1.1,.7.1-1 .2,1.1 0-.9.1,1.1.1-1 .1,1.6.1-1.4.2,1.6.1-1.1.1,1.1.1-.7.1,.8 0-.8.2,.6 0-.5.1,1 .1-1 .1,1.1.1-.3 0,.5.1-.5.2,.7.1-.4 0,.8.1-1.2 0,.7.2-.2 0,1.1.1-1.5.2,1.4.2-.9.1,1.5.1-1.3.1,1 .2-.3.3,.8.1-1.3.1,1.1.2-.8 0,1 .1-.9.1,1.2.2-.7.1,1 .1-1.1 0,1 .1-1 .2,1.3.1-1.3.2,2 .2-1.7.3,1.1.2-1.3.2,.7.1-.5 0,1.1.1-.9.1,.7 0-1.1.1,.5.1,.3.1-.4.1,.4.1-.8 0,1 .1-.8.1,.5.1-.4.1,.8 0-1.3.1,1.2.2-1 .1,.5.1-.4 0,.4.2-1.1.2,1.7.1-1.5 0,.8.2-1 .2,1.1 0-.9.2,.7.2-1.1.1,.7.3-1.5.1,.7.1-.6.1,.8.1-1.3 0,1.1.2-.8.2,.8.1-1 .1,1.2 0-1.7.1,1 .1-1.1.1,1.7.2-2.1.1,.9 0-.8.1,.6.1-.5.1,.8 0-1 .2,1.1.1-1.6.1,.7.1-.6.1,1.3.1-1.3.1,1.1.2-1.5 0,.8.1-1.3 0,.8.2-.3.1,.7.1-1.7.1,1 .1,.4 0-.3.1,.6.2-1.3.3,1.2.2-1.1.1,1.4.1-1 .1,.8.1-1.2.1,.8 0-1.1.1,1.1 0-1.1.2,1.1.1-.9.2,.9.1-.9 0,.7.1-1.1.1,1.5.2-1 .1,.7 0-1.1.1,1.3.1-.9.2,.9 0-.6.1,1 .1-1 .1,1 .1-.3 0,.2.1-1.2.1,1.4 0-.5.2,.1 0-.2.1,1.3 0-.6.2,.4.2-.6.2,1 .2-.7 0,.2.1-.2 0,.3.2-.2 0-.6.2,1.9.1-1.3.3,1.9.2-1.5 0,1.4.2-.8.2,.7.1-.4.1,.5.1-.3.1,.9 0-1.3.2,1.2.2-.8 0,.9.1,.1.1-.3.1,.7.1-.6.3,.6 0-.3.2,.2 0-.2.2,.9 0-1.3.1,.7 0-.2.1,.4.1-.2.1,.7.1-.8.2,.6.1-.4.1,1 .2-1.7 0,1.4.2-1.1.1,1.1.1-1.3.2,1.7 0-.9.1,.4.1-.3 0,.8.2-.9.3,1.1 0-1.3.1,.8 0-.7.1,.6.1-1.3.2,2.2.2-1.8.1,.7.1-.8.1,.7.1-.5 0,.5.2-.5.1,.8.1-1.1.1,.5.1-.7 0,.8.1-.6.2,.3 0-1 .1,1.4.3-1.3 0,1.2.2-1 .1,.8.1-1.4.1,.4.2-.5.1,.1 0-.1.1,.8 0-.7.1,.4 0-.5.1,.1.1-.3.1,.3 0-.9.1,.6 0-.1.2,.3.1-.6.1,.4 0-.8.1,1.4.4-1.8.1,1.1.4-1.3 0,.7.2-.5.1,.6.1-.7 0,.4.1-.6.1,.4.1-.6.1,.9.1-1.4.2,1 .3-1.3 0,.7.2-.6.1,.9.3-.8.1,1.2.3-1.4.2,1.2 0-1 .2,.7.3-1.1.2,.4.1-.4.1,.6.1-.4 0,.5.4-1 .2,1.4.1-.9.1,.5.1-.4.1,.7.2-1.4 0,1.3.1-.5 0,.5.1-.1.1-.6.1,1.8.1-1.6.2,1.1.1-.9 0,.8.2-.7 0,1.2.1-1.3.2,.9.1-.5.1,.7.1-.7.1,.8.2-.4 0,1 .1-1 .2,.9.2,.2.1-.5" fill="none" stroke="#33ee33" stroke-width="0.9" stroke-linejoin="round" />
<path d="M542.0,183.2l.1-.2.2,.3.1-.5.3,.3.1-.8.1,.3.2-.1.4-.9 0,.3.1-.4.1,.4 0-.2.1,.4.1-.8.1,.2.3-.5.1-.6 0,.5.3-.8.2,.3.1-.5.3-.4.1,.2.2-.5.1,.3.4-1 0,.4.1-.6.1,.4.1-.5 0,.3.6-.6.1,.3.3-.6.1,.4.3-.2.1-.4.1,.6.2-.6.1,.4 0-.3.2,.8.2-.5.2,.3.1-.3.1,.4.1-.3.1,.3.2,0 .1,.5.2-.4 0,.4.1-.1.3,.3 0,.5.1-.6.3,.8 0-.2.2,.2 0-.4.2,.7 0-.1.1,.2.1-.4.1,.8.1-.5.2,.8.1-.4.4,.8.1-.3.2,.6.1,0 .1,.2.1-.2.1,.4.1-.4.1,.5.1-.4.1,.6 0-.2.1,.2.2-.3.1,.8.2-.7 0,.4.1-.3.1,.8 0-.4.1,.2.1-.1.1-.5 0,.7.2-.7 0,.8.2-.5.1,.3 0-.2.2,.2 0,.4.2-.5 0,.8.1-.7.2,.2.1-.3 0,.5.1-.5.1,.4.1-.5.2,.8.1-.9.1,.9.1-.5.1,.2.2-.3 0,.2.1-.3.1,.2 0-.1.3,.2.2-.5.1,.6.1-.7.1,.6.2-.9.1,.4.2-.2.1,.4.1-.6 0,.5.4-1 .1,.6.1-.6.2,.4 0-.6.2,.3.1-.5.1,.5.3-.7.1,.3 0-.5.1,.4.1-.3 0,.2.1-.8 0,.5.1-.4.1,.4 0-.4.2,.2 0-.4.1,.3.2-.6 0,.4.1-.7 0,.3.2-.6 0,.5.3-.9.1,.5.6-1 .1,.4.1-.4.1,.3.2-.7.1,.4.3-.5 0,.2.1-.6.2,.5.1-.4.1,.2 0-.3.1,.3.1-.6.1,.3.1-.5.3,.5.1-.8.2,.8.1-.4 0,.5.3-.5.1,.4.1-.5.1,.4 0-.4.3,.7 0-.4.1,.4.1-.4.1,.7.1-.6.3,.7 0-.5.1,.6.1-.4.1,.5.1-.5.1,.5.1-.2.3,.5.1-.2.1,.8.1-.4 0,.3.1-.2.7,1.2.1-.5 0,.6.2-.3.5,1 .1-.3.1,.3.1-.2.2,.6.2-.1 0,.5.1-.5.1,.5.1-.5.4,1.1.2-.5.2,.6 0-.4.1,.5 0-.5.1,.2.1-.2.1,.5.2-.1.1,.3.1-.5.2,1 .1-.7 0,.5.2-.5.1,.6.2-.4.2,0 .1-.3 0,.5.2-.3 0,.7.2-.8.1,.6 0-.8.2,.6.3-.4.2,.3.2-.6.1,.5.3-.6 0,.4.2-.2 0,.6.3-.7 0,.3.2-.7.1,.7.4-.8.1,.4.1-.3.1,.2 0-.2.1,.1 0-.5.2,.7 0-.6.1,.3.1-.5.1,.3.1-.3.1,.7.2-1.1 0,.3.3-.4.1,.4.4-.9.2,.4.1-.6.1,.2.1-.1.1,.4.2-.7.3,.2 0-.7.1,.5.1-.3.1,.3.1-.5.2,.2.2-.6.1,.3.2-.4.1,.3 0-.3.2,.3 0-.5.1,.3.1-.4.2,.4.2-.7.3,.4.1-.3.1,.5.2-.6.3,.6 0-.9.2,.7.1-.6.2,.6.1-.5 0,.4.1-.2.1,.2.1-.2.1,.3.1-.4.1,.6 0-.2.1,.2.1-.5.1,.7.3-.7 0,.6.2,.2.1-.2.1,.7 0-.7.2,.8.1-.5.2,.4 0-.2.2,.2.1-.3.4,.9.1-.5.2,.9 0-.4.1,.5 0-.6.2,.9.1-.7.1,.7.2-.5.5,1 .2,.2 0-.2.1,.2.1-.1.1,.3 0-.3.1,.4.1-.2 0,.2.1-.6.2,1 0-.6.2,.8 0-.6.1,.5.2-.5.1,.6.1-.6.2,.8.1-.4.1,.5.1-.8.1,.7.2-.4.2,.6.2-.5.2,.4.1-.5.1,.7.3-.3 0,.5.1-.6.3,.4.2-.5.1,.4 0-.3.1,.4.1-.2.1,.2.2-.1.1-.9.2,.9 0-.2.3,.1.1-.3.1,.4 0-.6.1,.4.1-.3.1,.3.1-.3 0,.2.2-.4.1,.5.2-.7.2,.7.1-.9 0,.6.2-.4 0,.6.1-.9.1,.7.1-.7.1,.4.1-.3.1,.1.1-.1.2,0 0-.4.1,.2.1-.2.1,.2 0-.2.1,.3.1-.3.1,.3.1-.5.1,.4.1-1.1.1,.8.1-.5 0,.2.2-.1.1-.6.1,.5.2-.5.1,.3 0-.3.1,.4.1-.8.1,.5.1-.2 0,.2.3-.8 0,.4.3-.5.2,.2.1-.3.1,.2.1-.2.1,.2.1-.6.1,.4.3-.8.2,.4.1-.3.1,.1.1-.4.1,.7.2-.6.2,.4 0-.5.3,.6 0-.7.1,.7.1-.5 0,.1.2-.1.1,.4.1-.5 0,.4.1-.5.1,.5.3-.3 0,.3.1-.4.1,.3.1-.3.1,.8.3-1.1.1,.8 0-.3.3,.6.1-.4.1,.4 0-.2.1,.4.1-.3.3,.1 0,.3.1-.2.2,.4.1-.3.2,.5 0-.4.1,.7.2-.4.2,.6.1-.6.1,.5.2,0 .1-.2.3,.9.2-.6 0,.7.1-.7.3,.7.4-.4 0,.7.2-.7.1,.7.1-.3 0,.4.2-.5.1,.4.1-.2.1,.3 0-.2.1,.3.1-.2 0,.4.2-.4.1,.7.2-.7.2,.8.2-.5.2,.2 0-.2.1,.2 0-.4.1,.4.1-.2 0,.2.1-.2.1,.4.2-.3.3,.3.1-.2.1,.3 0-.7.2,.5.1-.3.2,.6.3-.7.1,.8 0-.6.1,.3.2-.6.2,.5 0-.4.1,.2.1-.2 0,.2.1-.5.1,.4.1-.5.1,.6.1-.4.1,.3.3-.6.2,.6.1-.5 0,.3.1-.3.2-.1 0,.2.1-.7.1,.5.1-.5.1,.6 0-.7.1,.5.2-.4.1,.4.2-.5.1,.3.1-.6.2,.5.1-.4.1,.3.2-1 .1,.6.1-.4.1,.4 0-.5.1,.3.3-.6.1,.2.2-.5.1,.7 0-.7.2,.3.2-.6.2,.6.1-.4 0,.2.4-.8.2,.5.1-.6.1,.4.1-.3.1,.4.1-.4.1,.5.2-.5.2-.1 0,.2.1-.2 0,.4.1-.4 0,.3.2-.4.2,.5.1-.6.2,.7.2-.6.1,.4.2,.2.1-.2.2,.4.2-.4.3,.6.1-.3.1,.3.2-.4 0,.5.1-.5.1,.8.1-.5.2,.3.1-.4.2,1 .1-.5.4,.9 0-.7.1,.6.2-.6.1,.6.1-.3 0,.3.1-.2.1,.6.1-.5.2,.6 0-.3.1,.8 0-.7.1-.1.1,.5.1-.2.1,.2.1-.7 0,.8.2-.5.1,.6 0-.4.1,.5.1-.6.1,.9.4-.4.1,.3.1-.3.4,.7.1-.8.1,.8.2-.7.3,.8.1-.7.1,.6.1-.4.1,.4 0-.4.1,.4 0-.3.1,.3.2-.3.1,.8.3-1.1 0,.5.1-.5 0,.5.1-.3.1,.6 0-.7.1,.6 0-.2.2,.2.1-.6 0,.6.1-.5.2,0 .1,.5.2-.7.2,.7.1-.8.2,.6.1-.4 0,.3.3-.8.1,.7.2-.4 0,.2.1-.4.1,.4.1-.3.1,.2 0-.5.3,.5.1-.6.1,.5.1-.4.1,.2.1-.3 0,.4.2-.5.1,.3.3-.5.2,.4 0-.5.2,.3 0-.4.2,.3.1-.3.2,0 .1,.4.1-.6.3,.3.2-.8.3,.4.2-.4.1,.2 0-.3.1,.3.1-.3.1,.2 0-.3.2,.4 0-.6.1,.5 0-.5.2,.6.1-.5.1,.3.1-.3.1,.3.2-.3.1,.5 0-.7.1,.6.2-.5.1,.3.1-.3.2,.4.1-.3.1,.6 0-.3.3,0 0-.2.2,.4.1-.3.1,.1.1-.2.1,.6.1-.5.1,.3.1-.2.1,.3.1-.2 0,.2.1-.2 0,.4.1-.2 0,.3.1-.4.1,.5.1-.4.1,.4.1-.4.1,.7.1-.3.1,.4 0-.4.3,.2 0-.3.1,.4.1-.3.3,.8.1-.4.1,.3.1-.3.1,.5.3-.2.1,.4.1-.6.1,.5.2-.2 0,.6.1-.4.2,.1.1,.3.1-.2.1,.2.1-.3.2,.2.1-.2.1,.5.1-.3.1,.2.1-.3 0,.4.1-.2.1,.3 0-.4.3,.6 0-.3.3,.4.1-.7 0,.4.2-.3.1,.4.1-.1.1,.2.1-.5.2,.7.1-.8.2,.3 0-.3.1,.8.1-.7 0,.2.2-.1 0,.4.3-.6.1,.4.2-.4.2,.4 0-.5.1,.6.1-.6.1,.5.1-.7.1,.5.1-.5.1,.4.2-.3 0,.3.2-.5.2,.4 0-.4.1,.4.1-.5 0,.5.2-.6.2,.3 0-.5.3,.5.2-.6.1,.3.1-.4.2,.6.2-.7.1,.5.1-.6.2,.5.1-.4.2,0 0-.4.2,.2 0-.2.1,.4.1-.3.1,.4.1-.6.1,.4.2-.5.2,.4.1-.5.1,.5.2-.5.1,.5.1-.6.1,.4.1-.4.3,.2.1-.2.1,.2.2-.4.1,.2.1-.1.1,.5.1-.9.1,.7 0-.6.3,.5.1-.4 0,.3.1-.3.2,.1.1-.3.1,.6 0-.4.2,.6.1-.9.1,.9.2-.6 0,.5.2-.5.1,.7.2-.5.1,.6.1-.5.1,.4.1-.6.1,.6.1-.2.1,.2 0-.4.2,.2 0-.3.1,.5 0-.3.3,.5.1-.4 0,.6.1-.7 0,.6.1-.4 0,.4.1-.4.1,.3 0-.1.3,.2 0-.3.2,.5.1-.2.2,.2.1-.2 0,.4.2-.3.3,.4.1-.3.2,.7.1-1 .1,.6.1-.1.2,.4.1-.4.1,.4.1-.6.2,1 0-.7.3,.6 0-.4.2,.3.1-.3.2,.7.1-.7.1,.2.2-.1 0,.4.1-.3 0,.5.1-.9.2,.6.1-.3.1,.3.1-.3.1,.5.1-.4.2,.2.2-.4 0,.4.2-.4.1,.6.2-.6 0,.5.2-.7.1,.7.1-.3.1,.2.3-.3.2,.3.1-.6.1,.3.1-.1.2,.2.1-.2.1,.2.1-.4.1,.2 0-.5.1,.5.1-.4.1,.5.2-.4 0,.3.2-.6 0,.3.1-.1.2,.4.3-.7.1,.6 0-.6.2,.5.2-.6 0,.5.1-.5.1,.5.3-.5 0,.4.1-.6.2,.4.1-.2.1,.3.1-.3.1,.3.2-.6.1,.5.1-.5.1,.5.2-.4.1,.2.1-.5.2,.1.1,.4.2-.6.1,.4 0-.4.2,.4.4-.6.1,.3.1-.4.1,.5.2-.6 0,.6.1-.4 0,.2.2-.2.1,.3.3-.5.1,.6 0-.5.1,.3.1-.4.1,.3 0-.5.1,.8.2-.6 0,.4.2-.3.1,.5.1-.5 0,.4.1-.3.1,.2.1-.2.2,.3.2-.4.1,.9.1-.8.2,.4.1-.4.2,.6 0-.5.1-.1.2,.5.1-.5 0,.5.2-.2 0,.3.1-.4.1,.2 0-.1.1,.4.1-.5.1,.5.1,.1.1-.4 0,.4.2-.5.3,.7 0-.3.2,.3.1-.5 0,.3.2-.1.1,.3 0-.2.1,.3.3-.1.2,.2.1-.3.1,.6 0-.5.1,.1.1,.6.2-.6.1,.4.1-.2.2,.2.1-.3 0,.5.4-.7.1,.8.1-.8 0,.5.2,.1 0-.3.1,.4.2-.2.3,.4 0-.3.1,.3.1-.6.3,.6.1-.5.3,.7.1-.6.1,.3 0-.4.3,.6.2-.7 0,.7.1-.5.1,.6.2-.9 0,.5.2,.2.1-.3.1,.5.1-.5.1,.2.1-.4 0,.8.1-.7 0,.3.2-.3 0,.5.1-.6 0,.4.1-.4 0,.3.1-.6 0,.8.2-.6.1,.8.3-.6.1,.7.1-.8.2,.2.2-.4.1,.8.2-.9.1,.5.1-.2.1,.2.1-.4.2-.1 0,.6.1-.3 0,.1.4-.5 0,.6.2-.5.1,.6 0-.6.1,.2.1-.3.1,.4.2-.4 0,.4.2-.4.2,.2.1-.2.1,.3.1-.3.1,.2.2-.6 0,.6.3-.6.1,.4.2-.3 0,.3.1-.4.1,.3.2-.1 0,.3.1-.3.1,.3.1-.5.2,.5 0-.3.1,.1.2-.4.1,.4.2-.6.1,.5.2-.3.1,.2.1-.4 0,.3.1-.2.3,.5.1-.5.1,.4.1-.3.1,.3.1-.4.3,.8.1-1 0,.8.1-.7.2,.4 0-.3.1,.5.1-.3.2,.1 0-.4.2,.6.1-.4.2,.6.1-.6.1,.5.1-.5.1,.5.1-.3 0,.3.2-.2.1,.4.2-.3.1,.5.1-.7 0,.4.1-.2.2,.4.1-.4 0,.4.1-.4.1,.4.1-.3.2,.3.1-.3.1,.8 0-.5.3,.1.2,.3.2-.5.1,.4.2-.5.2,.6.1-.5.2,.7.1-.6.1,.5.1-.3.1,.4.1-.4.1,.6.2-.6.2,.2 0-.2.1,.3.1-.2.1,.4.2-.7.2,.8.2-.7.3,.7.1-.3.2,.1 0-.5.1,.6 0-.5.3,.6.1-.5.1,.6.3-.7.1,.5.1-.1 0-.5.2,.6 0-.4.1,.3.1-.4.2,.4.2-.4.2,.2.1-.3.1,.5.1-.5 0,.3.2-.3.2,.3.3-.6 0,.5.1-.3.1,.4 0-.6.1,.6.1-.6.1,.7.2-.6.1,.2 0-.1.1,.4.1-.7.2,.6.2-.6.1,.6.1-.5.1,.1.1-.2.1,.3.2-.2.1,.3.1-.4.1,.3.2-.3.1,.3 0-.5.1,.3.1-.3 0,.6.1-.6.1,.2.1-.3.1,.2.1-.3.2,.5 0-.6.1,.4.1-.2.1,.3.1-.4.2,.2.1-.2.1,.2 0-.4.2,.6.1-.5.1,.6.1-.9.2,.5.3-.3 0,.3.1-.4.1,.5.2-.4.1,.3 0-.5.3,.7.1-.2.2,.2.2-.6.1,.4.2-.3 0,.3.1-.4.1,.5.1,.1.1-.2.1,.1 0-.3.2,.5.1-.7.1,.6.3-.5.3,.6.2-.4.3,.4 0-.2.1,.3.2-.5 0,.7.1-.7.2,.7.1-.5.2,.5.1-.6.2,.5.1-.3 0,.5.1-.3.1,.4.2-.7.2,.5.1-.3.1,.1.1,.6 0-.6.3,.4.2-.5.2,.4.1-.4.1,.4.2-.6.1,.7.1-.4.1,.2 0-.3.1,.5.1-.4 0,.6.1-.5.1,.4.1-.6.1,.4.2-.3.1,.4.1-.2.1,.2 0-.4.1,.7.2-.8.2,.5.1-.4.1,.3.1-.5.4,.7.1-.6.1,.2.1-.2.2,.4.1-.2.4,0 .1,.1.2-.1.1,.2 0-.4.1,.5.3-.6 0,.6.1-.5.1,.5.1-.5.1,.4 0-.4.1,.5 0-.5.2,.2.1-.2.1,.5.3-.8.2,.5.2-.4 0,.3.1-.3.2,.3.1-.4.2,.4 0-.2.2,.2.3-.4 0,.6.1-.6.1,.5.1-.4.1,.4 0-.5.2,.3.1-.3.1,.3.1-.5.1,.4.1-.5.2,.4.1-.3.2,.5.1-.6.1,.4.1-.4 0,.5.3-.3.2,.2.1-.2.2,.4 0-.2.1,.4.1-.7 0,.4.2-.3.2,.4 0-.4.2-.1.1,.4.2-.4.1,.4.1-.4 0,.3.2-.2 0,.3.1-.6 0,.7.2-.5 0,.5.1-.4.1,.4.2-.4.1,.5.1-.7.1,.6.1-.4 0,.3.2-.3.3,.5.1-.5.1,.5.3-.3.1,.4.1-.4.2,.2 0-.4.3,.8.1-.7 0,.7.2-.6.1,.3.3-.3 0,.4.1-.4 0,.5.2-.6.1,.4.1-.4.1,.7.1-.3.2,.3.1-.5.2,.5 0-.8.1,.7 0-.3.1,.4.1-.4.1,.4.1-.1.1-.3.2,.8.1-.6 0,.4.1-.2.1,.2.2-.4.1,.5.1-.6.1,.6.1-.8.1,.5 0-.2.1,.4 0-.4.1,.5.4-.4 0,.3.1-.3.1,.3.1-.5.2,.5.1-.5.2,.7.2-.9 0,.6.1-.1.1,.1 0-.4.2,.5.2-.4.1,.3.3-.2 0,.2.1-.2 0,.4.2-.8.1,.4 0-.4.2,.9.1-.6.1,.4.3-.9.2,.6.2-.5.2,.8 0-.4.1,.6.1-.7.1,.3.1-.2.1,.3 0-.2.1,.3.2-.5.3,.2 0-.3.2,.5.3-.7.1,.5.1-.4.1,.5.2-.5 0,.4.2-.3 0,.5.1-1 .1,.7.2-.4.2,.4.1-.5.1,.3.1-.3.1,.8.2-.6.1,.3 0-.3.1,.2 0-.4.2,.4.1-.3.1,.4.2-.4.1,.4 0-.3.3,.2.1-.4.1,.4.1-.5 0,.6.1-.6.1,.3.1-.2 0,.5.2-.5.1,.7.1-.6 0,.4.1-.4.1,.4.1-.5.1,.5 0-.4.2,.3.1-.4 0,.4.2-.4.1,.4.1-.8.1,.7.2,.2.1-.5 0,.5.1-.6 0,.5.2-.1.1,.2.2-.5.1,.5.1-.3.2,.3.2-.3.1,.4.1-.4 0,.4.2-.4.1,.4.1-.7.2,.7.2-.4 0,.2.1-.4.1,.5.1-.4.1,.5.1-.3.1,.5 0-.4.1,.3.1-.4 0,.3.2-.3.1,.3.1-.2 0,.2.1-.3 0,.3.3-.4 0,.5.1-.6.2,.5.1-.2.1,.3 0-.3.2,.6 0-.5.2,.4.1-.5.1,.5.1-.6.1,.4.1-.3.1,.7.2-.8 0,.5.1-.3 0,.2.2-.2 0,.3.2-.5 0,.7.1-.4.1,.5.3-.5 0,.8.1-.9.1,.3.1-.3 0,.7.1-.7.1,.2.1-.3 0,.4.3-.5 0,.5.1-.3 0,.5.1-.5.1,.6.3-.7.1,.5.1-.3.1,.3 0-.4.1,.4.1-.3.1,.5 0-.5.1,.4.2-.4 0,.5.1-.7.1,.3.1-.1.1,.3.1-.3.1,.2.1-.2.1,.2 0-.4.1,.5.1-.7.1,.9 0-.5.2,.4.3-.5.1,.5.1-.5 0,.5.2-.7.3,.3.1-.3.1,.4.2-.5 0,.4.1-.1.1,.3.1-.3 0,.4.2-.7.2,.6.1-.6.1,.4.1-.4.2,.4 0-.3.2,.2.1-.4.1,.4.1-.2 0,.5.2-.6.1,.4.1-.6.1,.5.1-.6.2,.9.2-1 0,.8.1-.4.1,.4.1-.6.1,.4 0-.4.2,.5.2-.6.2,.4.1-.4.1,.5 0-.5.1,.3.1-.2 0,.5.2-.7.1,.5.1-.4.1,.5.4-.6.1,.6.2-.8.1,.6.2-.1.1-.3.1,.4.1-.5 0,.6.1-.4.2,.4.1-.6.1,.6.2-.4.1,.5 0-.4.2,.3.1-.5.1,.5.1-.4.1,.5.1-.5.2,.4.1-.5.3,.5.1-.4.1,.4 0-.2.1,.2.1-.2.1,.6.1-.7.2,.4.1-.4.2,.5.2-.5.2,.7.1-.8.1,.4.1-.3.1,.4.1-.3.2,.3.2-.2.1,.3.2-.6.2,.6.1-.4.1,.6 0-.6.2,.5.1-.4.1,.3.2-.3 0,.4.3-.4 0,.5.1-.7.1,1 .2-1 .1,.6.1-.6 0,.7.1-.5.2,.5.2-.4.1,.4.1-.4.3,.7.3-.9.3,.6.1-.3 0,.6.2-.7.1,.2.1-.1 0,.2.1-.2 0,.4.1-.3 0,.3.2-.4 0,.7.3-.9.1,.9 0-.8.3,.6.1-.3 0,.1.1-.2.1,.3.1-.3 0,.4.1-.7.2,.7.2-.6.3,.5.1-.5 0,.5.1-.3.3,.6.1-.8.1,.7.2-.6.2,.7.1-.8.1,.3.4-.4.1,.7.1-.8.1,.3.1-.5 0,.8.1-.4.1,.3 0-.3.1,.3.1-.7.1,.5.1-.3.2,.3 0-.2.1,.3.2-.6.1,.2.1-.1.1,.6 0-.6.2,.8 0-1.1.1,.5.1,.1 0-.2.1,.1 0,.7.1-.8.1,.4.1-.4.1,.7 0-.8.2,.6.2-.7 0,.4.1-.4.1,.6.1-.4.1,.3.2-.5.2,.4.1-.6 0,.6.1-.3.1,.3.2-.6 0,.3.1-.2.2,.1 0,.4.1-.5.1,.3.1-.4 0,.4.1-.3.2,.5.2-.5.1,.7.1-.6.2,.6 0-.5.1,.3.1-.5.2,.4.3-.4 0,.2.1-.1.3,.4 0-.8.3,1.1.1-.8.1,.6 0-.4.2,.5.2-.6.1,.4.1-.4.1,.7.2-.5.2,.5 0-.5.1,.3 0-.4.1,.4 0-.4.2,.8.1-.6 0,.3.1-.4.1,.4.1-.6.2,.8.2-.4.1,.4.1-.5.3,.5 0-.3.1,.3.1-.4 0,.4.2,.2 0-.3.1,.3.2-.5.1,.3.1-.4.1,.6 0-.7.2,.5.1-.6.1,.9 0-.4.1,.3.2-.6 0,.4.1-.2.1,.3 0-.3.1,.3.1-.1 0,.1.2-.6 0,.6.1-.4.1,.6.2-.5.1,.5.1-.5.1,.3.1-.3.1,.3 0-.3.1,.5.1-.4.1,.4.2-.3.2,.4 0-.4.1,.5.1-.6.1,.6.1-.9.2,.7 0-.5.1,.3.2-.4.3,.5 0-.6.2,.7.2-.4 0,.6.3-1 .1,.6 0-.4.1,.4.1-.5.2,.7 0-.2.1,.2.1-.5 0,.4.1-.5.3,.5.2-.6.1,.6.1-.5.2,.3.1-.2 0,.3.1-.4.2,.4.1-.7.1,.6.1-.6.1,.5.1-.4.1,.4.2-.4.3,.5.1-.3.1,.1.1-.6.1,.6.2-.2.1,.3.1-.3 0,.4.1-.8.3,.4.1-.2.1,.2.1-.4.1,.6.2-.4.2,.5.2-.6.1,.3.1-.1.1,.3 0-.3.2,.2.2-.6 0,.5.1-.2.2,.2 0-.3.1,.4 0-.6.1,.6.1-.5.1,.8 0-.7.2,.5 0-.8.1,.8 0-.6.1,.5.2-.6.2,.5.1-.2.1,.2.1-.3.1,.4.1-.3.1,.7 0-.7.1,.3 0-.4.1,.5.1-.8.1,.9.1-.5.1,.4.1-.6 0,.7.1-.4 0,.4.2-.4.2,.6.4-.6.2,.5 0-.6.1,.5.1-.5.1,.5.3-.5.2,.5.1-.2.1,.4.1-.5.2,.4.2-.7.1,.8 0-.8.1,.9.1-.6.1,.3 0-.2.1,.3.2,0 0-.6.2,.3 0-.3.2,.8.1-.4.1,.3 0-.2.2,.3 0-.3.2,.3 0-.6.2,.5 0-.3.1,.2 0-.1.1,.5.1-.7.4,.6.1-.4 0,.4.1-.6.1,.5.1-.6.3,.8.1-.8.1,.7.2-.8.3,.8.2-.6.1,.6.2-.5.1,.4.2-.4.1,.2.1-.2.2,.3.1-.5.1,.5.2-.6.2,.6.1-.7 0,.7.1-.3 0,.3.1-.3.1,.3 0-.5.2,.4.1-.4.1,.3.1-.5 0,.3.2-.2.1,.6.1-.4.1,.3 0-.3.3,.3 0-.6.1,.5.1-.5.2,.6.2-.5.1,.4.1-.8.4,.8.1-.4.1,.3 0-.4.3,.4.2-.5.1,.4.1-.4.1,.2.1-.4.2,.6.1-.5.1,.6.1-.6.2,.7 0-.6.1,.4.1-.4.1,.3 0-.2.2,.2 0-.4.1,.6 0-.5.1,.3.1-.4 0,.5.1-.5 0,.3.2-.3 0,.3.1-.2.1,.2.2-.7.1,.8.1-.2 0,.3.1-.4.1,.4 0-.8.1,.9.1-.8.1,.8.1-.3 0,.2.1-.3.1,.2 0-.4.1,.4 0-.2.2,.3.1-.6.2,.8 0-.6.1,.3.2-.2.3,.4 0-.4.1,.3.3-.3 0,.3.1-.5.2,.8.3-.8 0,.4.2-.2.1,.3 0-.2.1,.4.1-.5.1,.5.1-.5.2,.4.1-.5.2,.4 0-.5.1,.8.4-.7.2,.5 0-.4.1,.7.3-.6.2,.6.2-.4.1,.4.2-.7.1,.5 0-.4.1,.3.1-.2.1,.6.1-.7.1,.4.1-.4.1,.8.1-.7.2,.4 0-.3.1,.4.1-.6.2,.7.1-.5.2,.2.1-.2.1,.3.1-.1.1,.3 0-.6.1,.6 0-.6.3,.5.1-.4.1,.5.1-.7.3,.6.2-.7.1,.4 0-.1.1,.2.1-.4.1,.3 0-.2.1,.4.1-.2.1,.2.2-.4 0,.4.1-.5.1,.2.1-.2.1,.7.1-.6.2,.2.1-.1 0,.3.1-.5.1,.4.1-.4.2,.7.2-.7.3,.6.1-.3.3,.2.1-.5.2,.8.1-.7.1,.5.2-.6.2,.3.1-.4.1,.7 0-.5.1,.1.1-.2 0,.4.2-.4.2,.5.1-.5.1,.5.1-.6.2,.5.3-.4 0,.4.1-.7.1,.5.1-.3 0,.4.1-.4.1,.3.2-.4 0,.4.1-.6.1,.7.1-.7.2,.7.3-.6.2,.8.1-1 .1,.6 0-.4.3,.2.1-.2 0,.7.2-.8.2,.5 0-.4.2,.6.1-.7.2,.4 0-.6.2,.7.1,0 .1-.5 0,.4.1-.2.1,.3.1-.3.1,.4.1-.3.1,.3 0-.4.1,.4.2-.7.2,.9.1-.9.3,.8 0-.8.1,.5.2,.2.1-.2 0,.3.2-.6.2,.6.1-.5.1,.5.1-.2.2,.3 0-.5.1,.6.3-.6.2,.4.1-.6.3,.9.2-.5.3,.5 0-.4.1,.2.1-.2.1,.5.2-.7.1,.5.1-.5.1,.4.1-.1.2,.3.2-.3.1,.3.1-.4.2,.6.1-.5 0,.6.1-.8.2,.5.1-.4.1,.4.2-.4.2,.6 0-.5.2,.5.1-.4 0,.6.1-.9.2,.6.2-.4.2,.5 0-.4.1,.4.3-.6.1,.7.1-.8.1,.5 0-.3.2,.5.3-.6.1,.6.1-.5.1,.4.2-.5.2,.6.1-.5.1,.4.1-.3 0,.4.1-.6.1,.5.1-.5.1,.4 0-.6.1,.7.1-.2.1,.2 0-.6.1,.7.1-.4.2,.2.1-.2.1,.3.1-.5 0,.1.1-.1.2,.4.1-.7.1,.9 0-.7.1,.4.1-.1.1,.2.1-.7.2,.4.1,.6.2-1 .3,.8.2-.6.1,.3 0-.3.2,.2 0-.6.1,.5.1-.4.2,.4.1-.3 0,.3.1-.3.1,.3.2-.3.1,.3.2-.5 0,.5.1-.4.2,.4.2-.2 0,.6.2-1 .1,.5.1-.5.1,.7.2-.6.3,.5.4-.5.1,.3.2-.3.1,.4 0-.3.1,.4.1-.5 0,.4.1-.4.1,.2.1-.1.1,.4.2-.4 0,.5.1-.5.2,.3.1-.5.1,.5.3-.5.1,.8.3-.6 0,.4.2-.3.1,.5 0-.6.1,.4.1-.4.1,.6.1-.4.1,.3.1-.2.2,0 .1-.4.2,.5.1-.4.1,.4 0-.4.1,.1.1,.6.1-.7.2,.7.1-.6 0,.3.1-.3.1,.5.1-.3.3,.5 0-.4.2,.2.1-.3.1,.5.1-.3.2,.4 0-.7.1,.5 0-.2.1,.3.2,0 0-.3.1,.4.1-.5.2,.4.1-.3.3,.3 0-.3.1,.4.1-.5 0,.4.1-.4.2,.4.1,.1 0-.3.1,.2.1-.2 0,.3.1-.4.1-.1.3,.5 0-.4.1,.2.1-.2.1,.7.2-.6.2,.4.1-.4.1,.3.1-.3.1,.4.1-.7.2,.6.2-.5.1,.3.2-.2.2,.3.2-.7.1,.9.1-.6.1,.4.1-.3.2,.3.1-.2.1,.3 0-.6.1,.5.3-.5 0,.5.1-.5 0,.6.2-1 .1,1 .2-.8.2,.6.1-.3.1,.6 0-.6.2,0 0,.4.1-.5 0,.5.1-.8.1,.6.2-.7.2,.7.2-.6.2,.3.1-.2.1,.4 0-.3.2,.2 0-.7.1,.6.1-.3.1,.7.2-.7.2,.3 0-.2.1,.5.2-.7.1,.5.2-.4 0,.3.1-.3.1,.3.1-.4.1,.5.1-.4.2,.5.1-.7.1,.4.1-.4 0,.2.1-.1.1,.2.1-.1.1,.4.1-.4.2,.3.1-.4 0,.8.2-1 .3,.7.1-.5.2,.4 0-.6.1,.6.2-.3.1,.1.1-.3.1,.6.1-.6.1,.4.1-.2.1,.4.1-.6.1,.5.2-.4.1,.7.1-.7.1,.4.1-.4.1,.4.2-.3.1,.6 0-.7.2,.4.1-.3.1,.4.1-.4.2,.7.2-.5.1,.4.3-.5.3,.6.2-.6.2,.5.1-.5 0,.7.1-.6.1,.3.2,0 .1,.6.1-.6.1-.2.1,.2.2-.3.1,.5.1-.5.2,.6.2-.6 0,.5.2-.3 0,.2.2-.2.1,.3.1-.4.1,.6 0-.4.2,.4.1-.4.1,.3.3-.3 0,.3.1-.4.4,.4.2-.4.1,.2.1-.2.1,.3.2-.2 0,.4.2-.5.1,.5.1-.7.2,.6.2-.7.1,.6 0-.3.2,.4.1-.4.1,.6.2-.6.1,.3 0-.3.1,.4.3-.5 0,.5.2-.6.1,.5.1-.5.2,.4 0-.5.2,.7.3-.7.1,.6.1-.2.1,.2 0-.6.1,.5 0-.3.1,.3.1-.5 0,.3.2-.2 0,.2.1-.2 0,.3.1-.2.1,.1.2-.3 0,.4.1-.3.2,.3 0-.3.1,.4.1-.8.1,.6.1-.2.1,.2.1-.4.2,.2.1-.4.2,.5.1-.4.1,.6.1-.7.1,.7.1-.4.3,.3 0-.4.2,.2.1-.2 0,.3.2-.4 0,.7.1-.5.1,.2.1-.3.1,.5.1-.4 0,.3.1-.4.1,0 .1,.6.1-.6 0,.9.1-.9.1,.3.1-.2.1,.5.2-.6.2,.4 0-.3.1,.2.1-.2.1,.3 0-.3.1,.3.2-.2.1,.5 0-.4.1,.3.1-.3.1,.3.1-.5.1,.4 0-.3.3,.4 0-.5.1,.8 0-.5.1,.1.2-.3.1,.2 0-.2.1,.4 0-.5.2,.6.1-.8.1,.8.2-.4.1,.1.1-.3.2,.4.2-.1.1,.4.1-.5 0,.4.1-.3.2,.2.1-.5.3,.9.1-.7.1,.5.3-.5 0,.5.1-.4.1,.5 0-.5.2,.3.1-.2.1,.3.3-.4.2,.7 0-.9.1,.6 0-.2.2,.2.1-.3 0,.5.2-.3 0,.5.2-.6 0,.4.1-.4 0,.3.1-.3.1,.5.1-.2 0,.2.1-.7.2,.5 0-.4.1,.4.1-.3.1,.3.2-.6.1,.6 0-.4.1,.4.1-.5.2,.7 0-.4.1-.1.1,.2.2-.4.1,.4.2-.4.3,.4.2-.5.1,.5.1-.7.1,.5.1-.2.1,.3 0-.2.1,.2.1-.4 0,.3.2-.2 0,.2.3-.1.1,.2 0-.4.2,.4.3-.2 0,.4.1-.6.1,.4.1-.4.1,.7.2-.9.2,.7 0-.4.1,.3.1-.4.1,.3 0-.3.1,.4.3-.5.1,.5.2-.7.1,.7.1-.4.2,.4.1-.7.1,.5.2-.4 0,.4.1-.5.2,.6.1-.4.2,.3 0-.4.1,.3.2-.5.1,.6.1-.5.1,.3 0-.4.1,.4.1-.5 0,.6.1-.3.3,.3.1-.4.1,.6.2-.7.2,.6.1-.4.1,.5.1-.4.2,.4.1-.4.2,.3.3-.4 0,.3.2-.3.1,.4 0-.4.2,.3.2-.6.1,1 0-.9.1,.5.1-.2.1,.3 0-.3.1,.5.2-.6.1,.4 0-.2.1,.2.1-.3.1,.4.2-.5.3,.3.1-.4.2,.6.2-.5.1,.5 0-.4.4,.4.2-.5 0,.5.2-.2.1,.4.3-.7.1,.4 0-.3.1,.3 0-.2.1,.6.1-.5 0,.3.1-.3.3,.2 0-.3.1,.4.1-.5.2,.5.1-.6.2,.8.1-.6.2,.3.2-.2.1,.3.1-.5.1,.6.2-.4 0,.3.1-.2.1,.2.1-.5.1,.7.1-.5.2,.3.1-.3.1,.2.1-.4.2,.6.1-.3.1,.2 0,.6.1-1.1 0,.6.2-.3 0,.3.1-.1.1-.4.1,.5.1-.4.1,.6.3-.8 0,.5.1-.7.1,.5.2-.3 0,.3.1-.4.1,.4.1-.2.2,.2.1,0 0,.3.1-.7.1,.6.1-.5.2,.5 0-.4.1,.2.1-.2.4,.6.2-.9.1,.3.1-.2 0,.5.1-.4 0,.5.2-.5 0,.4.1-.4.1,.2.1-.3.1,.3.4-.4.1,.3 0-.3.1,.4.2-.5.2,.6.1-.4.1,.3 0-.3.1,.2.1-.3.1,.3 0-.3.2,.5 0-.5.2,.3.1-.3.1,.5.1-.5.3,.4 0-.3.1,.1.2-.2 0,.1.1-.5.1,.6.1-.5.2,.8.2-.5.1,.4.1-.3.2,.4.2-.9.1,.9.1-.4.1,.3.1-.4.1,.3.1-.4.1,.5 0-.6.3,.7.2-.4.3,.2 0-.4.1,.5.2-.3.2,.1.1-.3 0,.3.1-.4.1,.7.3-.4 0,.5.2-.6 0,.4.1-.4.3,.6 0-.6.1,.2.1-.2.2,.5 0-.5.2,.8.1-.4.3,.1 0-.4.1,.5.1-.4.2,.3.1-.4.1,.4.1-.5 0,.5.1-.2 0,.3.1-.4.1,.4.2-.3 0,.3.1-.4.3,.1.1-.2.1,.7.3-.7.2,.8.1-.4.3,.3.1-.3 0,.5.2-.6.2,.4.1-.6.1,.5.1-.4.1,.4 0-.3.1,.2.1-.2.1,.4 0-.7.3,.5.2-.2.1,.2 0-.4.4,.9.1-.8.1,.9.1-.9.1,.6 0-.5.1,.4.1-.4.2,.3 0-.3.1,.4.4-.5.1,.4.1-.4.2,.6.2-.6 0,.5.2-.7 0,.6.1-.5 0,.6.1-.6.1,.4.1-.3.1,.5.2-.7.2,.4 0-.5.2,.9.2-.6.1,.3 0-.3.2,.5.3-.6.1,.7.1-.8.2,.4.1-.4.1,.5.1-.4 0,.5.1-.5.2,.4 0-.6.2,.5 0-.5.2,.7.1-.6.1,.3.2-.1 0,.4.1-.5 0,.2.3-.1.1,.3.1-.5 0,.3.2,0 .1-.4.1,.3.1-.2.2,.3.2-.2.1,.6.3-.7.2,.4 0-.5.1,.4 0-.5.2,.7.2-.8.2,.9.2-.7.2,.5.5-.4.1,.3.1-.5.1,.6.2-.2.1-.3 0,.4.1-.4.1,.6.1-.5.1,.4.1-.6.1,.5.1-.1.1,.3.2-.6.2,.6.2-.5.1,.4 0-.2.2,.2 0-.2.1,.4 0-.4.1,.4.1-.5.1,.4.1-.4.2,.3.1-.4 0,.5.3-.5.2,.6.2-.2.1,.3 0-.6.1,.3.1-.3.1,.8.1-.6.1,.6.1-.7.5,.1.1,.3.1-.6.1,.6.1-.4.1,.3.1-.4.2,.5 0-.4.1,.6.1-.7.2,.6 0-.4.2,.4.2-.8.1,.9.3-.7.3,.7.1-.4 0,.2.1-.3.1,.3.2-.7.1,.8.2-.6.1,.7.1-.4.1,.3.1-.4.1,.4.1-.6.2,.5.1-.6.4,.6.1-.6.1,.5.1-.2.1,.1.1-.3.3,.5.2-.7.4,.8.3-.7 0,.4.2-.2 0,.2.1-.3.1,.6.4-.9 0,.6.2-.4 0,.4.2-.1.1,.1.1-.3.1,.2.2-.1 0,.4.1-.6.3,.7.2-.9.1,.8.1-.3.1,.3 0-.5.1,.6.2-.9.1,.9.2-.8.2,.7.2-.5.2,.3 0-.4.1,.6.2-.7 0,.4.2-.4.1,.7.3-.8.2,.7.3-.7.2,.6.3-.4.1,.3.1-.4.1,.6.3-.8.1,.7.1-.5.1,.6 0-.5.3,.3 0-.5.2,.5.1-.3.1,.5.1-.3.1,.2 0-.3.2,.4.1-.5.2,.2 0-.2.1,.2.1-.2 0,.2.1-.3.1,.3 0-.2.2,.3.2-.5.1,.9.1-.7.1,.5 0-.5.2,.2" fill="none" stroke="#ff33ff" stroke-width="0.9" stroke-linejoin="round" />
<path d="M816.3,44.4H876.5" stroke="#555" stroke-width="1"/>
<path d="M816.3,76.9H876.5" stroke="#a0f0a0" stroke-width="2"/>
<path d="M816.3,109.6H876.5" stroke="#ffb0ff" stroke-width="2"/>
<text x="885.6" y="53.5" text-anchor="start" fill="#000" style="font-size:24px" >1.8 K</text>
<text x="885.2" y="86.0" text-anchor="start" fill="#000" style="font-size:24px" >5 K</text>
<text x="885.6" y="118.6" text-anchor="start" fill="#000" style="font-size:24px" >15 K</text>
<text x="506.8" y="30.6" style="font-size:42px;font-weight:bold">b</text>
<rect x="1112.5" y="17.7" width="412.0" height="320.6" fill="none" stroke="#888" stroke-width="1.3"/>
<path d="M1112.5,338.3v-5M1112.5,17.7v5M1164.0,338.3v-3M1164.0,17.7v3M1215.5,338.3v-5M1215.5,17.7v5M1267.0,338.3v-3M1267.0,17.7v3M1318.5,338.3v-5M1318.5,17.7v5M1370.0,338.3v-3M1370.0,17.7v3M1421.5,338.3v-5M1421.5,17.7v5M1473.0,338.3v-3M1473.0,17.7v3M1524.5,338.3v-5M1524.5,17.7v5M1112.5,311.5h5M1524.5,311.5h-5M1112.5,244.7h3M1524.5,244.7h-3M1112.5,177.9h5M1524.5,177.9h-5M1112.5,111.2h3M1524.5,111.2h-3M1112.5,44.4h5M1524.5,44.4h-5" stroke="#888" stroke-width="1.2" fill="none"/>
<text x="1100.7" y="319.7" text-anchor="end" fill="#000" style="font-size:24px" >0.0</text>
<text x="1100.7" y="186.1" text-anchor="end" fill="#000" style="font-size:24px" >0.5</text>
<text x="1100.7" y="52.6" text-anchor="end" fill="#000" style="font-size:24px" >1.0</text>
<text x="1112.5" y="369.2" text-anchor="middle" fill="#000" style="font-size:24px" >0</text>
<text x="1215.5" y="369.2" text-anchor="middle" fill="#000" style="font-size:24px" >5</text>
<text x="1318.5" y="369.2" text-anchor="middle" fill="#000" style="font-size:24px" >10</text>
<text x="1421.5" y="369.2" text-anchor="middle" fill="#000" style="font-size:24px" >15</text>
<text x="1524.5" y="369.2" text-anchor="middle" fill="#000" style="font-size:24px" >20</text>
<text x="1319.8" y="411.8" text-anchor="middle" style="font-size:24px"><tspan style="font-style:italic">T</tspan> (K)</text>
<text transform="translate(1041.9,177.6) rotate(-90)" text-anchor="middle" style="font-size:24.9px">FFT (arb. units)</text>
<defs><radialGradient id="sph" cx="0.42" cy="0.40" r="0.62" fx="0.40" fy="0.36">
<stop offset="0" stop-color="#ffffff"/><stop offset="0.22" stop-color="#bbbbbb"/><stop offset="0.45" stop-color="#222"/><stop offset="1" stop-color="#000"/></radialGradient></defs>
<defs><clipPath id="clC"><rect x="1112.5" y="17.7" width="412.0" height="320.6"/></clipPath></defs><g clip-path="url(#clC)">
<circle cx="1149.6" cy="44.4" r="5.1" fill="url(#sph)"/>
<circle cx="1153.7" cy="52.4" r="5.1" fill="url(#sph)"/>
<circle cx="1164.0" cy="76.5" r="5.1" fill="url(#sph)"/>
<circle cx="1174.3" cy="100.5" r="5.1" fill="url(#sph)"/>
<circle cx="1184.6" cy="124.5" r="5.1" fill="url(#sph)"/>
<circle cx="1194.9" cy="148.6" r="5.1" fill="url(#sph)"/>
<circle cx="1205.2" cy="169.9" r="5.1" fill="url(#sph)"/>
<circle cx="1215.5" cy="187.3" r="5.1" fill="url(#sph)"/>
<circle cx="1225.8" cy="203.3" r="5.1" fill="url(#sph)"/>
<circle cx="1236.1" cy="220.7" r="5.1" fill="url(#sph)"/>
<circle cx="1256.7" cy="242.1" r="5.1" fill="url(#sph)"/>
<circle cx="1277.3" cy="260.8" r="5.1" fill="url(#sph)"/>
<circle cx="1297.9" cy="271.4" r="5.1" fill="url(#sph)"/>
<circle cx="1318.5" cy="280.8" r="5.1" fill="url(#sph)"/>
<circle cx="1359.7" cy="295.5" r="5.1" fill="url(#sph)"/>
<circle cx="1421.5" cy="303.5" r="5.1" fill="url(#sph)"/>
<circle cx="1462.7" cy="306.2" r="5.1" fill="url(#sph)"/>
<circle cx="1524.5" cy="307.0" r="5.1" fill="url(#sph)"/>
<polygon points="1149.6,38.2 1151.1,42.3 1155.5,42.5 1152.1,45.2 1153.2,49.4 1149.6,47.0 1145.9,49.4 1147.1,45.2 1143.7,42.5 1148.0,42.3" fill="#00ff00"/>
<polygon points="1153.7,94.3 1155.2,98.4 1159.6,98.6 1156.2,101.3 1157.3,105.5 1153.7,103.1 1150.1,105.5 1151.2,101.3 1147.8,98.6 1152.2,98.4" fill="#00ff00"/>
<polygon points="1164.0,190.4 1165.5,194.5 1169.9,194.7 1166.5,197.5 1167.6,201.7 1164.0,199.3 1160.4,201.7 1161.5,197.5 1158.1,194.7 1162.5,194.5" fill="#00ff00"/>
<polygon points="1174.3,238.5 1175.8,242.6 1180.2,242.8 1176.8,245.5 1177.9,249.7 1174.3,247.3 1170.7,249.7 1171.8,245.5 1168.4,242.8 1172.8,242.6" fill="#00ff00"/>
<polygon points="1184.6,266.6 1186.1,270.7 1190.5,270.9 1187.1,273.6 1188.2,277.8 1184.6,275.4 1181.0,277.8 1182.1,273.6 1178.7,270.9 1183.1,270.7" fill="#00ff00"/>
<polygon points="1194.9,285.3 1196.4,289.4 1200.8,289.6 1197.4,292.3 1198.5,296.5 1194.9,294.1 1191.3,296.5 1192.4,292.3 1189.0,289.6 1193.4,289.4" fill="#00ff00"/>
<polygon points="1205.2,289.8 1206.7,293.9 1211.1,294.1 1207.7,296.8 1208.8,301.0 1205.2,298.6 1201.6,301.0 1202.7,296.8 1199.3,294.1 1203.7,293.9" fill="#00ff00"/>
<polygon points="1215.5,300.0 1217.0,304.1 1221.4,304.2 1218.0,307.0 1219.1,311.2 1215.5,308.8 1211.9,311.2 1213.0,307.0 1209.6,304.2 1214.0,304.1" fill="#00ff00"/>
<path d="M1149.6,39.1L1155.4,49.6L1143.8,49.6Z" fill="#0000ff"/>
<path d="M1153.7,68.5L1159.5,79.0L1147.9,79.0Z" fill="#0000ff"/>
<path d="M1164.0,131.3L1169.8,141.8L1158.2,141.8Z" fill="#0000ff"/>
<path d="M1174.3,178.0L1180.1,188.5L1168.5,188.5Z" fill="#0000ff"/>
<path d="M1184.6,212.8L1190.4,223.3L1178.8,223.3Z" fill="#0000ff"/>
<path d="M1194.9,236.8L1200.7,247.3L1189.1,247.3Z" fill="#0000ff"/>
<path d="M1205.2,256.8L1211.0,267.3L1199.4,267.3Z" fill="#0000ff"/>
<path d="M1215.5,268.9L1221.3,279.4L1209.7,279.4Z" fill="#0000ff"/>
<path d="M1225.8,279.5L1231.6,290.0L1220.0,290.0Z" fill="#0000ff"/>
<path d="M1236.1,286.2L1241.9,296.7L1230.3,296.7Z" fill="#0000ff"/>
<path d="M1256.7,294.2L1262.5,304.7L1250.9,304.7Z" fill="#0000ff"/>
<path d="M1277.3,298.2L1283.1,308.7L1271.5,308.7Z" fill="#0000ff"/>
<path d="M1297.9,300.9L1303.7,311.4L1292.1,311.4Z" fill="#0000ff"/>
<path d="M1318.5,302.2L1324.3,312.7L1312.7,312.7Z" fill="#0000ff"/>
<path d="M1359.7,304.1L1365.5,314.6L1353.9,314.6Z" fill="#0000ff"/>
<polygon points="1149.6,50.0 1144.7,47.2 1144.7,41.6 1149.6,38.8 1154.4,41.6 1154.4,47.2" fill="#7f7f00"/>
<polygon points="1153.7,84.7 1148.9,81.9 1148.9,76.3 1153.7,73.5 1158.5,76.3 1158.5,81.9" fill="#7f7f00"/>
<polygon points="1164.0,164.9 1159.2,162.1 1159.2,156.5 1164.0,153.7 1168.8,156.5 1168.8,162.1" fill="#7f7f00"/>
<polygon points="1174.3,218.3 1169.5,215.5 1169.5,209.9 1174.3,207.1 1179.1,209.9 1179.1,215.5" fill="#7f7f00"/>
<polygon points="1184.6,250.3 1179.8,247.5 1179.8,241.9 1184.6,239.1 1189.4,241.9 1189.4,247.5" fill="#7f7f00"/>
<polygon points="1194.9,275.7 1190.1,272.9 1190.1,267.3 1194.9,264.5 1199.7,267.3 1199.7,272.9" fill="#7f7f00"/>
<polygon points="1205.2,286.4 1200.4,283.6 1200.4,278.0 1205.2,275.2 1210.0,278.0 1210.0,283.6" fill="#7f7f00"/>
<polygon points="1215.5,297.1 1210.7,294.3 1210.7,288.7 1215.5,285.9 1220.3,288.7 1220.3,294.3" fill="#7f7f00"/>
<polygon points="1225.8,302.4 1221.0,299.6 1221.0,294.0 1225.8,291.2 1230.6,294.0 1230.6,299.6" fill="#7f7f00"/>
<polygon points="1236.1,307.8 1231.3,305.0 1231.3,299.4 1236.1,296.6 1240.9,299.4 1240.9,305.0" fill="#7f7f00"/>
<path d="M1149.6,44.4l3.7,7.1 3.8,7.5 3.8,7.8 3.8,8.1 7.5,16.7 18.8,42.6 5.7,12.4 5.6,12 7.6,15.3 5.6,10.8 5.7,10.3 5.6,9.7 5.7,9.1 3.7,5.8 3.8,5.4 3.8,5.2 3.7,5 3.8,4.7 3.8,4.5 3.8,4.2 3.7,4 3.8,3.8 3.8,3.5 3.7,3.4 3.8,3.2 3.8,2.9 3.7,2.8 3.8,2.7 3.8,2.4 3.7,2.4 5.7,3.2 3.8,1.9 5.6,2.8 3.8,1.6 5.6,2.3 3.8,1.4 5.6,2 5.7,1.7 5.7,1.6 5.6,1.4 5.7,1.3 5.6,1.1 7.5,1.3 5.7,.9 7.5,1.1 13.2,1.4 7.6,.7 9.4,.7 16.9,1 18.9,.8 22.6,.6 26.4,.4 30.1,.3" fill="none" stroke="#ff0000" stroke-width="1.35" stroke-linejoin="round" />
<path d="M1149.6,44.4l4.2,26 4.2,25.1 4.3,23.6 3.1,16.7 4.2,20.8 3.2,14.4 3.2,13.3 2.1,8.4 2.1,7.9 3.2,11 2.1,6.9 2.1,6.4 2.1,6.1 2.1,5.7 2.1,5.3 2.1,5 2.2,4.7 2.1,4.4 2.1,4 2.1,3.8 2.1,3.6 2.1,3.3 2.1,3.1 3.2,4.2 2.1,2.5 2.1,2.4 2.1,2.2 3.2,3 2.1,1.8 3.2,2.5 2.1,1.5 3.2,2 2.1,1.3 3.1,1.6 3.2,1.5 3.2,1.3 3.1,1.2 3.2,1 3.2,.9 4.2,1.1 3.2,.7 4.2,.7 4.2,.7 4.2,.6 8.5,.8 10.5,.8 11.7,.5 13.7,.3 16.9,.3 23.2,.1" fill="none" stroke="#ff0000" stroke-width="1.35" stroke-linejoin="round" />
<path d="M1149.6,44.4l4.3,37.1 3.9,30.5 2.2,15.7 1.8,11.9 2.1,14 2.2,13.1 2.2,12.2 2.1,11.4 2.2,10.6 2.2,9.7 2.2,9 2.1,8.3 2.2,7.6 2.6,8.3 2.2,6.3 2.6,6.9 2.6,6.1 2.6,5.5 2.6,4.9 3.1,5.1 3,4.4 3.1,3.9 3,3.3 3.5,3.3 3.5,2.8 3.4,2.4 4,2.3 3.9,1.8 4.3,1.7 4.8,1.5" fill="none" stroke="#ff0000" stroke-width="1.35" stroke-linejoin="round" />
<path d="M1149.6,44.4l2.6,34.4 3,34.4 1.3,13.9 1.7,16.2 1.3,12 1.7,14.1 1.3,10.4 1.7,12.1 1.6,11 1.7,10.2 1.6,9.3 1.7,8.4 1.6,7.8 2,8.3 1.7,6.3 2,6.8 2,6 1.9,5.4 2,4.7 2.3,4.9 2.4,4.2 2.3,3.7 2.3,3.2 2.7,3.1 2.6,2.6 3,2.4 3,2.1 3.3,1.8 3.6,1.6 4,1.4" fill="none" stroke="#ff0000" stroke-width="1.35" stroke-linejoin="round" />
</g>
<circle cx="1296.4" cy="48.8" r="5.1" fill="url(#sph)"/>
<path d="M1296.4,86.8L1302.2,97.2L1290.6,97.2Z" fill="#0000ff"/>
<polygon points="1296.1,139.3 1291.3,136.5 1291.3,130.9 1296.1,128.1 1300.9,130.9 1300.9,136.5" fill="#7f7f00"/>
<polygon points="1296.1,170.1 1297.6,174.2 1302.0,174.4 1298.6,177.1 1299.7,181.3 1296.1,178.9 1292.5,181.3 1293.6,177.1 1290.2,174.4 1294.6,174.2" fill="#00ff00"/>
<path d="M1266.4,215.1H1326.6" stroke="#ff2020" stroke-width="1.3"/>
<text x="1333.7" y="57.5" style="font-size:24px;font-family:'DejaVu Serif',serif">α<tspan dx="-0.3" dy="8" style="font-size:16.5px;font-family:'Liberation Sans',Arial,Helvetica,sans-serif">1</tspan></text><text x="1366.4" y="57.5" text-anchor="start" fill="#000" style="font-size:24px" >:</text><text x="1381.2" y="57.5" style="font-size:24px;font-style:italic">m</text><text x="1400.0" y="57.0" style="font-size:29px">*</text><text transform="translate(1419.4,57.5) scale(1.15,1)" style="font-size:24px">=</text><text x="1442.8" y="57.5" text-anchor="start" fill="#000" style="font-size:24px" >0.06</text><text x="1491.0" y="57.5" style="font-size:24px;font-style:italic">m</text><text x="1512.3" y="65.5" style="font-size:16.5px">0</text>
<text x="1333.7" y="99.4" style="font-size:24px;font-family:'DejaVu Serif',serif">α<tspan dx="-0.3" dy="8" style="font-size:16.5px;font-family:'Liberation Sans',Arial,Helvetica,sans-serif">2</tspan></text><text x="1366.4" y="99.4" text-anchor="start" fill="#000" style="font-size:24px" >:</text><text x="1381.2" y="99.4" style="font-size:24px;font-style:italic">m</text><text x="1400.0" y="98.9" style="font-size:29px">*</text><text transform="translate(1419.4,99.4) scale(1.15,1)" style="font-size:24px">=</text><text x="1442.8" y="99.4" text-anchor="start" fill="#000" style="font-size:24px" >0.12</text><text x="1491.0" y="99.4" style="font-size:24px;font-style:italic">m</text><text x="1512.3" y="107.4" style="font-size:16.5px">0</text>
<text x="1332.9" y="141.7" style="font-size:24px;font-family:'DejaVu Serif',serif">γ<tspan dx="-2.7" dy="8" style="font-size:16.5px;font-family:'Liberation Sans',Arial,Helvetica,sans-serif">1</tspan></text><text x="1360.9" y="141.7" text-anchor="start" fill="#000" style="font-size:24px" >:</text><text x="1375.7" y="141.7" style="font-size:24px;font-style:italic">m</text><text x="1394.5" y="141.2" style="font-size:29px">*</text><text transform="translate(1413.9,141.7) scale(1.15,1)" style="font-size:24px">=</text><text x="1437.3" y="141.7" text-anchor="start" fill="#000" style="font-size:24px" >0.14</text><text x="1485.5" y="141.7" style="font-size:24px;font-style:italic">m</text><text x="1506.8" y="149.7" style="font-size:16.5px">0</text>
<text x="1332.9" y="184.5" style="font-size:24px;font-family:'DejaVu Serif',serif">γ<tspan dx="-2.7" dy="8" style="font-size:16.5px;font-family:'Liberation Sans',Arial,Helvetica,sans-serif">2</tspan></text><text x="1360.9" y="184.5" text-anchor="start" fill="#000" style="font-size:24px" >:</text><text x="1375.7" y="184.5" style="font-size:24px;font-style:italic">m</text><text x="1394.5" y="184.0" style="font-size:29px">*</text><text transform="translate(1413.9,184.5) scale(1.15,1)" style="font-size:24px">=</text><text x="1437.3" y="184.5" text-anchor="start" fill="#000" style="font-size:24px" >0.19</text><text x="1485.5" y="184.5" style="font-size:24px;font-style:italic">m</text><text x="1506.8" y="192.5" style="font-size:16.5px">0</text>
<text x="1334.2" y="223.4" text-anchor="start" fill="#000" style="font-size:24px" >Fit</text>
<text x="1021.3" y="30.2" style="font-size:42px;font-weight:bold">c</text>
<rect x="101.6" y="474.3" width="831.2" height="329.0" fill="none" stroke="#444" stroke-width="1.3"/>
<path d="M101.6,803.3v-6M101.6,474.3v6M167.2,803.3v-3.5M167.2,474.3v3.5M232.9,803.3v-6M232.9,474.3v6M298.5,803.3v-3.5M298.5,474.3v3.5M364.2,803.3v-6M364.2,474.3v6M429.8,803.3v-3.5M429.8,474.3v3.5M495.4,803.3v-6M495.4,474.3v6M561.1,803.3v-3.5M561.1,474.3v3.5M626.7,803.3v-6M626.7,474.3v6M692.4,803.3v-3.5M692.4,474.3v3.5M758.0,803.3v-6M758.0,474.3v6M823.6,803.3v-3.5M823.6,474.3v3.5M889.3,803.3v-6M889.3,474.3v6M101.6,793.4h6M932.8,793.4h-6M101.6,764.4h3.5M932.8,764.4h-3.5M101.6,735.4h6M932.8,735.4h-6M101.6,706.4h3.5M932.8,706.4h-3.5M101.6,677.4h6M932.8,677.4h-6M101.6,648.4h3.5M932.8,648.4h-3.5M101.6,619.4h6M932.8,619.4h-6M101.6,590.4h3.5M932.8,590.4h-3.5M101.6,561.4h6M932.8,561.4h-6M101.6,532.4h3.5M932.8,532.4h-3.5M101.6,503.4h6M932.8,503.4h-6" stroke="#444" stroke-width="1.2" fill="none"/>
<text x="88.6" y="801.7" text-anchor="end" fill="#000" style="font-size:24px" >0.0</text>
<text x="88.6" y="743.7" text-anchor="end" fill="#000" style="font-size:24px" >0.1</text>
<text x="88.6" y="685.7" text-anchor="end" fill="#000" style="font-size:24px" >0.2</text>
<text x="88.6" y="627.7" text-anchor="end" fill="#000" style="font-size:24px" >0.3</text>
<text x="88.6" y="569.7" text-anchor="end" fill="#000" style="font-size:24px" >0.4</text>
<text x="88.6" y="511.7" text-anchor="end" fill="#000" style="font-size:24px" >0.5</text>
<text x="101.6" y="834.7" text-anchor="middle" fill="#000" style="font-size:24px" >0.0</text>
<text x="232.9" y="834.7" text-anchor="middle" fill="#000" style="font-size:24px" >0.3</text>
<text x="364.2" y="834.7" text-anchor="middle" fill="#000" style="font-size:24px" >0.6</text>
<text x="495.4" y="834.7" text-anchor="middle" fill="#000" style="font-size:24px" >0.9</text>
<text x="626.7" y="834.7" text-anchor="middle" fill="#000" style="font-size:24px" >1.2</text>
<text x="758.0" y="834.7" text-anchor="middle" fill="#000" style="font-size:24px" >1.5</text>
<text x="889.3" y="834.7" text-anchor="middle" fill="#000" style="font-size:24px" >1.8</text>
<text x="517.7" y="872.8" text-anchor="middle" fill="#000" style="font-size:25px" >Frequency (kT)</text>
<text transform="translate(29.9,638.2) rotate(-90)" text-anchor="middle" style="font-size:24.8px">FFT amplitude</text>
<path d="M101.6,779.3l1,10.6.1,1.3.3,.4.4-.8.1,1.1.2-.6.1,0 .2-.4.2,.2.1-.4.2,.7.1-.3.2,.1.2,.8.1-.9.2,.8.1-.9.2,.4.2-.8.3,1.1.1-1.8.4,1.7.3-.5.3,.6.2-.1.1-1 .2,1.2.1-.7.2,.4.3-.2.2,.7.3-.3.2,.6.1-1.1.3,.7.4-.9.3,.8.1-1 .2,.9.2-.6.4,1 .2-.5.2,.4.1-.7.2,.3.1-.5.2,1 .3-.9.2,.7.8-.4.5-1.5.4-10.4.8-53.4.4-6.7.9,58.6.5,11.6.3,1.7.2,.2.3-.8.2,.3.1-.4.2,.9.3-1.2.2,0 .1,1.2.3-1 .2,1.3.3-.8.3,1 .2-.7.2,.6.3-.6.1,.4.4-1 .3,1.1.1-.8.2,.2.2-.3.1,.4.2-.3.1,.6.2-.7.3,.8.2-.8.3-.1.1-.3.2,1.3.2-.5.1,.4.2-.6.3,.7.2-.3.1,.4.3-1.5.5,.8.3-.4.2,.2.2-.4.1,.7.2-.1.3,.7.2-.7.1,.9.2-1.1.3,0 .2-.2.1,.8.2-1.6.1,.8.4-1.3 1.1-8.4.1,1.5.2,0 .5,4.6.6,3.3.3,1 .4-.4.1,.2.5-2.8.3-4.4.7-16.7.4-5.3 1.2,23.7.3,3.8.1-.2.2,1.5.2-.1.1,.3.2-.4.1,.1.2,1.7.3-1.3.2,.9.1-.3.2-1.9.3,1.7.2-.6.3,.6.5-.9.6,1 .3-1.5.4,1.4.1-.7.5,1.3.2-2 .1,1.1.3-4.8.2-6.8.3-30.8 1-244 .1,.5.2,22.2.5,119.7.5,69 1.1,64.6.5,8.9.1,1 .3-.2.4,1.6.1-.7.2,.4.3-.4.2-.7.3,1 .5-1 .1-.1.2,.3.1-.3.4,1.2.1-1.3.2,1 .3-.9.3,0 .7-10.3.6-20.8.3-5.2.3,4.2 1,27.7.2,2.5.6,3.2.3-1.2.2,.5.1-.5.2,.4.2-.5.1,.1.2,1.2.3-1 .2,0 .1,1 .2-.9.1,.6.2-.2.2,.2.4-.9.5,.9.3-1.1.4,1.5.1-1.5.5,1.4.2-.6.1,.6.2-.9.1,.3.4-.8.1,.8.2-1 .1,1.7.2,.1.3-1.3.5,.9.2-.6.1-.1.3,.8.2-.8.2,.8.3-.8.1,.1.2-.2.2,.4.3-.5.1,.5.2-.4.3,.7.2,0 .1-.4.4,0 .1-1.3.2,1.1.4,.7.2-.7.3-.4.2,.8.1,0 .2-.5.2,.7.1,0 .2-.5.3-.1.2,.2.1-.9.7,1.3.1-1.4.2,1.6.1-1.4.2,1 .3-.8.2,.7.1-.2.4,.2.1-.6.2,0 .1-.3.2,1 .5-.7.1,.5.2-.4.3,.7.2-.8.1,.5.2-.2.2,.5.1-1.1.2,1.2.1-.5.2,.1.2-.2.1-.7.3,1.3.7-1 .1,.9.2-.4.2,.2.3-.4.1,.4.2-.6.2,.9.1-.3.3,.1.2,.3.2-.6.1,.4.3-.1.4-.7.3,1.2.1-.5.2,.2.3-1 .2,1.4.3-1.2.2,.6.1-.6.2,.7.3-.4.2,.3.1-.7.2,.8.3-.7.2,.5.1-.2.3,.4.5-.4.3,.5.2-1 .2,.8.3-1 .5,1.1.3-1.1.1,.1.4-.9.1,.3.3-3 .2,.1.2-1.6.1,.3.3-1.8.2-.2.8,1.8.3,2.3.5,1.3.2,1.7.1-.4.3,.5.4-.1.1,1.3.2-1.3.1,.2.2-.3.3,.6.2-.2.1,.7.5-1 .2,1.1.1-.8.4,.6.3-.5.5,0 .1-.2.2,.6.6-.8.2,.8.3-.6.2,.3.1-.8.3,1.1.4-.5.6,.1.2-.5.6,.8.3-.2.2-.6.1,.8.2-.9.3,.7.2-.4.1,.7.2,0 .2-.8.1,0 .2,.5.1-.1.2,.8.2-.5.1,.6.2-1.4.3,.2.3-.2.2,1.2.1-.5.2,.2.5-.6.3,.8.2-1.2.1,1.1.5-.9.2,.4.1-.1.2,.3.3-.7.2,.5.1-.2.2,.6.3-.2.2,.2.3-.5.1,.9.2-1.4.3,1.4.3-1 .2,.6.5-.6.1,.1.2,.6.2-.8.4-.2.5,1.2.2-1.4.3,1 .3-.3.2,.5.4-1.2.4,1 .4-.1.2-.9.3,1.3.2-.2.3,0 .2-.4.1,.4.2-.7.1,.6.5-.9.3,.8.4-.2.3,.1.1,.5.4-.9.1,.2.2-.2.1,.6.4-.2.1,.2.2-.7.3,.3.2-.3.1,.4.2-.4.3-.1.2,.6.3-.5.3-1.3.5-4.1 1.4-21.7.3,.1.4,3.4 1.1,19.5.5,3.2.1-.1.2,.6.1-.4.2,.3.3,1.6.3-.9.2,.5.2-.1.3,.3.5-1.1.1,.4.3,.1.2,.3.3-.4.2,.5.3-.5.2,.4.1-.3.3,.6.2-1.1.2,.6.1-.3.3,.2.2-.1.6-5 1.2-20.5.1-.9.2,.3.1-.8.8,15 .8,10.2.2-.2.3,1.4.2-.4.1,.7.5,.8.2-.5.1,.5.2-1.3.2,.7.1,0 .2,.4.1-.2.2,.5.5-1 .1,1 .2-.9.2,1 .1-.5.2,.6.3-1.2.2,.4.3-.1.1,.2.5-.2.2,.5.3-.4.2,.8.3-.8.5,.4.3-.7.3,1.1.2-.7.1,0 .2-.4.3,.3.2-.3.1,.5.7-2.3.3-3.2 1.1-37.9.2-3.8.1-1.7.2-.2 1.4,44.4.3,3 .8,2.1.2-.4.2,.3.1-.3.2,.5.1-1.1.5,.9.2-.6.1-.1.2,.3.5-.5.3,.8.5-.1.1-.4.2,.6.2-.8.3,.4.1-.6.4,1.2.1-.6.2,.3.1-.5.2,.2.2-.3.1,.1.2-.5.1,1.1.7-.3.5,.3.1-.5.3,.5.2-.3.5,.2.1-.5.5,.2.2,.4.1-.4.5,.3.2,.5.3-1.1.5,.7.1-.6.2,.3.5-.6.4,.7.2-.3.2,.7.1-.7.3-.2.5,.6.5-.3.2,.4.3-.8.3,.2.2,.6.1-.2.3,0 .2-.2.2,.5.1-.8.2,.3.3-.3.6,.7.2-.7.3,.5.2-.2.1,.3.2-.8.2,.7.1-.2.3,.3.4-.7.1,.2.2-.2.1,1 .2-1.2.2,.7.1-.6.2,.6.3-.9.3,.3.3-.7 1-7.6.5-2.5.3,.5 1.4,10.2.2-.7.2,.8.1-.3.2,1 .1-.4 1,.5.2-.7.6,.6.2-.5.4,.4.2-.2.2,.7.3-.7.3,.5.3-.7.2,.4.3-.2.3,.4.2-.2.1,.7.2-.9.2,0 .1-.4.2,1 .3-.2.2-.6.1,.9.2,.1.3-1.2.2,.7.1-.5.3,.7.2-.5.2,.3.4,0 .5-.2.2-.5.1,.8.2-.5.2,0 .1-.2.2,.4.1-.3.2,.4.2-.3.1,.4.2-.3.1,.2.2-.5.2,.5.1-.5.2,.4.1-.5.2,.5.3,.2.2-.2.3,.2.2-.5.1,.2.2-.7.3,1.3.2-.9.1,.4.5-.2.2,.5.1-.4.2,.2.3-.3.2,.6.1-.7.2,.3.3,0 .2,.8.1-1 .2,.2.1-.3.2,.3.2-.7.1,.4.2-.1.1,.6.2-.4.2,.5.1-1.2.2,.9.1-.3.4,.5.3-.1.1-.3.4,.3.1-.4.3,.4.4-.3.1,.2.3-.2.2,.4.2-.2.3,.5.1-.5.2,.4.3-.5.2,.3.3-.3.2,.4.1-.4.3,.3.2-.4.2,.1.3-.3.1,.3.4-.4.1,.5.2-.2.3,.2.3,.4.3-.3.2,.1.1-.7.2,.7.5-.4.3,.5.2-.7.1,.5.3-.7.2,.6.5,0 .3,.2.3-.6.5,.7.2-.5.1,0 .2,.6.8-.6.1,1 .2-.9.2-.2.3,.6.3-.8.2,.8.1-.4.2,.3.1-.4.4,.6.1-.2.2,.1.1-.4.2,.2.3-.3.2,.5.3-.7.3,.7.3-.5.2,.4.2-.3.6,.7.5-.8.1,.3.2-.1.2,.5.4-.7.4,.6.3-.7.3,.3.3-.4.2,.1.1,.6.2-.7.2,.6.3-.7.5,.9.3-1 .1,1.1.2-.3.2,.2.1-.7.2,.5.1-.5.2,.7.2-.5.3-.2.1,.6.2-.5.5,.1.1-.2.2,.7.3-.1.2-.9.3,.2.5,.7.1-.4.2,.7.2-.7.1,.4.3-.8.2,.3.2-.1.4-.5.4-.8.1,.2.7-1.8.1,.4.2-.3.3,.3.8,1.7.2-.5.3,1.3.1-.5.2,.6.2-.3.3,.4.3,0 .2-.3.3,.5.3-.2.2-.7.3,.4.1-.5.7-5 1.1-20.1.3-2.9.2-.1.5,4.6 1.1,19.7.3,2.6.8,2.5.2-.9.3,.2.1,.4.2-.2.2,.3.1-.3.3-.1.4,.6.1-.5.2,.2.1-.3.5,.4.2-.4.3,.6.2-.8.1,.5.2-.3.3,.7.2-.7.1,.3.2-.4.1,.4.8,0 .4-.8.3,.8.3-.1.2,.4.3-.5.3,.4.2-.1.1,.4.2-.4.1,.2.2-.6.2,.6.1-.5.5,.2.5-.3.3,.5.3-.5.2,.7.3-.9.1,.1.2-.2.2,.7.3-.5.3-.2.2,.1.6-3.8 1.3-25 .5-4.8.4,4.8.8,17.5.7,8.6.6,2.7.2,.3.1-.3.2,.4.2-.7.1,.6.5,.5.3-.4.3,.4.2-.3.3,.2.2-.6.3,.3.2-.3.3,.6.1-.2.4-.2.1,.2.3-.3.2,.3.2-.4.3,.6.1-.3.2,.2.3-.5.2,.3.1-.4.2,1 .2-1 .1,.5.3-.4.2,.5.5-.8.3,1.1.3-.9.2,.7.1-.2.4,.2.1-.6.3,.8.2-.6.3-.2.5,.8.5-.6.1,.3.5-.7.8,.8.2-.8.1,.6.4-.5.1,.5.3-.5.2,.4.2,.1.1-.2.2,.3.1-.4.5,.3.2-.4.1,.9.2-.9.2,.7.1-.4.3,.3.4-.6.1,.6.3,.4.4-1.3.3,.8.6,0 .3-.5.7,.7.3-.6.2,.4.1-.4.2,.4.1-.4.2,.4.3-.3.3,.3.2-.3.3,.1.2-.4.3,1 .3-1 .2,.5.3,0 .5,.4.5-.9.1,0 .2,.6.3-.2.2,.4.1-.6.5,.3.2-.3.1,.2.5,0 .2-.3.3,.5.1-.6.4,.5.3-.4.1,.3.2-.2.2,.5.1-.1.2,.2.1-.6.2,.4.2-.3.1,.3.3-.4.5,.4.2-.5.1,.9.2-.5.5-.2.3,.4.2-.6.1,.4.3,.2.2-.7.2,.5.1-.5.3,.5.4-.1.3,.2.3-.4.5,.4.3-.5.3,.4.2-.4.6,.6.2-.5.1,.6.2,0 .2-.5.4,0 .3-.5.4,1 .1-.7.2,.5.1-.3 1.2,.4.1-.5.3,.5.2-.5.2,.5.1-.2.2,.2.5-.3.1-.4.2,.5.1-.1.2,.3.3-.5.7,.4.3-.1.1-.4.4,.6.3-.5.3,.7.2-.1.3-.6.3,0 .3,.4.3-.3.5,.5.2-.5.1,.5.4-.5.1,.3.2-.3.1,.4.4-.4.1,.4.3-.4.4,.4.3-.4.5,.5.1-.5.7,.5.1-.6.7,.5.4-.5.4,.4.1-.5.7,.6.1-.5.2,.3.1-.1.2,.5.2-.8.1,.6.2-.6.1,.4.4-.3.4,.4.4-.4.3,.6.3-.8.2,.3.3-.2.1,.6.2-.4.3,.1.5-.3.3,.4.5-.3.3,.3.2-.2.3,.3.2-.5.3,.1.1,.5.5-.6.2,.5.5-.2.1-.4.3,.6.2-.3.3,.1.2-.3.3,.1.2-.9.1,.2.7-4.3 1.1-16.5.3-3.7.3-.5.5,3.1 1,15.2.8,6.5.4,1 .4-.2.1,.2.3-.4.2,.6.2-.3.1,0 .3,.5.5-.6.7,.5.4-.4.4,.3.1-.3.3,.4.5-.4.2,.3.3,.1.6-.5.2,.3.5-.2.1,.5.2-.6.2,.4.1-.2.3,.1.2-.1.2,.3.6-.4.2,.6.1-.7.2-.2.1,.4.2-1 .3-.1 1.3-6.2.6,.4 1.1,5.4.5,1.2.2,0 .5,.5.1-.3.2,0 .3,.6.5-.7.1,.6.4-.4.1,.2.2-.2.3,.1.3,.4.3-.6.2,.3.3-.3.3,.1.2-.3.2,.4.1-.1.2,.3.1-.4.2,.1.2-.1.4,.4.5-.4 1,.2.1-.3.2,.4.3-.1.3,.6.2-1 .2,.3.3-.1.1,.3.7,.1.5-.3.3,.3.1-.2.5,.1.2-.4.1,.3.2,0 .2-.3.3,.3.1-.3.2,.7.2-.3.1,.1.5-.4.6,.5.2-.6.3,.5.3-.5.4,.6.6-.3.3,.2.2-.4.1,.5.2-.4.6,.1.2,.3.2-.4.4,.4.2-.6.2,.6.3-.1.3-.5.2,.3.1,.1.2-.4.6,.6.2-.6.6,.6.2,0 .1-.3.2,.5.2-.4.1,.4.2-.7.3,.2.3-.4.2,.4.1-.4.4,.5.1-.3.2,.2.3-.1.2,.2.1-.3.2,.4.1-.5.2,.4.5-.3.6,.2.2,.3.3-.5.2,.4.1,0 .2-.5.1,.6.2-.3.3-.1.7,.4.6-.5.3,.4.3-.3.4,.4.3-.2.1,.2.4-.5.4,.3 1-.4.2,.4.3-.1.3,.1.2-.5.1,.3.2-.3.1,.7.2-.5.2,.4.1-.3.5-.3.2,.7.1-.6.7,.5.1-.5.2,.3.6-.1.2,.3.3-.2.6,0 .5-.4.3,.4.4-.1.1,.4.3-.4.2,.3.2-.4.1,.3.3-.4.2,.5.2-.5.1,.4.2-.1.3,.2.3-.8.3,1.1.3-.7.2,.4.3-.2.5,.4.2-.5.1,.2.2-.4.1,.4.4-.5.1,.6.3,.2.4-.7.3,.5.3-.4.3,.1.2,.3.3-.4.3,.4.2-.3.3-.1.2,.3.1-.4.2,.2 1.1,.3.2,.3.1-.6.2,.3.1-.3.4,0 .1,.2.2-.2.5,.1.1,.4.2-.4.5-.1.4,.2.4-.2.1,.3.2-.5.5,.7.1-.5.2,.4.3-.7.2,.7.3-.4.3,.3.2-.2.1,.2.5-.2.3,.4.3-.6.2,.3.2-.3.3,.3.5-.2.3,.2.6-.5.3,.5.2-.4.2,.3.4,.2.2-.2.2,.3.3-.5.5,.4.4-.4.4,.3.1-.4.2,.4.3-.2.6,.3.2-.3.5-.2.1,.4.4-.3.1,.3.3-.2.2-.5.2,.6.3,.2.3-.3.5,.3.3-.5.3,.4.2-.4.5,.4.1-.3.2,.4.3,0 .2-.2.1,.1.2-.3.6,.3.3,0 .2-.5.2,.7.1-.4.2,.3.1-.4.4,.4.4-.4.4,.2.4-.4.5,.7.3-.5.5,.4.7-.2.3,.2.1-.6.4,.5.3-.4.1,.4.2-.3.5,.4.1-.4.2,.3.3-.2.2,.2.3-.1.2,.3.1-.2.3,.1.2-.5.2,.5.4-.3.2,.2.5-.3.1,.4.2-.3.6,.4.4-.5.1,.1.5-.1.3,.3.2,0 .1-.4.2,0 .2,.5.1-.4.2,.3.1-.3.2,.1.2,.5.3-.5.1,.4.4-.4.3,.3.1-.1.2,.2.8-.4.5,.1.3-.3.1,.7.4-.4.3,.1.3-.3.2,.4.3-.4.1,.3.2-.1.2,.3.1-.7.2,.5.1-.2.2,.1.2-.3.1,.3.3-.3.2,.4.3-.3.2,.4.1-.2.4,.2.1-.4.3,.3.2-.3.2,.5.3-.4.1,.3.5-.4.2,.3.6-.1.5,.1.6-.3.4,.4.1-.2.2,.2.1-.5.4,.5.1-.4.7,.1.1,.7.2-.8.1,.2.2-.1.2,.1 1.1-.1.3,.3.3-.5.2,.2.1-.1.2,.4.2-.3.1,.4.3-.4.2,.3.2-.6.1,.6.5-.4.3,.2.2-.3.3,.4.3-.3.2,.4.1-.2.4,0 .1-.2.5,.4.3-.4.2,.4.1-.3.4,.2.4-.3.2,.4.6-.2.2,.3.2-.3.1,.2.3-.3.7,.2.3-.2.2,.3.1-.2.2,.2.6-.4.2,.2.3,0 .2-.3.1,.3.3-.1.4,.2.3-.2.1,.2.5-.1.2,.3.5-.5.1,.3.2-.2.3,.2.2-.2.3,.3.5-.4.6,.3.3-.2.2,.2.1-.1.2,.3.2-.3.1,.1.2-.2.1,.2.7,.1.5-.3.4,.3.2-.3.3,.2.5-.2.2,.3.3-.3.5,.3.4-.3.2,.2.2-.3.3,.4.3-.4.2,.2.6,.2.2-.1.1,.1.2-.4.3,.4.2-.3.3-.1.5,.5.1-.4.5,.3.5-.3.1,.2.4-.2.3,.1.6,.3.2-.3.3,.2.1-.3.5,.4.5-.6.2,.3.1-.2.3,0 .4,.1.1,.3.2-.2.1,.1.2-.4.2,.5.1-.3.5,.2.2-.2.1,.2.2-.1.5,.3.1-.4.3,.2.2-.1.2,.3.1-.4.5,.2.3-.3.3,.3.2-.2.6,.1.2-.2.3,.3 1.5-.3.1,.4.2-.1.1,.3.2-.4.3,.1.2-.4.3,.5 1.3-.4.1,.4.2-.3.5,.2.6-.2.2,.4.3-.4.3-.1.2,.3.3-.4.2,.6.3-.3.1,.2.5-.3.2,.2.1-.3.2,.5.2-.2.8-.2.4,.2.4-.2.1,.2.2-.3.1,.4.2-.3.5,.4.3-.5.2,.1.4-.2.2,.4.5,0 .3-.3.2,.3.3-.3.1,.1.5-.1.7,.3.3-.2.1,.2.8-.3.7,.5.1-.3.5,.1.2-.3.6,.3.2-.3.1,.4.2-.4.2,.2.1-.3.2,.3.5-.1.1,.2.3-.3.5,.3.7-.2.1,.2.2-.2.6,.3.3-.4.4,.5.4-.5.4,0 .1,.3.2-.3.3,.3.3-.2.2,.3.1-.5.4,.6.3-.5.3,0 .2,.3.4-.3.2,.3.2-.5.3,.4.1-.2.2,.3.2-.1.1,.1.7-.1.1-.2.5,.3.3-.2.3,.2.4-.3.1,.4.2-.4.1,.1.2-.2.3,.6.3-.4 1,.3.2-.4.6,.4.3-.4.5,.4.1-.2.5,0 .2-.3.1,.4.2-.2.2,.2.3-.1.1,.2.2-.2.2,.2.1-.3.3,.4.4-.5.1,.3.2-.1.1,.1.2-.3.2,.3.4-.2.5,.3.2-.3.3,.3.3-.3.2,.2.5-.2.4,.2.5-.2.7,.1.1-.2.3,.2.7-.2.1,.4.2-.2.3,.2.2-.2.3,.3.5-.4.5,.5.1-.5.3,.3.2-.3.2,.3.3-.2.3,.1.2-.3.4,.1.2,.3.2-.2 1.9,.1.6-.3.2,.5.3-.5.2,.4.1-.4.5,.4 1.1-.4.2,.3.3-.2.2,.3.1-.5.2,.3.5-.3.1,.4.3-.2.2,.2.2-.1.1,.1.8-.1.2,.2.6-.4.3,.4.5-.3.2,.2.5-.2.1,.4.2-.3.3,.1.3-.2 1.1,.3.8,0 .2-.4.3,.5.3-.4.5,.2.3-.3.2,.3.3,.1 1-.3.8,.2.6-.3.2,.3.6-.2.7,.2.1-.1.3,.2.2-.4.5,.3.1-.2.2,.2.2-.3.1,.3.3-.2.4,.2.3-.2.5,.1.1,.2.3-.1.2-.4 1.1,.5.3-.2.2,.2.2-.4.1,.3.8,0 .5-.3.2,.3.3-.3.1,.3.2-.2.6,.2.2-.2.3,.3.5-.4.3,.2.8-.1.8,.2.5-.2.1,.3.4-.3.4,.1.2-.2.2,.2.6-.1.2,.3.4-.2.2,.1.5-.3.6,.3.7-.2.1,.2.5,0 .2-.3.3,0 .1,.3.2-.2.3,.3.2-.4.6,.3.2-.2.1,.2.2-.2.6,.2.4-.3.3,.3.1-.2.4,.2.1-.2.2,.3.1-.3.7,.1.1-.2.8,.2.4-.2.3,.4.5-.4.1,.3.5-.2.5,.2.1-.2.5,.3.2-.3.5,.2.6-.3.2,.3 1.2-.3.2,.2.5-.1.3,.2.2-.1.4,.1.5-.2.2,.2.3-.3.2,.4.6-.3.5,.3.3-.3.2,.3.3-.4.5,.3.1-.2.7,0 .1,.2.2-.2.3,.2.5-.1.1,.2.2-.3.2,.1.4-.1.5,.1.7-.2.3,.3.3-.2.2,.3.1-.2.2,.1.1-.2 1,.1.2-.1.1,.3.2-.3.3,.2.6-.1.2-.3.2,.4.4,.1.2-.3.5,.2.3-.3.3,.4.3-.4.2,.2.2-.1.3,.1.3-.1.8,.2.3,0 .2-.3.3,.4.3-.3.3,.3.5-.2.3,.2.2-.3.2,.1.1-.2.2,.3.5-.2.3,.2 1.2-.3.2,.3.3,0 .3-.3.4,.3.3-.2.1,.2.5-.2.5,.2.3-.4.3,.3.4-.1.3,.2.3-.2.3,.2.3-.2.2,.2.5-.2.5,.2.3-.2.3,.2.5-.1.1,.1.7-.3.1,.2.2-.2.2,.3.9-.2.5,.4.5-.4.3,.2.5-.2.1,.3.2-.1.2,.1.3-.1.1-.3.5,.3.3-.3.2,.3.2-.2.3,.3.3-.3.3,.2.2-.2.1,.1.4-.1.6,.1.5-.2.1,.2.2-.1.3,.2.7-.2.1,.2.3-.3.4,.3.4,0 .2-.3.6,.3.4-.2.3,0 .1,.3 1.3-.3.2,.3.3-.2.5,.1.3-.3.6,.4.2-.3.8,.2.3-.2.3,.1.2-.2.2,.3.4-.1.4,.2.1-.2.5,.2.3-.4.2,.3.3-.2.6,.2.4-.2.1,.2.2-.2.1,.2.4-.2.1,.1.3-.3.2,.3.5-.3.1,.4.4-.2 2.5,.2.2-.2.1,.2.8-.2.2,.3.8-.3 1,.2.4-.2.4,.2 1.1-.2.1,.3.4-.3.4,.3.4-.3.3,.2.3-.2.3,.3.7-.4.7,.4.4-.4.4,.3.2-.2.5,.2.5-.2.1,.2.5-.3.2,.4.1-.4.2,.2.3-.1.3,.2.3-.1.2,.1.2-.2.1,.2.8,.1.8-.3 1.3,.2.5-.2.5,.2.3-.2.1,.2 1.5-.3.1,.3.7-.2.1,.2.4-.2.3,.2.8-.2.1,.2.5-.3.2,.3.6-.2 1,.2.3-.2.8,.2.8-.3.3,.3.2-.2.5,.1.4-.1.5,.3.3-.3.2,.1.2-.1.3,.2.5-.3.3,.1.1,.3.2-.2.2,.1.4-.2.2,.2 1.4-.3.2,.3.5-.2.3,.1.2-.1.1,.3.2-.3.3,.2 3.5-.2.8,.2.3-.2 1.2,.1.1-.2.2,.2 1.1,.1.2-.1 1.1,.1.1-.1.4,.1.3-.2.3,.2.8-.2.2,.1.8,0 .1,.1 1-.2.1,.2.8-.1.4,.2.6-.4.3,.3.8,0 .6-.2.2,.3.5-.3 2.1,.3.4-.2.4,.2.1-.3.7,.2 2-.2.4,.2.1-.2.3,.3.5-.2.2,.2.5-.3.3,.1.1-.1.4,.1.3-.1.3,.2.6-.2.5,.3.2-.2.5-.1 1.1,0 .6,.3.2-.3.3,.2.8-.2.6,.1.2-.1.5,.2.6-.2.5,.1.3-.2.3,.3 1-.2.6,.2.4-.2.6,.2.5-.2 1.7,.1.2-.2.2,.2.8-.1.8,.2.3-.1.3,.1 1.3-.2.8,.1 2.1-.1.8,.2 1.1-.2.5,.2 1.7-.2.2,.2.1-.2.2,.2.6-.2.4,.2.1-.3.2,.2.3-.1.3,.2.5-.2.5,.1.1-.1.4,.2 1.9-.1.1,.2.2-.4.3,.3.3-.2.7,.2 1.7-.1.3,.2.4-.3.9,.2.7-.2.1,.2.3-.2.8,.2.2-.2.3,.2 1,0 .3-.2 1,.2.8-.3.1,.3.5-.2.6,.1.5-.1.3,.2.4-.2.3,.2 1.6-.2.1,.2.7-.2.3,.1 1-.1.1,.2.5-.2.3,.2.3-.3.2,.2 1.3,0 .3-.1.6,.2.5-.3.3,.2 1-.1.5,.2.6-.2 1.1,.2 1-.1.3,.1 1.6-.2.2,.2.1-.2.8,.3.2-.2.2,.1.1-.2.2,.2.9-.2 1.6,.1.2-.1.3,.2.2-.2.8,0 .1,.2.7-.2.1,.2.5-.2.2,.2 1.4-.1.2,.1.1-.2 1.5,.2 1.4-.1.5,.1 1.1-.2.7,.2.1-.2.8,.1.2-.1.1,.2.4-.2.9,.2.2-.2.9,.1.2-.1.1,.2.2-.2 2.6,.2.4-.2 1.6,.2.2-.2 1.8,.2.8-.2 1.2,.2.4-.1 1.9-.1.8,.2.3-.2.2,.2.3-.2.1,.2.8-.2 1.5,.2.9-.2.2,.2 1.9-.2.2,.2.9-.2.2,.2.3-.2.8,.2 1.8-.2.1,.2.4-.2.4,.2.5-.2.3,.3.7-.2 1.4,.1.5-.1.2,.1.4-.2.8,.1.5,.2.2-.3.1,.1.8-.1.2,.2.6-.1 2,.1.6-.2 1,.2.3-.2 2.4,.2.8-.2.8,.2 1.4-.2.8,.2.2-.2.6,.2.3-.2.3,.2 2.1-.1.2-.1.1,.2.5-.2 3.7,.2 1-.2.8,.2.1-.3.2,.2 1.3-.1.4,.2 1.5-.2.1,.2.8-.2.7,.2 1.4-.2 3.5,.2.4-.2 1.1,.2.1-.2.5,0 3.2,.2 1.9-.2 2.4,.1.4-.1.3,.2 4.1-.2 1,.2.5-.2.3,.2.6-.2.4,.2.1-.1 1,0 .3,.1.3-.2.8,.2.2-.2.5,.2 1.7-.2.2,.2 2.2-.2.5,.2.3-.2.3,.2.2-.2.1,.1.2-.1.2,.1 2.5,0 .2,.1.5-.2.8,.2.6-.2.6,.1.2-.1 1.4,.2.2-.2 1,.2.9-.2 1,.2 2.9-.2 2.8,.1" fill="none" stroke="#666" stroke-width="0.9" stroke-linejoin="round" />
<text x="107.0" y="708.4" style="font-size:24px;font-family:'DejaVu Serif',serif">α<tspan dx="-0.3" dy="8" style="font-size:16.5px;font-family:'Liberation Sans',Arial,Helvetica,sans-serif">1</tspan></text>
<text x="134.7" y="493.5" style="font-size:24px;font-family:'DejaVu Serif',serif">α<tspan dx="-0.3" dy="8" style="font-size:16.5px;font-family:'Liberation Sans',Arial,Helvetica,sans-serif">2</tspan></text>
<text x="146.3" y="743.4" style="font-size:24px;font-family:'DejaVu Serif',serif">β<tspan dx="-0.5" dy="8" style="font-size:16.5px;font-family:'Liberation Sans',Arial,Helvetica,sans-serif">1</tspan></text>
<text x="206.0" y="748.4" style="font-size:24px;font-family:'DejaVu Serif',serif">β<tspan dx="-0.5" dy="8" style="font-size:16.5px;font-family:'Liberation Sans',Arial,Helvetica,sans-serif">2</tspan></text>
<text x="308.9" y="748.5" style="font-size:24px;font-family:'DejaVu Serif',serif">γ<tspan dx="-2.7" dy="8" style="font-size:16.5px;font-family:'Liberation Sans',Arial,Helvetica,sans-serif">1</tspan></text>
<text x="392.1" y="751.3" style="font-size:24px;font-family:'DejaVu Serif',serif">γ<tspan dx="-2.7" dy="8" style="font-size:16.5px;font-family:'Liberation Sans',Arial,Helvetica,sans-serif">2</tspan></text>
<path d="M788.3,502H845.5" stroke="#9a9a9a" stroke-width="1"/>
<text x="854.6" y="511.0" text-anchor="start" fill="#000" style="font-size:24px" >1.8 K</text>
<text x="820.7" y="556.9" style="font-size:24px;font-style:italic">B</text><text transform="translate(843.2,553.2) scale(1,0.734)" style="font-size:24px">||</text><text x="864.4" y="556.9" style="font-size:24px">[001]</text>
<text x="-1.0" y="492.6" style="font-size:42px;font-weight:bold">d</text>
<defs>
<radialGradient id="gS" cx="0.5" cy="0.5" r="0.5"><stop offset="0" stop-color="#404040"/><stop offset="0.8" stop-color="#3a3a3a"/><stop offset="1" stop-color="#2c2c2c"/></radialGradient>
<radialGradient id="hl1" cx="0.5" cy="0.5" r="0.5"><stop offset="0" stop-color="#c4c4c4"/><stop offset="0.35" stop-color="#a8a8a8" stop-opacity="0.85"/><stop offset="0.7" stop-color="#707070" stop-opacity="0.4"/><stop offset="1" stop-color="#444" stop-opacity="0"/></radialGradient>
<radialGradient id="hl2" cx="0.5" cy="0.5" r="0.5"><stop offset="0" stop-color="#8e8e8e"/><stop offset="0.4" stop-color="#787878" stop-opacity="0.8"/><stop offset="0.75" stop-color="#585858" stop-opacity="0.4"/><stop offset="1" stop-color="#444" stop-opacity="0"/></radialGradient>
<radialGradient id="gB" cx="0.62" cy="0.5" r="0.62" fx="0.66" fy="0.55"><stop offset="0" stop-color="#2f2fff"/><stop offset="0.55" stop-color="#2a2af2"/><stop offset="0.85" stop-color="#2424c8"/><stop offset="1" stop-color="#1e1eaa"/></radialGradient>
<radialGradient id="hb1" cx="0.5" cy="0.5" r="0.5"><stop offset="0" stop-color="#d8d8ff"/><stop offset="0.55" stop-color="#c0c0ff"/><stop offset="1" stop-color="#3a3af0" stop-opacity="0"/></radialGradient>
<radialGradient id="hb2" cx="0.5" cy="0.5" r="0.5"><stop offset="0" stop-color="#8080ff"/><stop offset="0.5" stop-color="#6a6aff"/><stop offset="1" stop-color="#3030e0" stop-opacity="0"/></radialGradient>
<radialGradient id="gR" cx="0.5" cy="0.5" r="0.55"><stop offset="0" stop-color="#6e0a0a"/><stop offset="0.45" stop-color="#8a1414"/><stop offset="0.75" stop-color="#a52828"/><stop offset="1" stop-color="#9a2222"/></radialGradient>
<filter id="bl3" x="-50%" y="-50%" width="200%" height="200%"><feGaussianBlur stdDeviation="3"/></filter>
<filter id="bl1" x="-50%" y="-50%" width="200%" height="200%"><feGaussianBlur stdDeviation="1.2"/></filter>
</defs>
<circle cx="293.7" cy="540.3" r="58.7" fill="url(#gS)"/>
<ellipse cx="304.6" cy="523.3" rx="21" ry="19" fill="url(#hl1)"/>
<ellipse cx="280.2" cy="557.8" rx="21" ry="19" fill="url(#hl2)"/>
<path d="M235.0,540.8 A58.7,6.6 0 0 1 352.4,540.8" fill="none" stroke="#20a0a0" stroke-width="0.9" opacity="0.6"/>
<path d="M235.0,540.8 A58.7,6.6 0 0 0 352.4,540.8" fill="none" stroke="#22c0c0" stroke-width="1.8"/>
<path d="M354.8,664.9 L354.7,671.4 L354.6,675.7 L354.2,679.5 L353.8,682.9 L353.2,686.0 L352.6,689.0 L351.8,691.8 L350.8,694.4 L349.8,696.9 L348.6,699.3 L347.3,701.6 L345.9,703.7 L344.4,705.7 L342.7,707.6 L340.9,709.4 L339.0,711.0 L337.0,712.6 L334.9,714.0 L332.6,715.4 L330.2,716.6 L327.7,717.7 L325.0,718.7 L322.2,719.5 L319.2,720.3 L316.0,720.9 L312.7,721.5 L309.0,721.9 L305.0,722.2 L300.4,722.3 L293.5,722.4 L286.6,722.3 L282.0,722.2 L278.0,721.9 L274.3,721.5 L271.0,720.9 L267.8,720.3 L264.8,719.5 L262.0,718.7 L259.3,717.7 L256.8,716.6 L254.4,715.4 L252.1,714.0 L250.0,712.6 L248.0,711.0 L246.1,709.4 L244.3,707.6 L242.6,705.7 L241.1,703.7 L239.7,701.6 L238.4,699.3 L237.2,696.9 L236.2,694.4 L235.2,691.8 L234.4,689.0 L233.8,686.0 L233.2,682.9 L232.8,679.5 L232.4,675.7 L232.3,671.4 L232.2,664.9 L232.3,658.4 L232.4,654.1 L232.8,650.3 L233.2,646.9 L233.8,643.8 L234.4,640.8 L235.2,638.0 L236.2,635.4 L237.2,632.9 L238.4,630.5 L239.7,628.2 L241.1,626.1 L242.6,624.1 L244.3,622.2 L246.1,620.4 L248.0,618.8 L250.0,617.2 L252.1,615.8 L254.4,614.4 L256.8,613.2 L259.3,612.1 L262.0,611.1 L264.8,610.3 L267.8,609.5 L271.0,608.9 L274.3,608.3 L278.0,607.9 L282.0,607.6 L286.6,607.5 L293.5,607.4 L300.4,607.5 L305.0,607.6 L309.0,607.9 L312.7,608.3 L316.0,608.9 L319.2,609.5 L322.2,610.3 L325.0,611.1 L327.7,612.1 L330.2,613.2 L332.6,614.4 L334.9,615.8 L337.0,617.2 L339.0,618.8 L340.9,620.4 L342.7,622.2 L344.4,624.1 L345.9,626.1 L347.3,628.2 L348.6,630.5 L349.8,632.9 L350.8,635.4 L351.8,638.0 L352.6,640.8 L353.2,643.8 L353.8,646.9 L354.2,650.3 L354.6,654.1 L354.7,658.4Z" fill="url(#gB)"/>
<ellipse cx="301" cy="641.4" rx="26" ry="18" fill="url(#hb1)" transform="rotate(-12 301 641.4)"/>
<ellipse cx="281" cy="688" rx="30" ry="21" fill="url(#hb2)" transform="rotate(-15 281 688)"/>
<path d="M232.3,665 A61.2,6.5 0 0 0 354.6,665" fill="none" stroke="#1e8ce8" stroke-width="1.5"/>
<path d="M232.3,665 A61.2,6.5 0 0 1 354.6,665" fill="none" stroke="#1e70e0" stroke-width="0.8" opacity="0.5"/>
<g style="isolation:isolate">
<g><path d="M474.8,642.0L425.9,683.2M474.8,642.0L567.8,666.1" stroke="#b4386e" stroke-width="28" stroke-linecap="round" fill="none"/><circle cx="474.8" cy="642.0" r="17" fill="#b4386e"/></g>
<g style="mix-blend-mode:multiply"><path d="M473.8,547.0L566.8,571.1M473.8,547.0L424.9,588.2M566.8,571.1L517.9,612.3M424.9,588.2L517.9,612.3M424.9,588.2L425.9,683.2M566.8,571.1L567.8,666.1M517.9,612.3L518.9,707.3M425.9,683.2L518.9,707.3M567.8,666.1L518.9,707.3" stroke="#803458" stroke-width="31" stroke-linecap="round" fill="none"/><circle cx="473.8" cy="547.0" r="19" fill="#803458"/><circle cx="566.8" cy="571.1" r="19" fill="#803458"/><circle cx="424.9" cy="588.2" r="19" fill="#803458"/><circle cx="517.9" cy="612.3" r="19" fill="#803458"/><circle cx="567.8" cy="666.1" r="19" fill="#803458"/><circle cx="425.9" cy="683.2" r="19" fill="#803458"/><circle cx="518.9" cy="707.3" r="19" fill="#803458"/></g>
<path d="M473.8,555.0L474.8,642.0" stroke="#5e2140" stroke-width="27" stroke-linecap="round" opacity="0.6" fill="none"/>
<path d="M459.6,647.3L437.6,665.8" stroke="#f4b0d4" stroke-width="3.5" stroke-linecap="round" opacity="0.8" filter="url(#bl1)"/>
<path d="M493.4,640.8L525.9,649.3" stroke="#f4b0d4" stroke-width="3" stroke-linecap="round" opacity="0.6" filter="url(#bl1)"/>
<path d="M467.1,570.8L467.4,604.0" stroke="#d87aa8" stroke-width="2.5" stroke-linecap="round" opacity="0.35" filter="url(#bl1)"/>
<path d="M430.2,574.0L459.6,549.3" stroke="#d06a9c" stroke-width="3" stroke-linecap="round" opacity="0.6" filter="url(#bl1)"/>
<path d="M492.4,542.8L548.2,557.3" stroke="#c86094" stroke-width="3" stroke-linecap="round" opacity="0.5" filter="url(#bl1)"/>
<path d="M435.2,694.6L472.4,704.3" stroke="#d27aa6" stroke-width="3" stroke-linecap="round" opacity="0.55" filter="url(#bl1)"/>
<path d="M564.0,680.3L544.5,696.8" stroke="#d27aa6" stroke-width="3" stroke-linecap="round" opacity="0.55" filter="url(#bl1)"/>
<path d="M416.6,659.5L416.8,678.5" stroke="#d27aa6" stroke-width="3" stroke-linecap="round" opacity="0.5" filter="url(#bl1)"/>
<path d="M543.9,596.8L526.8,611.2" stroke="#e08ab8" stroke-width="3" stroke-linecap="round" opacity="0.55" filter="url(#bl1)"/>
<path d="M523.7,688.3L526.3,699.2" stroke="#e08ab8" stroke-width="3" stroke-linecap="round" opacity="0.45" filter="url(#bl1)"/>
</g>
<ellipse cx="428.0" cy="636.9" rx="16.5" ry="6.5" fill="none" stroke="#3ab8c0" stroke-width="1"/>
<ellipse cx="562.5" cy="621.8" rx="15.5" ry="6.5" fill="none" stroke="#3ab8c0" stroke-width="1"/>
<ellipse cx="517.6" cy="661.7" rx="14" ry="7" fill="none" stroke="#3ab8c0" stroke-width="1"/>
<path d="M484.8,560.9 L538.6,576.4 L507.6,608.7 L450.2,590.7Z" fill="none" stroke="#3ab8c0" stroke-width="1"/>
<defs><clipPath id="clR"><path d="M688.9,534.6C695.6,533.8 700.8,535.8 710.0,539.0C719.2,542.2 733.6,550.8 744.0,554.0C754.4,557.2 765.4,555.8 772.5,558.5C779.6,561.2 784.1,562.8 786.9,570.4C789.7,578.0 789.3,594.0 789.3,603.9C789.3,613.8 786.7,620.9 786.9,630.0C787.1,639.1 791.2,650.8 790.4,658.8C789.6,666.8 788.2,671.6 782.0,678.0C775.8,684.4 762.1,690.3 753.4,697.1C744.6,703.9 735.9,714.2 729.5,718.6C723.1,723.0 722.4,724.2 715.2,723.4C708.0,722.6 697.3,717.4 686.5,713.8C675.7,710.2 661.0,705.9 650.6,701.9C640.2,697.9 629.7,694.7 624.3,689.9C618.9,685.1 619.0,681.4 618.4,673.0C617.8,664.6 620.6,653.2 620.8,639.7C621.0,626.2 618.6,602.2 619.6,591.9C620.6,581.5 621.1,581.2 626.7,577.6C632.3,574.0 645.8,576.0 653.0,570.4C660.2,564.8 663.8,550.1 669.8,544.1C675.8,538.1 682.2,535.5 688.9,534.6Z"/></clipPath><filter id="bl4" x="-50%" y="-50%" width="200%" height="200%"><feGaussianBlur stdDeviation="4"/></filter><filter id="bl2" x="-50%" y="-50%" width="200%" height="200%"><feGaussianBlur stdDeviation="2"/></filter></defs>
<path d="M688.9,534.6C695.6,533.8 700.8,535.8 710.0,539.0C719.2,542.2 733.6,550.8 744.0,554.0C754.4,557.2 765.4,555.8 772.5,558.5C779.6,561.2 784.1,562.8 786.9,570.4C789.7,578.0 789.3,594.0 789.3,603.9C789.3,613.8 786.7,620.9 786.9,630.0C787.1,639.1 791.2,650.8 790.4,658.8C789.6,666.8 788.2,671.6 782.0,678.0C775.8,684.4 762.1,690.3 753.4,697.1C744.6,703.9 735.9,714.2 729.5,718.6C723.1,723.0 722.4,724.2 715.2,723.4C708.0,722.6 697.3,717.4 686.5,713.8C675.7,710.2 661.0,705.9 650.6,701.9C640.2,697.9 629.7,694.7 624.3,689.9C618.9,685.1 619.0,681.4 618.4,673.0C617.8,664.6 620.6,653.2 620.8,639.7C621.0,626.2 618.6,602.2 619.6,591.9C620.6,581.5 621.1,581.2 626.7,577.6C632.3,574.0 645.8,576.0 653.0,570.4C660.2,564.8 663.8,550.1 669.8,544.1C675.8,538.1 682.2,535.5 688.9,534.6Z" fill="#842929"/>
<g clip-path="url(#clR)">
<ellipse cx="645.9" cy="596.7" rx="16.7" ry="21.5" fill="#a83434" opacity="0.55" filter="url(#bl4)"/>
<ellipse cx="688.9" cy="556.1" rx="26.3" ry="14.3" fill="#a83434" opacity="0.55" filter="url(#bl4)"/>
<ellipse cx="763.0" cy="580.0" rx="16.7" ry="16.7" fill="#a83434" opacity="0.55" filter="url(#bl4)"/>
<ellipse cx="767.7" cy="649.3" rx="16.7" ry="19.1" fill="#a83434" opacity="0.55" filter="url(#bl4)"/>
<ellipse cx="710.4" cy="692.3" rx="28.7" ry="14.3" fill="#a83434" opacity="0.55" filter="url(#bl4)"/>
<ellipse cx="641.1" cy="668.4" rx="16.7" ry="14.3" fill="#a83434" opacity="0.55" filter="url(#bl4)"/>
<path d="M665.0,584.8C673.3,580.2 697.2,579.2 710.4,581.2C723.5,583.2 735.1,590.9 743.8,596.7C752.6,602.5 761.4,607.1 763.0,615.8C764.6,624.6 756.6,640.5 753.4,649.3C750.2,658.0 751.0,664.8 743.8,668.4C736.7,672.0 722.3,671.2 710.4,670.8C698.4,670.4 680.9,671.6 672.1,666.0C663.4,660.4 659.8,646.9 657.8,637.3C655.8,627.8 659.0,617.4 660.2,608.7C661.4,599.9 656.6,589.3 665.0,584.8Z" fill="#640606" opacity="0.9" filter="url(#bl2)"/>
<path d="M672.1,596.7C676.9,589.9 699.2,584.8 705.6,589.5C712.0,594.3 715.2,618.6 710.4,625.4C705.6,632.2 683.3,634.9 676.9,630.2C670.5,625.4 667.4,603.5 672.1,596.7Z" fill="#5a0404" opacity="0.6" filter="url(#bl2)"/>
<path d="M712.8,625.4C717.6,618.2 737.9,610.2 743.8,615.8C749.8,621.4 753.4,651.7 748.6,658.8C743.8,666.0 721.1,664.4 715.2,658.8C709.2,653.3 708.0,632.6 712.8,625.4Z" fill="#5a0404" opacity="0.6" filter="url(#bl2)"/>
<ellipse cx="724.7" cy="596.7" rx="14.3" ry="10.8" fill="#b03a3a" opacity="0.45" filter="url(#bl2)"/>
<ellipse cx="676.9" cy="649.3" rx="12.0" ry="14.3" fill="#b03a3a" opacity="0.45" filter="url(#bl2)"/>
<ellipse cx="724.7" cy="639.7" rx="9.6" ry="9.6" fill="#b03a3a" opacity="0.45" filter="url(#bl2)"/>
<ellipse cx="740.3" cy="587.6" rx="8.1" ry="5.3" fill="#ffd8d8" opacity="0.85" filter="url(#bl2)"/>
<ellipse cx="670.9" cy="667.9" rx="7.2" ry="4.8" fill="#ffd8d8" opacity="0.85" filter="url(#bl2)"/>
<ellipse cx="754.6" cy="667.9" rx="6.2" ry="5.3" fill="#ffd8d8" opacity="0.7" filter="url(#bl2)"/>
<ellipse cx="672.6" cy="637.3" rx="4.3" ry="8.1" fill="#ffd8d8" opacity="0.6" filter="url(#bl2)"/>
<ellipse cx="676.9" cy="563.2" rx="5.7" ry="3.3" fill="#ffd8d8" opacity="0.5" filter="url(#bl2)"/>
<ellipse cx="759.4" cy="560.9" rx="9.6" ry="2.4" fill="#ffd8d8" opacity="0.45" filter="url(#bl2)"/>
<ellipse cx="655.4" cy="587.6" rx="5.7" ry="3.8" fill="#ffd8d8" opacity="0.4" filter="url(#bl2)"/>
<ellipse cx="734.3" cy="692.3" rx="7.2" ry="2.4" fill="#ffd8d8" opacity="0.4" filter="url(#bl2)"/>
<ellipse cx="722.3" cy="613.9" rx="3.8" ry="3.3" fill="#ffd8d8" opacity="0.35" filter="url(#bl2)"/>
<ellipse cx="681.7" cy="623.0" rx="2.4" ry="7.2" fill="#ffd8d8" opacity="0.3" filter="url(#bl2)"/>
</g>
<path d="M679.3,581.2C683.7,578.6 693.3,574.4 700.8,574.0C708.4,573.6 719.3,576.6 724.7,578.8C730.1,581.0 733.5,584.2 733.1,587.1C732.7,590.1 726.9,593.9 722.3,596.7C717.8,599.5 712.4,603.5 705.6,603.9C698.8,604.3 686.9,601.5 681.7,599.1C676.5,596.7 674.9,592.5 674.5,589.5C674.1,586.5 674.9,583.8 679.3,581.2Z" fill="none" stroke="#3ab8c0" stroke-width="1.0"/>
<path d="M624.3,634.9C625.9,632.2 631.5,628.8 636.3,627.8C641.1,626.8 648.0,627.4 653.0,629.0C658.0,630.6 665.4,634.5 666.2,637.3C667.0,640.1 662.0,643.5 657.8,645.7C653.6,647.9 646.2,650.7 641.1,650.5C635.9,650.3 629.5,647.1 626.7,644.5C623.9,641.9 622.7,637.7 624.3,634.9Z" fill="none" stroke="#3ab8c0" stroke-width="1.0"/>
<path d="M751.0,625.4C751.4,622.2 758.6,613.8 763.0,611.0C767.3,608.3 773.5,607.1 777.3,608.7C781.1,610.2 785.7,617.0 785.7,620.6C785.7,624.2 781.5,628.6 777.3,630.2C773.1,631.8 765.0,631.0 760.6,630.2C756.2,629.4 750.6,628.6 751.0,625.4Z" fill="none" stroke="#3ab8c0" stroke-width="1.0"/>
<path d="M699.6,663.6C699.6,660.6 705.4,653.9 710.4,651.7C715.4,649.5 723.9,649.1 729.5,650.5C735.1,651.9 743.0,657.1 743.8,660.0C744.6,663.0 739.9,666.7 734.3,668.4C728.7,670.1 716.2,670.9 710.4,670.1C704.6,669.3 699.6,666.7 699.6,663.6Z" fill="none" stroke="#3ab8c0" stroke-width="1.0"/>
<text x="189.3" y="546.0" style="font-size:24px;font-family:'DejaVu Serif',serif">α<tspan dx="-0.3" dy="8" style="font-size:16.5px;font-family:'Liberation Sans',Arial,Helvetica,sans-serif">1</tspan></text>
<text x="187.0" y="670.0" style="font-size:24px;font-family:'DejaVu Serif',serif">α<tspan dx="-0.3" dy="8" style="font-size:16.5px;font-family:'Liberation Sans',Arial,Helvetica,sans-serif">2</tspan></text>
<text x="512.7" y="538.1" style="font-size:24px;font-family:'DejaVu Serif',serif">γ<tspan dx="-2.7" dy="8" style="font-size:16.5px;font-family:'Liberation Sans',Arial,Helvetica,sans-serif">1</tspan></text>
<text x="379.2" y="645.5" style="font-size:24px;font-family:'DejaVu Serif',serif">β<tspan dx="-0.5" dy="8" style="font-size:16.5px;font-family:'Liberation Sans',Arial,Helvetica,sans-serif">1</tspan></text>
<text x="626.4" y="548.6" style="font-size:24px;font-family:'DejaVu Serif',serif">γ<tspan dx="-2.7" dy="8" style="font-size:16.5px;font-family:'Liberation Sans',Arial,Helvetica,sans-serif">2</tspan></text>
<text x="793.1" y="637.0" style="font-size:24px;font-family:'DejaVu Serif',serif">β<tspan dx="-0.5" dy="8" style="font-size:16.5px;font-family:'Liberation Sans',Arial,Helvetica,sans-serif">2</tspan></text>
<defs>
<radialGradient id="gM" cx="0.58" cy="0.4" r="0.65"><stop offset="0" stop-color="#dc34e2"/><stop offset="0.45" stop-color="#c91ecf"/><stop offset="0.85" stop-color="#b015b6"/><stop offset="1" stop-color="#a010a6"/></radialGradient>
<radialGradient id="gG" cx="0.5" cy="0.45" r="0.6"><stop offset="0" stop-color="#8a8a8a"/><stop offset="0.6" stop-color="#707070"/><stop offset="1" stop-color="#555"/></radialGradient>
<radialGradient id="gGh" cx="0.5" cy="0.5" r="0.5"><stop offset="0" stop-color="#f2f2f2"/><stop offset="0.5" stop-color="#bdbdbd" stop-opacity="0.7"/><stop offset="1" stop-color="#888" stop-opacity="0"/></radialGradient>
<radialGradient id="gV" cx="0.5" cy="0.45" r="0.6"><stop offset="0" stop-color="#7a747a"/><stop offset="1" stop-color="#4f4a50"/></radialGradient>
<radialGradient id="gRe" cx="0.5" cy="0.5" r="0.6"><stop offset="0" stop-color="#e01010"/><stop offset="0.7" stop-color="#d40a0a"/><stop offset="1" stop-color="#b00000"/></radialGradient>
<radialGradient id="gBl" cx="0.4" cy="0.35" r="0.6"><stop offset="0" stop-color="#4a4aff"/><stop offset="0.6" stop-color="#1010d8"/><stop offset="1" stop-color="#0808a0"/></radialGradient>
</defs>
<path d="M1150.2,529.5 L1150.2,533.8 L1150.0,537.0 L1149.8,539.8 L1149.4,542.5 L1149.0,545.0 L1148.4,547.3 L1147.8,549.6 L1147.0,551.7 L1146.2,553.7 L1145.3,555.7 L1144.3,557.5 L1143.2,559.3 L1141.9,561.0 L1140.6,562.6 L1139.3,564.1 L1137.8,565.5 L1136.2,566.8 L1134.5,568.0 L1132.8,569.1 L1131.0,570.1 L1129.0,571.1 L1127.0,571.9 L1124.9,572.7 L1122.7,573.3 L1120.3,573.9 L1117.9,574.3 L1115.2,574.7 L1112.4,574.9 L1109.3,575.0 L1105.0,575.1 L1100.7,575.0 L1097.6,574.9 L1094.8,574.7 L1092.1,574.3 L1089.7,573.9 L1087.3,573.3 L1085.1,572.7 L1083.0,571.9 L1081.0,571.1 L1079.0,570.1 L1077.2,569.1 L1075.5,568.0 L1073.8,566.8 L1072.2,565.5 L1070.7,564.1 L1069.4,562.6 L1068.1,561.0 L1066.8,559.3 L1065.7,557.5 L1064.7,555.7 L1063.8,553.7 L1063.0,551.7 L1062.2,549.6 L1061.6,547.3 L1061.0,545.0 L1060.6,542.5 L1060.2,539.8 L1060.0,537.0 L1059.8,533.8 L1059.8,529.5 L1059.8,525.2 L1060.0,522.0 L1060.2,519.2 L1060.6,516.5 L1061.0,514.0 L1061.6,511.7 L1062.2,509.4 L1063.0,507.3 L1063.8,505.3 L1064.7,503.3 L1065.7,501.5 L1066.8,499.7 L1068.1,498.0 L1069.4,496.4 L1070.7,494.9 L1072.2,493.5 L1073.8,492.2 L1075.5,491.0 L1077.2,489.9 L1079.0,488.9 L1081.0,487.9 L1083.0,487.1 L1085.1,486.3 L1087.3,485.7 L1089.7,485.1 L1092.1,484.7 L1094.8,484.3 L1097.6,484.1 L1100.7,484.0 L1105.0,483.9 L1109.3,484.0 L1112.4,484.1 L1115.2,484.3 L1117.9,484.7 L1120.3,485.1 L1122.7,485.7 L1124.9,486.3 L1127.0,487.1 L1129.0,487.9 L1131.0,488.9 L1132.8,489.9 L1134.5,491.0 L1136.2,492.2 L1137.8,493.5 L1139.3,494.9 L1140.6,496.4 L1141.9,498.0 L1143.2,499.7 L1144.3,501.5 L1145.3,503.3 L1146.2,505.3 L1147.0,507.3 L1147.8,509.4 L1148.4,511.7 L1149.0,514.0 L1149.4,516.5 L1149.8,519.2 L1150.0,522.0 L1150.2,525.2Z" fill="url(#gM)"/><path d="M1061.0,530.5 Q1105.0,524.5 1149.0,527.5" stroke="#8a0a92" stroke-width="3" opacity="0.45" fill="none" filter="url(#bl1)"/><path d="M1108.0,485.5 Q1103.0,507.5 1108.0,527.5" stroke="#8a0a92" stroke-width="2" opacity="0.3" fill="none" filter="url(#bl1)"/><path d="M1065.0,507.5 Q1080.0,489.5 1103.0,485.5" stroke="#8a0a92" stroke-width="2" opacity="0.25" fill="none" filter="url(#bl1)"/><path d="M1081.0,502.5 L1097.0,519.5" stroke="#f8b8fa" stroke-width="4" stroke-linecap="round" opacity="0.6" filter="url(#bl2)"/><path d="M1131.0,502.5 L1112.0,523.5" stroke="#f8b8fa" stroke-width="5" stroke-linecap="round" opacity="0.6" filter="url(#bl2)"/><path d="M1127.0,547.5 L1113.0,535.5" stroke="#f0a0f4" stroke-width="4" stroke-linecap="round" opacity="0.3" filter="url(#bl2)"/>
<path d="M1379.2,520.0 L1379.2,524.3 L1379.0,527.5 L1378.8,530.3 L1378.4,533.0 L1378.0,535.5 L1377.4,537.8 L1376.8,540.1 L1376.0,542.2 L1375.2,544.2 L1374.3,546.2 L1373.3,548.0 L1372.2,549.8 L1370.9,551.5 L1369.6,553.1 L1368.3,554.6 L1366.8,556.0 L1365.2,557.3 L1363.5,558.5 L1361.8,559.6 L1360.0,560.6 L1358.0,561.6 L1356.0,562.4 L1353.9,563.2 L1351.7,563.8 L1349.3,564.4 L1346.9,564.8 L1344.2,565.2 L1341.4,565.4 L1338.3,565.5 L1334.0,565.6 L1329.7,565.5 L1326.6,565.4 L1323.8,565.2 L1321.1,564.8 L1318.7,564.4 L1316.3,563.8 L1314.1,563.2 L1312.0,562.4 L1310.0,561.6 L1308.0,560.6 L1306.2,559.6 L1304.5,558.5 L1302.8,557.3 L1301.2,556.0 L1299.7,554.6 L1298.4,553.1 L1297.1,551.5 L1295.8,549.8 L1294.7,548.0 L1293.7,546.2 L1292.8,544.2 L1292.0,542.2 L1291.2,540.1 L1290.6,537.8 L1290.0,535.5 L1289.6,533.0 L1289.2,530.3 L1289.0,527.5 L1288.8,524.3 L1288.8,520.0 L1288.8,515.7 L1289.0,512.5 L1289.2,509.7 L1289.6,507.0 L1290.0,504.5 L1290.6,502.2 L1291.2,499.9 L1292.0,497.8 L1292.8,495.8 L1293.7,493.8 L1294.7,492.0 L1295.8,490.2 L1297.1,488.5 L1298.4,486.9 L1299.7,485.4 L1301.2,484.0 L1302.8,482.7 L1304.5,481.5 L1306.2,480.4 L1308.0,479.4 L1310.0,478.4 L1312.0,477.6 L1314.1,476.8 L1316.3,476.2 L1318.7,475.6 L1321.1,475.2 L1323.8,474.8 L1326.6,474.6 L1329.7,474.5 L1334.0,474.4 L1338.3,474.5 L1341.4,474.6 L1344.2,474.8 L1346.9,475.2 L1349.3,475.6 L1351.7,476.2 L1353.9,476.8 L1356.0,477.6 L1358.0,478.4 L1360.0,479.4 L1361.8,480.4 L1363.5,481.5 L1365.2,482.7 L1366.8,484.0 L1368.3,485.4 L1369.6,486.9 L1370.9,488.5 L1372.2,490.2 L1373.3,492.0 L1374.3,493.8 L1375.2,495.8 L1376.0,497.8 L1376.8,499.9 L1377.4,502.2 L1378.0,504.5 L1378.4,507.0 L1378.8,509.7 L1379.0,512.5 L1379.2,515.7Z" fill="url(#gM)"/><path d="M1290.0,521.0 Q1334.0,515.0 1378.0,518.0" stroke="#8a0a92" stroke-width="3" opacity="0.45" fill="none" filter="url(#bl1)"/><path d="M1337.0,476.0 Q1332.0,498.0 1337.0,518.0" stroke="#8a0a92" stroke-width="2" opacity="0.3" fill="none" filter="url(#bl1)"/><path d="M1294.0,498.0 Q1309.0,480.0 1332.0,476.0" stroke="#8a0a92" stroke-width="2" opacity="0.25" fill="none" filter="url(#bl1)"/><path d="M1310.0,493.0 L1326.0,510.0" stroke="#f8b8fa" stroke-width="4" stroke-linecap="round" opacity="0.6" filter="url(#bl2)"/><path d="M1360.0,493.0 L1341.0,514.0" stroke="#f8b8fa" stroke-width="5" stroke-linecap="round" opacity="0.6" filter="url(#bl2)"/><path d="M1356.0,538.0 L1342.0,526.0" stroke="#f0a0f4" stroke-width="4" stroke-linecap="round" opacity="0.3" filter="url(#bl2)"/>
<path d="M1150.7,754.0 L1150.7,758.3 L1150.5,761.5 L1150.3,764.3 L1149.9,767.0 L1149.5,769.5 L1148.9,771.8 L1148.3,774.1 L1147.5,776.2 L1146.7,778.2 L1145.8,780.2 L1144.8,782.0 L1143.7,783.8 L1142.4,785.5 L1141.1,787.1 L1139.8,788.6 L1138.3,790.0 L1136.7,791.3 L1135.0,792.5 L1133.3,793.6 L1131.5,794.6 L1129.5,795.6 L1127.5,796.4 L1125.4,797.2 L1123.2,797.8 L1120.8,798.4 L1118.4,798.8 L1115.7,799.2 L1112.9,799.4 L1109.8,799.5 L1105.5,799.6 L1101.2,799.5 L1098.1,799.4 L1095.3,799.2 L1092.6,798.8 L1090.2,798.4 L1087.8,797.8 L1085.6,797.2 L1083.5,796.4 L1081.5,795.6 L1079.5,794.6 L1077.7,793.6 L1076.0,792.5 L1074.3,791.3 L1072.7,790.0 L1071.2,788.6 L1069.9,787.1 L1068.6,785.5 L1067.3,783.8 L1066.2,782.0 L1065.2,780.2 L1064.3,778.2 L1063.5,776.2 L1062.7,774.1 L1062.1,771.8 L1061.5,769.5 L1061.1,767.0 L1060.7,764.3 L1060.5,761.5 L1060.3,758.3 L1060.3,754.0 L1060.3,749.7 L1060.5,746.5 L1060.7,743.7 L1061.1,741.0 L1061.5,738.5 L1062.1,736.2 L1062.7,733.9 L1063.5,731.8 L1064.3,729.8 L1065.2,727.8 L1066.2,726.0 L1067.3,724.2 L1068.6,722.5 L1069.9,720.9 L1071.2,719.4 L1072.7,718.0 L1074.3,716.7 L1076.0,715.5 L1077.7,714.4 L1079.5,713.4 L1081.5,712.4 L1083.5,711.6 L1085.6,710.8 L1087.8,710.2 L1090.2,709.6 L1092.6,709.2 L1095.3,708.8 L1098.1,708.6 L1101.2,708.5 L1105.5,708.4 L1109.8,708.5 L1112.9,708.6 L1115.7,708.8 L1118.4,709.2 L1120.8,709.6 L1123.2,710.2 L1125.4,710.8 L1127.5,711.6 L1129.5,712.4 L1131.5,713.4 L1133.3,714.4 L1135.0,715.5 L1136.7,716.7 L1138.3,718.0 L1139.8,719.4 L1141.1,720.9 L1142.4,722.5 L1143.7,724.2 L1144.8,726.0 L1145.8,727.8 L1146.7,729.8 L1147.5,731.8 L1148.3,733.9 L1148.9,736.2 L1149.5,738.5 L1149.9,741.0 L1150.3,743.7 L1150.5,746.5 L1150.7,749.7Z" fill="url(#gM)"/><path d="M1061.5,755.0 Q1105.5,749.0 1149.5,752.0" stroke="#8a0a92" stroke-width="3" opacity="0.45" fill="none" filter="url(#bl1)"/><path d="M1108.5,710.0 Q1103.5,732.0 1108.5,752.0" stroke="#8a0a92" stroke-width="2" opacity="0.3" fill="none" filter="url(#bl1)"/><path d="M1065.5,732.0 Q1080.5,714.0 1103.5,710.0" stroke="#8a0a92" stroke-width="2" opacity="0.25" fill="none" filter="url(#bl1)"/><path d="M1081.5,727.0 L1097.5,744.0" stroke="#f8b8fa" stroke-width="4" stroke-linecap="round" opacity="0.6" filter="url(#bl2)"/><path d="M1131.5,727.0 L1112.5,748.0" stroke="#f8b8fa" stroke-width="5" stroke-linecap="round" opacity="0.6" filter="url(#bl2)"/><path d="M1127.5,772.0 L1113.5,760.0" stroke="#f0a0f4" stroke-width="4" stroke-linecap="round" opacity="0.3" filter="url(#bl2)"/>
<path d="M1379.2,744.0 L1379.2,748.3 L1379.0,751.5 L1378.8,754.3 L1378.4,757.0 L1378.0,759.5 L1377.4,761.8 L1376.8,764.1 L1376.0,766.2 L1375.2,768.2 L1374.3,770.2 L1373.3,772.0 L1372.2,773.8 L1370.9,775.5 L1369.6,777.1 L1368.3,778.6 L1366.8,780.0 L1365.2,781.3 L1363.5,782.5 L1361.8,783.6 L1360.0,784.6 L1358.0,785.6 L1356.0,786.4 L1353.9,787.2 L1351.7,787.8 L1349.3,788.4 L1346.9,788.8 L1344.2,789.2 L1341.4,789.4 L1338.3,789.5 L1334.0,789.6 L1329.7,789.5 L1326.6,789.4 L1323.8,789.2 L1321.1,788.8 L1318.7,788.4 L1316.3,787.8 L1314.1,787.2 L1312.0,786.4 L1310.0,785.6 L1308.0,784.6 L1306.2,783.6 L1304.5,782.5 L1302.8,781.3 L1301.2,780.0 L1299.7,778.6 L1298.4,777.1 L1297.1,775.5 L1295.8,773.8 L1294.7,772.0 L1293.7,770.2 L1292.8,768.2 L1292.0,766.2 L1291.2,764.1 L1290.6,761.8 L1290.0,759.5 L1289.6,757.0 L1289.2,754.3 L1289.0,751.5 L1288.8,748.3 L1288.8,744.0 L1288.8,739.7 L1289.0,736.5 L1289.2,733.7 L1289.6,731.0 L1290.0,728.5 L1290.6,726.2 L1291.2,723.9 L1292.0,721.8 L1292.8,719.8 L1293.7,717.8 L1294.7,716.0 L1295.8,714.2 L1297.1,712.5 L1298.4,710.9 L1299.7,709.4 L1301.2,708.0 L1302.8,706.7 L1304.5,705.5 L1306.2,704.4 L1308.0,703.4 L1310.0,702.4 L1312.0,701.6 L1314.1,700.8 L1316.3,700.2 L1318.7,699.6 L1321.1,699.2 L1323.8,698.8 L1326.6,698.6 L1329.7,698.5 L1334.0,698.4 L1338.3,698.5 L1341.4,698.6 L1344.2,698.8 L1346.9,699.2 L1349.3,699.6 L1351.7,700.2 L1353.9,700.8 L1356.0,701.6 L1358.0,702.4 L1360.0,703.4 L1361.8,704.4 L1363.5,705.5 L1365.2,706.7 L1366.8,708.0 L1368.3,709.4 L1369.6,710.9 L1370.9,712.5 L1372.2,714.2 L1373.3,716.0 L1374.3,717.8 L1375.2,719.8 L1376.0,721.8 L1376.8,723.9 L1377.4,726.2 L1378.0,728.5 L1378.4,731.0 L1378.8,733.7 L1379.0,736.5 L1379.2,739.7Z" fill="url(#gM)"/><path d="M1290.0,745.0 Q1334.0,739.0 1378.0,742.0" stroke="#8a0a92" stroke-width="3" opacity="0.45" fill="none" filter="url(#bl1)"/><path d="M1337.0,700.0 Q1332.0,722.0 1337.0,742.0" stroke="#8a0a92" stroke-width="2" opacity="0.3" fill="none" filter="url(#bl1)"/><path d="M1294.0,722.0 Q1309.0,704.0 1332.0,700.0" stroke="#8a0a92" stroke-width="2" opacity="0.25" fill="none" filter="url(#bl1)"/><path d="M1310.0,717.0 L1326.0,734.0" stroke="#f8b8fa" stroke-width="4" stroke-linecap="round" opacity="0.6" filter="url(#bl2)"/><path d="M1360.0,717.0 L1341.0,738.0" stroke="#f8b8fa" stroke-width="5" stroke-linecap="round" opacity="0.6" filter="url(#bl2)"/><path d="M1356.0,762.0 L1342.0,750.0" stroke="#f0a0f4" stroke-width="4" stroke-linecap="round" opacity="0.3" filter="url(#bl2)"/>
<ellipse cx="1114.0" cy="553.0" rx="20" ry="30" fill="url(#gV)"/><ellipse cx="1138.0" cy="549.0" rx="20" ry="28" fill="url(#gV)"/><ellipse cx="1118.0" cy="535.0" rx="7" ry="4" fill="#ddd" opacity="0.6" filter="url(#bl1)"/><ellipse cx="1140.0" cy="533.0" rx="7" ry="4" fill="#ddd" opacity="0.6" filter="url(#bl1)"/>
<ellipse cx="1342.0" cy="541.0" rx="20" ry="30" fill="url(#gV)"/><ellipse cx="1366.0" cy="537.0" rx="20" ry="28" fill="url(#gV)"/><ellipse cx="1346.0" cy="523.0" rx="7" ry="4" fill="#ddd" opacity="0.6" filter="url(#bl1)"/><ellipse cx="1368.0" cy="521.0" rx="7" ry="4" fill="#ddd" opacity="0.6" filter="url(#bl1)"/>
<ellipse cx="1114.0" cy="778.0" rx="20" ry="30" fill="url(#gV)"/><ellipse cx="1138.0" cy="774.0" rx="20" ry="28" fill="url(#gV)"/><ellipse cx="1118.0" cy="760.0" rx="7" ry="4" fill="#ddd" opacity="0.6" filter="url(#bl1)"/><ellipse cx="1140.0" cy="758.0" rx="7" ry="4" fill="#ddd" opacity="0.6" filter="url(#bl1)"/>
<ellipse cx="1342.0" cy="767.0" rx="20" ry="30" fill="url(#gV)"/><ellipse cx="1366.0" cy="763.0" rx="20" ry="28" fill="url(#gV)"/><ellipse cx="1346.0" cy="749.0" rx="7" ry="4" fill="#ddd" opacity="0.6" filter="url(#bl1)"/><ellipse cx="1368.0" cy="747.0" rx="7" ry="4" fill="#ddd" opacity="0.6" filter="url(#bl1)"/>
<rect x="1195.5" y="484.8" width="48" height="80" rx="23.0" ry="20.0" fill="#666"/><ellipse cx="1218.5" cy="508.8" rx="21.0" ry="21.6" fill="#777"/><ellipse cx="1218.5" cy="542.4" rx="21.0" ry="20.0" fill="#7d7d7d"/><path d="M1197.5,524.8 Q1219.5,528.8 1241.5,524.8" stroke="#4a4a4a" stroke-width="3" fill="none" opacity="0.7" filter="url(#bl1)"/><path d="M1228.5,500.8 Q1210.5,497.8 1212.5,505.8 Q1216.5,510.8 1228.5,507.8" stroke="#e8e8e8" stroke-width="6" fill="none" stroke-linecap="round" opacity="0.85" filter="url(#bl2)"/><ellipse cx="1220.5" cy="540.8" rx="10" ry="7" fill="url(#gGh)" opacity="0.75"/>
<rect x="1196.0" y="709.5" width="48" height="80" rx="23.0" ry="20.0" fill="#666"/><ellipse cx="1219.0" cy="733.5" rx="21.0" ry="21.6" fill="#777"/><ellipse cx="1219.0" cy="767.1" rx="21.0" ry="20.0" fill="#7d7d7d"/><path d="M1198.0,749.5 Q1220.0,753.5 1242.0,749.5" stroke="#4a4a4a" stroke-width="3" fill="none" opacity="0.7" filter="url(#bl1)"/><path d="M1229.0,725.5 Q1211.0,722.5 1213.0,730.5 Q1217.0,735.5 1229.0,732.5" stroke="#e8e8e8" stroke-width="6" fill="none" stroke-linecap="round" opacity="0.85" filter="url(#bl2)"/><ellipse cx="1221.0" cy="765.5" rx="10" ry="7" fill="url(#gGh)" opacity="0.75"/>
<rect x="1237.8" y="539.8" width="48" height="80" rx="23.0" ry="20.0" fill="#666"/><ellipse cx="1260.8" cy="563.8" rx="21.0" ry="21.6" fill="#777"/><ellipse cx="1260.8" cy="597.4" rx="21.0" ry="20.0" fill="#7d7d7d"/><path d="M1239.8,579.8 Q1261.8,583.8 1283.8,579.8" stroke="#4a4a4a" stroke-width="3" fill="none" opacity="0.7" filter="url(#bl1)"/><path d="M1270.8,555.8 Q1252.8,552.8 1254.8,560.8 Q1258.8,565.8 1270.8,562.8" stroke="#e8e8e8" stroke-width="6" fill="none" stroke-linecap="round" opacity="0.85" filter="url(#bl2)"/><ellipse cx="1262.8" cy="595.8" rx="10" ry="7" fill="url(#gGh)" opacity="0.75"/>
<rect x="1294.4" y="607.5" width="80" height="50" rx="21.0" ry="24.0" fill="#666"/><ellipse cx="1317.6" cy="631.5" rx="20.8" ry="22.0" fill="#777"/><ellipse cx="1351.2" cy="631.5" rx="20.8" ry="22.0" fill="#7d7d7d"/><path d="M1334.4,609.5 Q1330.4,632.5 1334.4,655.5" stroke="#4a4a4a" stroke-width="3" fill="none" opacity="0.7" filter="url(#bl1)"/><ellipse cx="1316.8" cy="628.5" rx="7.5" ry="3.2" transform="rotate(-8 1316.8 628.5)" fill="#f2f2f2" opacity="0.9" filter="url(#bl1)"/><ellipse cx="1316.8" cy="640.5" rx="7" ry="2.6" transform="rotate(8 1316.8 640.5)" fill="#bdbdbd" opacity="0.7" filter="url(#bl1)"/><ellipse cx="1354.4" cy="628.5" rx="7.5" ry="3.2" transform="rotate(-12 1354.4 628.5)" fill="#f2f2f2" opacity="0.9" filter="url(#bl1)"/><ellipse cx="1354.4" cy="640.5" rx="7" ry="2.6" transform="rotate(12 1354.4 640.5)" fill="#bdbdbd" opacity="0.7" filter="url(#bl1)"/>
<rect x="1065.5" y="617.2" width="80" height="50" rx="21.0" ry="24.0" fill="#666"/><ellipse cx="1088.7" cy="641.2" rx="20.8" ry="22.0" fill="#777"/><ellipse cx="1122.3" cy="641.2" rx="20.8" ry="22.0" fill="#7d7d7d"/><path d="M1105.5,619.2 Q1101.5,642.2 1105.5,665.2" stroke="#4a4a4a" stroke-width="3" fill="none" opacity="0.7" filter="url(#bl1)"/><ellipse cx="1087.9" cy="638.2" rx="7.5" ry="3.2" transform="rotate(-8 1087.9 638.2)" fill="#f2f2f2" opacity="0.9" filter="url(#bl1)"/><ellipse cx="1087.9" cy="650.2" rx="7" ry="2.6" transform="rotate(8 1087.9 650.2)" fill="#bdbdbd" opacity="0.7" filter="url(#bl1)"/><ellipse cx="1125.5" cy="638.2" rx="7.5" ry="3.2" transform="rotate(-12 1125.5 638.2)" fill="#f2f2f2" opacity="0.9" filter="url(#bl1)"/><ellipse cx="1125.5" cy="650.2" rx="7" ry="2.6" transform="rotate(12 1125.5 650.2)" fill="#bdbdbd" opacity="0.7" filter="url(#bl1)"/>
<path d="M1157.0,527.3L1323.0,520.0M1157.0,752.0L1323.0,745.1M1105.3,589.0L1105.3,710.0M1334.2,574.0L1334.2,700.0" stroke="#222" stroke-width="1.1" fill="none"/>
<defs><clipPath id="clE"><path d="M1190.0,606.0C1196.0,602.2 1206.7,602.0 1215.0,602.0C1223.3,602.0 1231.7,606.2 1240.0,606.0C1248.3,605.8 1256.7,601.0 1265.0,601.0C1273.3,601.0 1284.2,602.5 1290.0,606.0C1295.8,609.5 1298.8,615.5 1300.0,622.0C1301.2,628.5 1296.7,637.3 1297.0,645.0C1297.3,652.7 1301.8,660.5 1302.0,668.0C1302.2,675.5 1298.0,682.7 1298.0,690.0C1298.0,697.3 1303.3,706.0 1302.0,712.0C1300.7,718.0 1296.2,723.3 1290.0,726.0C1283.8,728.7 1273.3,728.3 1265.0,728.0C1256.7,727.7 1248.3,723.8 1240.0,724.0C1231.7,724.2 1223.0,728.5 1215.0,729.0C1207.0,729.5 1197.8,729.8 1192.0,727.0C1186.2,724.2 1181.3,718.2 1180.0,712.0C1178.7,705.8 1184.2,697.3 1184.0,690.0C1183.8,682.7 1179.2,675.5 1179.0,668.0C1178.8,660.5 1183.0,652.2 1183.0,645.0C1183.0,637.8 1177.8,631.5 1179.0,625.0C1180.2,618.5 1184.0,609.8 1190.0,606.0Z"/></clipPath></defs>
<path d="M1190.0,606.0C1196.0,602.2 1206.7,602.0 1215.0,602.0C1223.3,602.0 1231.7,606.2 1240.0,606.0C1248.3,605.8 1256.7,601.0 1265.0,601.0C1273.3,601.0 1284.2,602.5 1290.0,606.0C1295.8,609.5 1298.8,615.5 1300.0,622.0C1301.2,628.5 1296.7,637.3 1297.0,645.0C1297.3,652.7 1301.8,660.5 1302.0,668.0C1302.2,675.5 1298.0,682.7 1298.0,690.0C1298.0,697.3 1303.3,706.0 1302.0,712.0C1300.7,718.0 1296.2,723.3 1290.0,726.0C1283.8,728.7 1273.3,728.3 1265.0,728.0C1256.7,727.7 1248.3,723.8 1240.0,724.0C1231.7,724.2 1223.0,728.5 1215.0,729.0C1207.0,729.5 1197.8,729.8 1192.0,727.0C1186.2,724.2 1181.3,718.2 1180.0,712.0C1178.7,705.8 1184.2,697.3 1184.0,690.0C1183.8,682.7 1179.2,675.5 1179.0,668.0C1178.8,660.5 1183.0,652.2 1183.0,645.0C1183.0,637.8 1177.8,631.5 1179.0,625.0C1180.2,618.5 1184.0,609.8 1190.0,606.0Z" fill="#d61212"/>
<g clip-path="url(#clE)">
<rect x="1205" y="628" width="72" height="74" rx="18" fill="none" stroke="#b00606" stroke-width="10" opacity="0.75" filter="url(#bl2)"/>
<ellipse cx="1205" cy="628" rx="14" ry="14" fill="#ee5a5a" opacity="0.35" filter="url(#bl2)"/>
<ellipse cx="1275" cy="626" rx="15" ry="14" fill="#ee5a5a" opacity="0.45" filter="url(#bl2)"/>
<ellipse cx="1205" cy="700" rx="14" ry="14" fill="#ee5a5a" opacity="0.3" filter="url(#bl2)"/>
<ellipse cx="1274" cy="702" rx="14" ry="14" fill="#ee5a5a" opacity="0.35" filter="url(#bl2)"/>
<ellipse cx="1240" cy="612" rx="18" ry="7" fill="#ee5a5a" opacity="0.3" filter="url(#bl2)"/>
<ellipse cx="1240" cy="718" rx="18" ry="7" fill="#ee5a5a" opacity="0.25" filter="url(#bl2)"/>
<ellipse cx="1212" cy="636" rx="4" ry="3" fill="#ffd8d8" opacity="0.8" filter="url(#bl1)"/>
<ellipse cx="1283" cy="630" rx="6" ry="3" fill="#ffd8d8" opacity="0.6" filter="url(#bl1)"/>
<ellipse cx="1247" cy="614" rx="5" ry="2.5" fill="#ffd8d8" opacity="0.6" filter="url(#bl1)"/>
<ellipse cx="1286" cy="690" rx="3" ry="5" fill="#ffd8d8" opacity="0.5" filter="url(#bl1)"/>
<ellipse cx="1240" cy="706" rx="6" ry="2.5" fill="#ffd8d8" opacity="0.55" filter="url(#bl1)"/>
<ellipse cx="1200" cy="673" rx="3" ry="4" fill="#ffd8d8" opacity="0.5" filter="url(#bl1)"/>
</g>
<path d="M1232,652 Q1242,649 1255,653 Q1258,664 1254,676 Q1242,679 1230,677 Q1226,664 1232,652Z" fill="#fff"/>
<ellipse cx="1244" cy="681" rx="17" ry="8" fill="#dc1414"/>
<ellipse cx="1258" cy="668" rx="5" ry="12" fill="#d01010"/>
<ellipse cx="1244" cy="678" rx="9" ry="2" fill="#ff9a9a" opacity="0.7" filter="url(#bl1)"/>
<circle cx="1240.2" cy="664.2" r="9" fill="url(#gBl)"/>
<rect x="1237.8" y="539.8" width="48" height="80" rx="23.0" ry="20.0" fill="#666"/><ellipse cx="1260.8" cy="563.8" rx="21.0" ry="21.6" fill="#777"/><ellipse cx="1260.8" cy="597.4" rx="21.0" ry="20.0" fill="#7d7d7d"/><path d="M1239.8,579.8 Q1261.8,583.8 1283.8,579.8" stroke="#4a4a4a" stroke-width="3" fill="none" opacity="0.7" filter="url(#bl1)"/><path d="M1270.8,555.8 Q1252.8,552.8 1254.8,560.8 Q1258.8,565.8 1270.8,562.8" stroke="#e8e8e8" stroke-width="6" fill="none" stroke-linecap="round" opacity="0.85" filter="url(#bl2)"/><ellipse cx="1262.8" cy="595.8" rx="10" ry="7" fill="url(#gGh)" opacity="0.75"/>
<rect x="1294.4" y="607.5" width="80" height="50" rx="21.0" ry="24.0" fill="#666"/><ellipse cx="1317.6" cy="631.5" rx="20.8" ry="22.0" fill="#777"/><ellipse cx="1351.2" cy="631.5" rx="20.8" ry="22.0" fill="#7d7d7d"/><path d="M1334.4,609.5 Q1330.4,632.5 1334.4,655.5" stroke="#4a4a4a" stroke-width="3" fill="none" opacity="0.7" filter="url(#bl1)"/><ellipse cx="1316.8" cy="628.5" rx="7.5" ry="3.2" transform="rotate(-8 1316.8 628.5)" fill="#f2f2f2" opacity="0.9" filter="url(#bl1)"/><ellipse cx="1316.8" cy="640.5" rx="7" ry="2.6" transform="rotate(8 1316.8 640.5)" fill="#bdbdbd" opacity="0.7" filter="url(#bl1)"/><ellipse cx="1354.4" cy="628.5" rx="7.5" ry="3.2" transform="rotate(-12 1354.4 628.5)" fill="#f2f2f2" opacity="0.9" filter="url(#bl1)"/><ellipse cx="1354.4" cy="640.5" rx="7" ry="2.6" transform="rotate(12 1354.4 640.5)" fill="#bdbdbd" opacity="0.7" filter="url(#bl1)"/>
<rect x="1108.0" y="671.5" width="80" height="50" rx="21.0" ry="24.0" fill="#666"/><ellipse cx="1131.2" cy="695.5" rx="20.8" ry="22.0" fill="#777"/><ellipse cx="1164.8" cy="695.5" rx="20.8" ry="22.0" fill="#7d7d7d"/><path d="M1148.0,673.5 Q1144.0,696.5 1148.0,719.5" stroke="#4a4a4a" stroke-width="3" fill="none" opacity="0.7" filter="url(#bl1)"/><ellipse cx="1130.4" cy="692.5" rx="7.5" ry="3.2" transform="rotate(-8 1130.4 692.5)" fill="#f2f2f2" opacity="0.9" filter="url(#bl1)"/><ellipse cx="1130.4" cy="704.5" rx="7" ry="2.6" transform="rotate(8 1130.4 704.5)" fill="#bdbdbd" opacity="0.7" filter="url(#bl1)"/><ellipse cx="1168.0" cy="692.5" rx="7.5" ry="3.2" transform="rotate(-12 1168.0 692.5)" fill="#f2f2f2" opacity="0.9" filter="url(#bl1)"/><ellipse cx="1168.0" cy="704.5" rx="7" ry="2.6" transform="rotate(12 1168.0 704.5)" fill="#bdbdbd" opacity="0.7" filter="url(#bl1)"/>
<rect x="1335.7" y="662.0" width="80" height="50" rx="21.0" ry="24.0" fill="#666"/><ellipse cx="1358.9" cy="686.0" rx="20.8" ry="22.0" fill="#777"/><ellipse cx="1392.5" cy="686.0" rx="20.8" ry="22.0" fill="#7d7d7d"/><path d="M1375.7,664.0 Q1371.7,687.0 1375.7,710.0" stroke="#4a4a4a" stroke-width="3" fill="none" opacity="0.7" filter="url(#bl1)"/><ellipse cx="1358.1" cy="683.0" rx="7.5" ry="3.2" transform="rotate(-8 1358.1 683.0)" fill="#f2f2f2" opacity="0.9" filter="url(#bl1)"/><ellipse cx="1358.1" cy="695.0" rx="7" ry="2.6" transform="rotate(8 1358.1 695.0)" fill="#bdbdbd" opacity="0.7" filter="url(#bl1)"/><ellipse cx="1395.7" cy="683.0" rx="7.5" ry="3.2" transform="rotate(-12 1395.7 683.0)" fill="#f2f2f2" opacity="0.9" filter="url(#bl1)"/><ellipse cx="1395.7" cy="695.0" rx="7" ry="2.6" transform="rotate(12 1395.7 695.0)" fill="#bdbdbd" opacity="0.7" filter="url(#bl1)"/>
<rect x="1237.7" y="764.5" width="48" height="80" rx="23.0" ry="20.0" fill="#666"/><ellipse cx="1260.7" cy="788.5" rx="21.0" ry="21.6" fill="#777"/><ellipse cx="1260.7" cy="822.1" rx="21.0" ry="20.0" fill="#7d7d7d"/><path d="M1239.7,804.5 Q1261.7,808.5 1283.7,804.5" stroke="#4a4a4a" stroke-width="3" fill="none" opacity="0.7" filter="url(#bl1)"/><path d="M1270.7,780.5 Q1252.7,777.5 1254.7,785.5 Q1258.7,790.5 1270.7,787.5" stroke="#e8e8e8" stroke-width="6" fill="none" stroke-linecap="round" opacity="0.85" filter="url(#bl2)"/><ellipse cx="1262.7" cy="820.5" rx="10" ry="7" fill="url(#gGh)" opacity="0.75"/>
<path d="M1192.2,584.4 L1192.2,588.7 L1192.0,591.9 L1191.8,594.7 L1191.4,597.4 L1191.0,599.9 L1190.4,602.2 L1189.8,604.5 L1189.0,606.6 L1188.2,608.6 L1187.3,610.6 L1186.3,612.4 L1185.2,614.2 L1183.9,615.9 L1182.6,617.5 L1181.3,619.0 L1179.8,620.4 L1178.2,621.7 L1176.5,622.9 L1174.8,624.0 L1173.0,625.0 L1171.0,626.0 L1169.0,626.8 L1166.9,627.6 L1164.7,628.2 L1162.3,628.8 L1159.9,629.2 L1157.2,629.6 L1154.4,629.8 L1151.3,629.9 L1147.0,630.0 L1142.7,629.9 L1139.6,629.8 L1136.8,629.6 L1134.1,629.2 L1131.7,628.8 L1129.3,628.2 L1127.1,627.6 L1125.0,626.8 L1123.0,626.0 L1121.0,625.0 L1119.2,624.0 L1117.5,622.9 L1115.8,621.7 L1114.2,620.4 L1112.7,619.0 L1111.4,617.5 L1110.1,615.9 L1108.8,614.2 L1107.7,612.4 L1106.7,610.6 L1105.8,608.6 L1105.0,606.6 L1104.2,604.5 L1103.6,602.2 L1103.0,599.9 L1102.6,597.4 L1102.2,594.7 L1102.0,591.9 L1101.8,588.7 L1101.8,584.4 L1101.8,580.1 L1102.0,576.9 L1102.2,574.1 L1102.6,571.4 L1103.0,568.9 L1103.6,566.6 L1104.2,564.3 L1105.0,562.2 L1105.8,560.2 L1106.7,558.2 L1107.7,556.4 L1108.8,554.6 L1110.1,552.9 L1111.4,551.3 L1112.7,549.8 L1114.2,548.4 L1115.8,547.1 L1117.5,545.9 L1119.2,544.8 L1121.0,543.8 L1123.0,542.8 L1125.0,542.0 L1127.1,541.2 L1129.3,540.6 L1131.7,540.0 L1134.1,539.6 L1136.8,539.2 L1139.6,539.0 L1142.7,538.9 L1147.0,538.8 L1151.3,538.9 L1154.4,539.0 L1157.2,539.2 L1159.9,539.6 L1162.3,540.0 L1164.7,540.6 L1166.9,541.2 L1169.0,542.0 L1171.0,542.8 L1173.0,543.8 L1174.8,544.8 L1176.5,545.9 L1178.2,547.1 L1179.8,548.4 L1181.3,549.8 L1182.6,551.3 L1183.9,552.9 L1185.2,554.6 L1186.3,556.4 L1187.3,558.2 L1188.2,560.2 L1189.0,562.2 L1189.8,564.3 L1190.4,566.6 L1191.0,568.9 L1191.4,571.4 L1191.8,574.1 L1192.0,576.9 L1192.2,580.1Z" fill="url(#gM)"/><path d="M1103.0,585.4 Q1147.0,579.4 1191.0,582.4" stroke="#8a0a92" stroke-width="3" opacity="0.45" fill="none" filter="url(#bl1)"/><path d="M1150.0,540.4 Q1145.0,562.4 1150.0,582.4" stroke="#8a0a92" stroke-width="2" opacity="0.3" fill="none" filter="url(#bl1)"/><path d="M1107.0,562.4 Q1122.0,544.4 1145.0,540.4" stroke="#8a0a92" stroke-width="2" opacity="0.25" fill="none" filter="url(#bl1)"/><path d="M1123.0,557.4 L1139.0,574.4" stroke="#f8b8fa" stroke-width="4" stroke-linecap="round" opacity="0.6" filter="url(#bl2)"/><path d="M1173.0,557.4 L1154.0,578.4" stroke="#f8b8fa" stroke-width="5" stroke-linecap="round" opacity="0.6" filter="url(#bl2)"/><path d="M1169.0,602.4 L1155.0,590.4" stroke="#f0a0f4" stroke-width="4" stroke-linecap="round" opacity="0.3" filter="url(#bl2)"/>
<path d="M1420.2,575.0 L1420.2,579.3 L1420.0,582.5 L1419.8,585.3 L1419.4,588.0 L1419.0,590.5 L1418.4,592.8 L1417.8,595.1 L1417.0,597.2 L1416.2,599.2 L1415.3,601.2 L1414.3,603.0 L1413.2,604.8 L1411.9,606.5 L1410.6,608.1 L1409.3,609.6 L1407.8,611.0 L1406.2,612.3 L1404.5,613.5 L1402.8,614.6 L1401.0,615.6 L1399.0,616.6 L1397.0,617.4 L1394.9,618.2 L1392.7,618.8 L1390.3,619.4 L1387.9,619.8 L1385.2,620.2 L1382.4,620.4 L1379.3,620.5 L1375.0,620.6 L1370.7,620.5 L1367.6,620.4 L1364.8,620.2 L1362.1,619.8 L1359.7,619.4 L1357.3,618.8 L1355.1,618.2 L1353.0,617.4 L1351.0,616.6 L1349.0,615.6 L1347.2,614.6 L1345.5,613.5 L1343.8,612.3 L1342.2,611.0 L1340.7,609.6 L1339.4,608.1 L1338.1,606.5 L1336.8,604.8 L1335.7,603.0 L1334.7,601.2 L1333.8,599.2 L1333.0,597.2 L1332.2,595.1 L1331.6,592.8 L1331.0,590.5 L1330.6,588.0 L1330.2,585.3 L1330.0,582.5 L1329.8,579.3 L1329.8,575.0 L1329.8,570.7 L1330.0,567.5 L1330.2,564.7 L1330.6,562.0 L1331.0,559.5 L1331.6,557.2 L1332.2,554.9 L1333.0,552.8 L1333.8,550.8 L1334.7,548.8 L1335.7,547.0 L1336.8,545.2 L1338.1,543.5 L1339.4,541.9 L1340.7,540.4 L1342.2,539.0 L1343.8,537.7 L1345.5,536.5 L1347.2,535.4 L1349.0,534.4 L1351.0,533.4 L1353.0,532.6 L1355.1,531.8 L1357.3,531.2 L1359.7,530.6 L1362.1,530.2 L1364.8,529.8 L1367.6,529.6 L1370.7,529.5 L1375.0,529.4 L1379.3,529.5 L1382.4,529.6 L1385.2,529.8 L1387.9,530.2 L1390.3,530.6 L1392.7,531.2 L1394.9,531.8 L1397.0,532.6 L1399.0,533.4 L1401.0,534.4 L1402.8,535.4 L1404.5,536.5 L1406.2,537.7 L1407.8,539.0 L1409.3,540.4 L1410.6,541.9 L1411.9,543.5 L1413.2,545.2 L1414.3,547.0 L1415.3,548.8 L1416.2,550.8 L1417.0,552.8 L1417.8,554.9 L1418.4,557.2 L1419.0,559.5 L1419.4,562.0 L1419.8,564.7 L1420.0,567.5 L1420.2,570.7Z" fill="url(#gM)"/><path d="M1331.0,576.0 Q1375.0,570.0 1419.0,573.0" stroke="#8a0a92" stroke-width="3" opacity="0.45" fill="none" filter="url(#bl1)"/><path d="M1378.0,531.0 Q1373.0,553.0 1378.0,573.0" stroke="#8a0a92" stroke-width="2" opacity="0.3" fill="none" filter="url(#bl1)"/><path d="M1335.0,553.0 Q1350.0,535.0 1373.0,531.0" stroke="#8a0a92" stroke-width="2" opacity="0.25" fill="none" filter="url(#bl1)"/><path d="M1351.0,548.0 L1367.0,565.0" stroke="#f8b8fa" stroke-width="4" stroke-linecap="round" opacity="0.6" filter="url(#bl2)"/><path d="M1401.0,548.0 L1382.0,569.0" stroke="#f8b8fa" stroke-width="5" stroke-linecap="round" opacity="0.6" filter="url(#bl2)"/><path d="M1397.0,593.0 L1383.0,581.0" stroke="#f0a0f4" stroke-width="4" stroke-linecap="round" opacity="0.3" filter="url(#bl2)"/>
<path d="M1192.2,809.0 L1192.2,813.3 L1192.0,816.5 L1191.8,819.3 L1191.4,822.0 L1191.0,824.5 L1190.4,826.8 L1189.8,829.1 L1189.0,831.2 L1188.2,833.2 L1187.3,835.2 L1186.3,837.0 L1185.2,838.8 L1183.9,840.5 L1182.6,842.1 L1181.3,843.6 L1179.8,845.0 L1178.2,846.3 L1176.5,847.5 L1174.8,848.6 L1173.0,849.6 L1171.0,850.6 L1169.0,851.4 L1166.9,852.2 L1164.7,852.8 L1162.3,853.4 L1159.9,853.8 L1157.2,854.2 L1154.4,854.4 L1151.3,854.5 L1147.0,854.6 L1142.7,854.5 L1139.6,854.4 L1136.8,854.2 L1134.1,853.8 L1131.7,853.4 L1129.3,852.8 L1127.1,852.2 L1125.0,851.4 L1123.0,850.6 L1121.0,849.6 L1119.2,848.6 L1117.5,847.5 L1115.8,846.3 L1114.2,845.0 L1112.7,843.6 L1111.4,842.1 L1110.1,840.5 L1108.8,838.8 L1107.7,837.0 L1106.7,835.2 L1105.8,833.2 L1105.0,831.2 L1104.2,829.1 L1103.6,826.8 L1103.0,824.5 L1102.6,822.0 L1102.2,819.3 L1102.0,816.5 L1101.8,813.3 L1101.8,809.0 L1101.8,804.7 L1102.0,801.5 L1102.2,798.7 L1102.6,796.0 L1103.0,793.5 L1103.6,791.2 L1104.2,788.9 L1105.0,786.8 L1105.8,784.8 L1106.7,782.8 L1107.7,781.0 L1108.8,779.2 L1110.1,777.5 L1111.4,775.9 L1112.7,774.4 L1114.2,773.0 L1115.8,771.7 L1117.5,770.5 L1119.2,769.4 L1121.0,768.4 L1123.0,767.4 L1125.0,766.6 L1127.1,765.8 L1129.3,765.2 L1131.7,764.6 L1134.1,764.2 L1136.8,763.8 L1139.6,763.6 L1142.7,763.5 L1147.0,763.4 L1151.3,763.5 L1154.4,763.6 L1157.2,763.8 L1159.9,764.2 L1162.3,764.6 L1164.7,765.2 L1166.9,765.8 L1169.0,766.6 L1171.0,767.4 L1173.0,768.4 L1174.8,769.4 L1176.5,770.5 L1178.2,771.7 L1179.8,773.0 L1181.3,774.4 L1182.6,775.9 L1183.9,777.5 L1185.2,779.2 L1186.3,781.0 L1187.3,782.8 L1188.2,784.8 L1189.0,786.8 L1189.8,788.9 L1190.4,791.2 L1191.0,793.5 L1191.4,796.0 L1191.8,798.7 L1192.0,801.5 L1192.2,804.7Z" fill="url(#gM)"/><path d="M1103.0,810.0 Q1147.0,804.0 1191.0,807.0" stroke="#8a0a92" stroke-width="3" opacity="0.45" fill="none" filter="url(#bl1)"/><path d="M1150.0,765.0 Q1145.0,787.0 1150.0,807.0" stroke="#8a0a92" stroke-width="2" opacity="0.3" fill="none" filter="url(#bl1)"/><path d="M1107.0,787.0 Q1122.0,769.0 1145.0,765.0" stroke="#8a0a92" stroke-width="2" opacity="0.25" fill="none" filter="url(#bl1)"/><path d="M1123.0,782.0 L1139.0,799.0" stroke="#f8b8fa" stroke-width="4" stroke-linecap="round" opacity="0.6" filter="url(#bl2)"/><path d="M1173.0,782.0 L1154.0,803.0" stroke="#f8b8fa" stroke-width="5" stroke-linecap="round" opacity="0.6" filter="url(#bl2)"/><path d="M1169.0,827.0 L1155.0,815.0" stroke="#f0a0f4" stroke-width="4" stroke-linecap="round" opacity="0.3" filter="url(#bl2)"/>
<path d="M1420.8,798.5 L1420.8,802.8 L1420.6,806.0 L1420.4,808.8 L1420.0,811.5 L1419.6,814.0 L1419.0,816.3 L1418.4,818.6 L1417.6,820.7 L1416.8,822.7 L1415.9,824.7 L1414.9,826.5 L1413.8,828.3 L1412.5,830.0 L1411.2,831.6 L1409.9,833.1 L1408.4,834.5 L1406.8,835.8 L1405.1,837.0 L1403.4,838.1 L1401.6,839.1 L1399.6,840.1 L1397.6,840.9 L1395.5,841.7 L1393.3,842.3 L1390.9,842.9 L1388.5,843.3 L1385.8,843.7 L1383.0,843.9 L1379.9,844.0 L1375.6,844.1 L1371.3,844.0 L1368.2,843.9 L1365.4,843.7 L1362.7,843.3 L1360.3,842.9 L1357.9,842.3 L1355.7,841.7 L1353.6,840.9 L1351.6,840.1 L1349.6,839.1 L1347.8,838.1 L1346.1,837.0 L1344.4,835.8 L1342.8,834.5 L1341.3,833.1 L1340.0,831.6 L1338.7,830.0 L1337.4,828.3 L1336.3,826.5 L1335.3,824.7 L1334.4,822.7 L1333.6,820.7 L1332.8,818.6 L1332.2,816.3 L1331.6,814.0 L1331.2,811.5 L1330.8,808.8 L1330.6,806.0 L1330.4,802.8 L1330.4,798.5 L1330.4,794.2 L1330.6,791.0 L1330.8,788.2 L1331.2,785.5 L1331.6,783.0 L1332.2,780.7 L1332.8,778.4 L1333.6,776.3 L1334.4,774.3 L1335.3,772.3 L1336.3,770.5 L1337.4,768.7 L1338.7,767.0 L1340.0,765.4 L1341.3,763.9 L1342.8,762.5 L1344.4,761.2 L1346.1,760.0 L1347.8,758.9 L1349.6,757.9 L1351.6,756.9 L1353.6,756.1 L1355.7,755.3 L1357.9,754.7 L1360.3,754.1 L1362.7,753.7 L1365.4,753.3 L1368.2,753.1 L1371.3,753.0 L1375.6,752.9 L1379.9,753.0 L1383.0,753.1 L1385.8,753.3 L1388.5,753.7 L1390.9,754.1 L1393.3,754.7 L1395.5,755.3 L1397.6,756.1 L1399.6,756.9 L1401.6,757.9 L1403.4,758.9 L1405.1,760.0 L1406.8,761.2 L1408.4,762.5 L1409.9,763.9 L1411.2,765.4 L1412.5,767.0 L1413.8,768.7 L1414.9,770.5 L1415.9,772.3 L1416.8,774.3 L1417.6,776.3 L1418.4,778.4 L1419.0,780.7 L1419.6,783.0 L1420.0,785.5 L1420.4,788.2 L1420.6,791.0 L1420.8,794.2Z" fill="url(#gM)"/><path d="M1331.6,799.5 Q1375.6,793.5 1419.6,796.5" stroke="#8a0a92" stroke-width="3" opacity="0.45" fill="none" filter="url(#bl1)"/><path d="M1378.6,754.5 Q1373.6,776.5 1378.6,796.5" stroke="#8a0a92" stroke-width="2" opacity="0.3" fill="none" filter="url(#bl1)"/><path d="M1335.6,776.5 Q1350.6,758.5 1373.6,754.5" stroke="#8a0a92" stroke-width="2" opacity="0.25" fill="none" filter="url(#bl1)"/><path d="M1351.6,771.5 L1367.6,788.5" stroke="#f8b8fa" stroke-width="4" stroke-linecap="round" opacity="0.6" filter="url(#bl2)"/><path d="M1401.6,771.5 L1382.6,792.5" stroke="#f8b8fa" stroke-width="5" stroke-linecap="round" opacity="0.6" filter="url(#bl2)"/><path d="M1397.6,816.5 L1383.6,804.5" stroke="#f0a0f4" stroke-width="4" stroke-linecap="round" opacity="0.3" filter="url(#bl2)"/>
<path d="M1147.5,584.0 L1375.8,576.0 L1375.8,797.8 L1147.0,808.2Z" stroke="#222" stroke-width="1.1" fill="none" opacity="0.7"/>
<text x="1021.2" y="493.2" style="font-size:42px;font-weight:bold">e</text>
</svg></body></html>
